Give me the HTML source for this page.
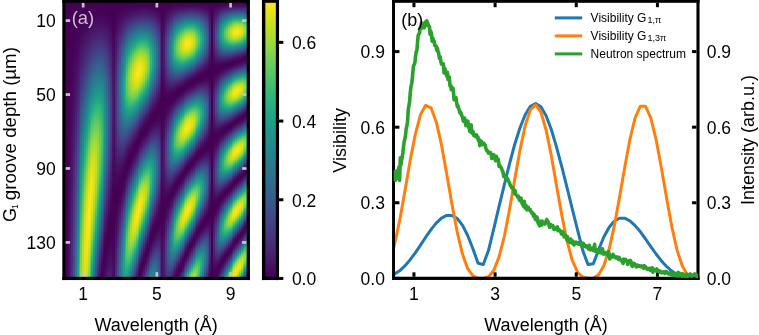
<!DOCTYPE html>
<html><head><meta charset="utf-8"><title>fig</title>
<style>
html,body{margin:0;padding:0;background:#fff}
body{width:759px;height:335px;position:relative;overflow:hidden;font-family:"Liberation Sans",sans-serif}
#hm i{position:absolute;top:1px;width:1px;height:278px;display:block}
#cbar{position:absolute;left:264.35px;top:1.20px;width:12.50px;height:277.25px;background:linear-gradient(#fde725,#efe51c,#dfe318,#cde11d,#bddf26,#addc30,#9bd93c,#8bd646,#7ad151,#6ccd5a,#5ec962,#50c46a,#44bf70,#38b977,#2fb47c,#28ae80,#22a884,#1fa287,#1e9c89,#1f968b,#21918c,#238a8d,#25848e,#277e8e,#2a788e,#2c728e,#2f6c8e,#31668e,#355f8d,#38598c,#3b528b,#3e4a89,#414487,#443b84,#463480,#472d7b,#482475,#481c6e,#471365,#460a5d,#440154)}
</style></head><body>
<div id="hm">
<i style="left:64px;background:linear-gradient(#440154,#440154,#440154,#440154,#440154,#440154,#440154,#440154,#440154,#440154,#440154,#440154,#440154,#440154,#440154,#440154,#440154,#440154,#440154,#440154,#440154,#440154,#440154,#440154,#440154,#440154,#440154,#440154,#440154,#440154,#440154,#440154,#440154,#440154,#440154,#440154,#440154,#440154,#440154,#440154,#440154,#440154,#440154,#440154,#440154,#440154,#440154,#440154,#440154,#440154,#440154,#440154,#440154,#440154,#440154,#440154,#440154,#440154,#440154,#440154,#440154,#440154,#440154,#440154,#440154,#440154,#440154,#440154,#440154,#440154,#440154,#440154,#440154,#440154,#440154,#440154,#440154,#440154,#440154,#440154,#440154,#440154,#440154,#440154,#440154,#440154,#440154,#440154,#440154,#440154,#440154,#440154,#440154,#440154,#440154,#440154,#440154,#440154,#440154,#440154,#440154,#440154,#440154,#440154,#440154,#440154,#440154,#440154,#440154,#440154,#440154,#440154,#440154,#440154,#440154,#440154,#440154,#440154,#440154,#440154)"></i>
<i style="left:65px;background:linear-gradient(#440154,#440154,#440154,#440154,#440154,#440154,#440154,#440154,#440154,#440154,#440154,#440154,#440154,#440154,#440154,#440154,#440154,#440154,#440154,#440154,#440154,#440154,#440154,#440154,#440154,#440154,#440154,#440154,#440154,#440154,#440154,#440154,#440154,#440154,#440154,#440154,#440154,#440154,#440154,#440154,#440154,#440154,#440154,#440154,#440154,#440154,#440154,#440154,#440154,#440154,#440154,#440154,#440154,#440154,#440154,#440154,#440154,#440154,#440154,#440154,#440154,#440154,#440154,#440154,#440154,#440154,#440154,#440154,#440154,#440154,#440154,#440154,#440154,#440154,#440154,#440154,#440154,#440154,#440154,#440154,#440154,#440154,#440154,#440154,#440154,#440154,#440154,#440154,#440154,#440154,#440154,#440154,#440154,#440154,#440154,#440154,#440154,#440154,#440154,#440154,#440154,#440154,#440154,#440154,#440154,#440154,#440154,#440154,#440154,#440154,#440154,#440154,#440154,#440154,#440154,#440154,#440154,#440154,#440154,#440154)"></i>
<i style="left:66px;background:linear-gradient(#440154,#440154,#440154,#440154,#440154,#440154,#440154,#440154,#440154,#440154,#440154,#440154,#440154,#440154,#440154,#440154,#440154,#440154,#440154,#440154,#440154,#440154,#440154,#440154,#440154,#440154,#440154,#440154,#440154,#440154,#440154,#440154,#440154,#440154,#440154,#440154,#440154,#440154,#440154,#440154,#440154,#440154,#440154,#440154,#440154,#440154,#440154,#440154,#440154,#440154,#440154,#440154,#440154,#440154,#440154,#440154,#440154,#440154,#440154,#440154,#440154,#440154,#440154,#440154,#440154,#440154,#440154,#440154,#440154,#440154,#440154,#440154,#440154,#440154,#440154,#440154,#440154,#440154,#440154,#440154,#440154,#440154,#440154,#440154,#440154,#440154,#440154,#440154,#440154,#440154,#440154,#440154,#440154,#440154,#440154,#440154,#440154,#440154,#440154,#440154,#440154,#440154,#440154,#440154,#440154,#440154,#440154,#440154,#440154,#440154,#440154,#440154,#440154,#440154,#440154,#440154,#440154,#440154,#440154,#440154)"></i>
<i style="left:67px;background:linear-gradient(#440154,#440154,#440154,#440154,#440154,#440154,#440154,#440154,#440154,#440154,#440154,#440154,#440154,#440154,#440154,#440154,#440154,#440154,#440154,#440154,#440154,#440154,#440154,#440154,#440154,#440154,#440154,#440154,#440154,#440154,#440154,#440154,#440154,#440154,#440154,#440154,#440154,#440154,#440154,#440154,#440154,#440154,#440154,#440154,#440154,#440154,#440154,#440154,#440154,#440154,#440256,#440256,#440256,#440256,#440256,#440256,#440256,#440256,#440256,#440256,#440256,#440256,#440256,#440256,#440256,#440256,#440256,#440256,#440256,#440256,#440256,#450457,#450457,#450457,#450457,#450457,#450457,#450457,#450457,#450457,#450457,#450457,#450457,#450457,#450457,#450457,#450457,#450559,#450559,#450559,#450559,#450559,#450559,#450559,#450559,#450559,#450559,#450559,#450559,#450559,#46075a,#46075a,#46075a,#46075a,#46075a,#46075a,#46075a,#46075a,#46075a,#46075a,#46075a,#46075a,#46075a,#46085c,#46085c,#46085c,#46085c,#46085c,#46085c,#46085c)"></i>
<i style="left:68px;background:linear-gradient(#440154,#440154,#440154,#440154,#440154,#440154,#440154,#440154,#440154,#440154,#440154,#440154,#440154,#440154,#440154,#440154,#440154,#440154,#440154,#440154,#440154,#440154,#440154,#440154,#440154,#440154,#440154,#440154,#440154,#440154,#440154,#440154,#440154,#440154,#440154,#440154,#440154,#440154,#440154,#440154,#440154,#440154,#440154,#440154,#440154,#440154,#440154,#440154,#440154,#440154,#440256,#440256,#440256,#440256,#440256,#440256,#440256,#440256,#440256,#440256,#440256,#440256,#440256,#440256,#440256,#440256,#440256,#440256,#440256,#440256,#440256,#450457,#450457,#450457,#450457,#450457,#450457,#450457,#450457,#450457,#450457,#450457,#450457,#450457,#450457,#450457,#450457,#450559,#450559,#450559,#450559,#450559,#450559,#450559,#450559,#450559,#450559,#450559,#450559,#450559,#46075a,#46075a,#46075a,#46075a,#46075a,#46075a,#46075a,#46075a,#46075a,#46075a,#46075a,#46075a,#46075a,#46085c,#46085c,#46085c,#46085c,#46085c,#46085c,#46085c)"></i>
<i style="left:69px;background:linear-gradient(#440154,#440154,#440154,#440154,#440154,#440154,#440154,#440154,#440154,#440154,#440154,#440154,#440154,#440154,#440154,#440154,#440154,#440154,#440154,#440154,#440154,#440154,#440154,#440154,#440154,#440154,#440154,#440154,#440256,#440256,#440256,#440256,#440256,#440256,#440256,#440256,#440256,#440256,#440256,#450457,#450457,#450457,#450457,#450457,#450457,#450457,#450457,#450457,#450559,#450559,#450559,#450559,#450559,#450559,#450559,#46075a,#46075a,#46075a,#46075a,#46075a,#46075a,#46075a,#46085c,#46085c,#46085c,#46085c,#46085c,#46085c,#460a5d,#460a5d,#460a5d,#460a5d,#460a5d,#460b5e,#460b5e,#460b5e,#460b5e,#460b5e,#470d60,#470d60,#470d60,#470d60,#470d60,#470e61,#470e61,#470e61,#470e61,#470e61,#471063,#471063,#471063,#471063,#471164,#471164,#471164,#471164,#471365,#471365,#471365,#471365,#471365,#481467,#481467,#481467,#481467,#481668,#481668,#481668,#481769,#481769,#481769,#481769,#48186a,#48186a,#48186a,#48186a,#481a6c,#481a6c,#481a6c,#481b6d)"></i>
<i style="left:70px;background:linear-gradient(#440154,#440154,#440154,#440154,#440154,#440154,#440154,#440154,#440154,#440154,#440154,#440154,#440154,#440154,#440154,#440154,#440154,#440154,#440154,#440154,#440154,#440154,#440154,#440154,#440154,#440154,#440154,#440154,#440256,#440256,#440256,#440256,#440256,#440256,#440256,#440256,#440256,#440256,#440256,#450457,#450457,#450457,#450457,#450457,#450457,#450457,#450457,#450457,#450559,#450559,#450559,#450559,#450559,#450559,#450559,#46075a,#46075a,#46075a,#46075a,#46075a,#46075a,#46075a,#46085c,#46085c,#46085c,#46085c,#46085c,#46085c,#460a5d,#460a5d,#460a5d,#460a5d,#460a5d,#460b5e,#460b5e,#460b5e,#460b5e,#460b5e,#470d60,#470d60,#470d60,#470d60,#470d60,#470e61,#470e61,#470e61,#470e61,#470e61,#471063,#471063,#471063,#471063,#471164,#471164,#471164,#471164,#471365,#471365,#471365,#471365,#471365,#481467,#481467,#481467,#481467,#481668,#481668,#481668,#481769,#481769,#481769,#481769,#48186a,#48186a,#48186a,#48186a,#481a6c,#481a6c,#481a6c,#481b6d)"></i>
<i style="left:71px;background:linear-gradient(#440154,#440154,#440154,#440154,#440154,#440154,#440154,#440154,#440154,#440154,#440154,#440154,#440154,#440154,#440154,#440154,#440154,#440154,#440154,#440256,#440256,#440256,#440256,#440256,#440256,#440256,#450457,#450457,#450457,#450457,#450457,#450457,#450559,#450559,#450559,#450559,#46075a,#46075a,#46075a,#46075a,#46075a,#46085c,#46085c,#46085c,#46085c,#460a5d,#460a5d,#460a5d,#460b5e,#460b5e,#460b5e,#470d60,#470d60,#470d60,#470d60,#470e61,#470e61,#470e61,#471063,#471063,#471164,#471164,#471164,#471365,#471365,#471365,#481467,#481467,#481668,#481668,#481668,#481769,#481769,#48186a,#48186a,#48186a,#481a6c,#481a6c,#481b6d,#481b6d,#481c6e,#481c6e,#481d6f,#481d6f,#481f70,#481f70,#481f70,#482071,#482071,#482173,#482173,#482374,#482374,#482475,#482475,#482576,#482576,#482677,#482878,#482878,#482979,#482979,#472a7a,#472a7a,#472c7a,#472c7a,#472d7b,#472d7b,#472e7c,#472e7c,#472f7d,#46307e,#46307e,#46327e,#46327e,#46337f,#46337f,#463480,#453581,#453581)"></i>
<i style="left:72px;background:linear-gradient(#440154,#440154,#440154,#440154,#440154,#440154,#440154,#440154,#440154,#440154,#440154,#440154,#440154,#440154,#440154,#440154,#440154,#440154,#440154,#440256,#440256,#440256,#440256,#440256,#440256,#440256,#450457,#450457,#450457,#450457,#450457,#450457,#450559,#450559,#450559,#450559,#46075a,#46075a,#46075a,#46075a,#46075a,#46085c,#46085c,#46085c,#46085c,#460a5d,#460a5d,#460a5d,#460b5e,#460b5e,#460b5e,#470d60,#470d60,#470d60,#470d60,#470e61,#470e61,#470e61,#471063,#471063,#471164,#471164,#471164,#471365,#471365,#471365,#481467,#481467,#481668,#481668,#481668,#481769,#481769,#48186a,#48186a,#48186a,#481a6c,#481a6c,#481b6d,#481b6d,#481c6e,#481c6e,#481d6f,#481d6f,#481f70,#481f70,#481f70,#482071,#482071,#482173,#482173,#482374,#482374,#482475,#482475,#482576,#482576,#482677,#482878,#482878,#482979,#482979,#472a7a,#472a7a,#472c7a,#472c7a,#472d7b,#472d7b,#472e7c,#472e7c,#472f7d,#46307e,#46307e,#46327e,#46327e,#46337f,#46337f,#463480,#453581,#453581)"></i>
<i style="left:73px;background:linear-gradient(#440154,#440154,#440154,#440154,#440154,#440154,#440154,#440154,#440154,#440154,#440154,#440154,#440154,#440154,#440256,#440256,#440256,#440256,#440256,#450457,#450457,#450457,#450457,#450559,#450559,#450559,#450559,#46075a,#46075a,#46075a,#46085c,#46085c,#460a5d,#460a5d,#460a5d,#460b5e,#460b5e,#470d60,#470d60,#470d60,#470e61,#470e61,#471063,#471063,#471164,#471164,#471365,#471365,#481467,#481668,#481668,#481769,#481769,#48186a,#48186a,#481a6c,#481b6d,#481b6d,#481c6e,#481d6f,#481d6f,#481f70,#482071,#482071,#482173,#482374,#482374,#482475,#482576,#482576,#482677,#482878,#482979,#482979,#472a7a,#472c7a,#472d7b,#472e7c,#472e7c,#472f7d,#46307e,#46327e,#46337f,#46337f,#463480,#453581,#453781,#453882,#443983,#443983,#443a83,#443b84,#433d84,#433e85,#423f85,#424086,#424186,#424186,#414287,#414487,#404588,#404688,#3f4788,#3f4889,#3e4989,#3e4a89,#3e4c8a,#3d4d8a,#3d4d8a,#3d4e8a,#3c4f8a,#3c508b,#3b518b,#3b528b,#3a538b,#3a548c,#39558c,#39568c,#38588c,#38598c)"></i>
<i style="left:74px;background:linear-gradient(#440154,#440154,#440154,#440154,#440154,#440154,#440154,#440154,#440154,#440154,#440154,#440154,#440154,#440154,#440256,#440256,#440256,#440256,#440256,#450457,#450457,#450457,#450457,#450559,#450559,#450559,#450559,#46075a,#46075a,#46075a,#46085c,#46085c,#460a5d,#460a5d,#460a5d,#460b5e,#460b5e,#470d60,#470d60,#470d60,#470e61,#470e61,#471063,#471063,#471164,#471164,#471365,#471365,#481467,#481668,#481668,#481769,#481769,#48186a,#48186a,#481a6c,#481b6d,#481b6d,#481c6e,#481d6f,#481d6f,#481f70,#482071,#482071,#482173,#482374,#482374,#482475,#482576,#482576,#482677,#482878,#482979,#482979,#472a7a,#472c7a,#472d7b,#472e7c,#472e7c,#472f7d,#46307e,#46327e,#46337f,#46337f,#463480,#453581,#453781,#453882,#443983,#443983,#443a83,#443b84,#433d84,#433e85,#423f85,#424086,#424186,#424186,#414287,#414487,#404588,#404688,#3f4788,#3f4889,#3e4989,#3e4a89,#3e4c8a,#3d4d8a,#3d4d8a,#3d4e8a,#3c4f8a,#3c508b,#3b518b,#3b528b,#3a538b,#3a548c,#39558c,#39568c,#38588c,#38598c)"></i>
<i style="left:75px;background:linear-gradient(#440154,#440154,#440154,#440154,#440154,#440154,#440154,#440154,#440154,#440154,#440154,#440256,#440256,#440256,#440256,#450457,#450457,#450457,#450559,#450559,#450559,#46075a,#46075a,#46085c,#46085c,#460a5d,#460a5d,#460b5e,#460b5e,#470d60,#470d60,#470e61,#471063,#471063,#471164,#471365,#471365,#481467,#481668,#481668,#481769,#48186a,#481a6c,#481b6d,#481b6d,#481c6e,#481d6f,#481f70,#482071,#482173,#482374,#482475,#482576,#482576,#482677,#482878,#482979,#472a7a,#472c7a,#472e7c,#472f7d,#46307e,#46327e,#46337f,#463480,#453581,#453781,#453882,#443983,#443b84,#433d84,#433e85,#423f85,#424086,#424186,#414487,#404588,#404688,#3f4788,#3e4989,#3e4a89,#3e4c8a,#3d4d8a,#3c4f8a,#3c508b,#3b518b,#3b528b,#3a548c,#39558c,#39568c,#38598c,#375a8c,#375b8d,#365c8d,#355e8d,#355f8d,#34608d,#33628d,#33638d,#32648e,#31668e,#31678e,#31688e,#30698e,#2f6b8e,#2f6c8e,#2e6d8e,#2e6f8e,#2d708e,#2d718e,#2c728e,#2c738e,#2b748e,#2b758e,#2a778e,#2a788e,#29798e,#297b8e,#287c8e,#287d8e)"></i>
<i style="left:76px;background:linear-gradient(#440154,#440154,#440154,#440154,#440154,#440154,#440154,#440154,#440154,#440154,#440154,#440256,#440256,#440256,#440256,#450457,#450457,#450457,#450559,#450559,#450559,#46075a,#46075a,#46085c,#46085c,#460a5d,#460a5d,#460b5e,#460b5e,#470d60,#470d60,#470e61,#471063,#471063,#471164,#471365,#471365,#481467,#481668,#481668,#481769,#48186a,#481a6c,#481b6d,#481b6d,#481c6e,#481d6f,#481f70,#482071,#482173,#482374,#482475,#482576,#482576,#482677,#482878,#482979,#472a7a,#472c7a,#472e7c,#472f7d,#46307e,#46327e,#46337f,#463480,#453581,#453781,#453882,#443983,#443b84,#433d84,#433e85,#423f85,#424086,#424186,#414487,#404588,#404688,#3f4788,#3e4989,#3e4a89,#3e4c8a,#3d4d8a,#3c4f8a,#3c508b,#3b518b,#3b528b,#3a548c,#39558c,#39568c,#38598c,#375a8c,#375b8d,#365c8d,#355e8d,#355f8d,#34608d,#33628d,#33638d,#32648e,#31668e,#31678e,#31688e,#30698e,#2f6b8e,#2f6c8e,#2e6d8e,#2e6f8e,#2d708e,#2d718e,#2c728e,#2c738e,#2b748e,#2b758e,#2a778e,#2a788e,#29798e,#297b8e,#287c8e,#287d8e)"></i>
<i style="left:77px;background:linear-gradient(#440154,#440154,#440154,#440154,#440154,#440154,#440154,#440154,#440154,#440256,#440256,#440256,#450457,#450457,#450457,#450559,#450559,#46075a,#46075a,#46085c,#460a5d,#460a5d,#460b5e,#460b5e,#470d60,#470e61,#471063,#471063,#471164,#471365,#481467,#481668,#481769,#48186a,#481a6c,#481b6d,#481c6e,#481d6f,#481f70,#482071,#482173,#482374,#482576,#482677,#482878,#482979,#472c7a,#472d7b,#472e7c,#46307e,#46327e,#46337f,#453581,#453781,#443983,#443a83,#443b84,#433e85,#423f85,#424186,#414487,#404588,#3f4788,#3f4889,#3e4a89,#3e4c8a,#3d4e8a,#3c508b,#3b518b,#3a538b,#39558c,#39568c,#38598c,#375b8d,#365c8d,#355e8d,#34608d,#34618d,#33638d,#32658e,#31668e,#31688e,#306a8e,#2f6c8e,#2e6d8e,#2e6f8e,#2d718e,#2c728e,#2c738e,#2b758e,#2a778e,#2a788e,#297a8e,#287c8e,#277e8e,#277f8e,#26818e,#26828e,#25838e,#25858e,#24878e,#23888e,#238a8d,#228c8d,#228d8d,#218f8d,#21908d,#20928c,#20938c,#1f948c,#1f968b,#1f978b,#1f998a,#1f9a8a,#1e9c89,#1e9d89,#1f9f88,#1fa088,#1fa187,#1fa287)"></i>
<i style="left:78px;background:linear-gradient(#440154,#440154,#440154,#440154,#440154,#440154,#440154,#440154,#440154,#440256,#440256,#440256,#450457,#450457,#450457,#450559,#450559,#46075a,#46075a,#46085c,#460a5d,#460a5d,#460b5e,#460b5e,#470d60,#470e61,#471063,#471063,#471164,#471365,#481467,#481668,#481769,#48186a,#481a6c,#481b6d,#481c6e,#481d6f,#481f70,#482071,#482173,#482374,#482576,#482677,#482878,#482979,#472c7a,#472d7b,#472e7c,#46307e,#46327e,#46337f,#453581,#453781,#443983,#443a83,#443b84,#433e85,#423f85,#424186,#414487,#404588,#3f4788,#3f4889,#3e4a89,#3e4c8a,#3d4e8a,#3c508b,#3b518b,#3a538b,#39558c,#39568c,#38598c,#375b8d,#365c8d,#355e8d,#34608d,#34618d,#33638d,#32658e,#31668e,#31688e,#306a8e,#2f6c8e,#2e6d8e,#2e6f8e,#2d718e,#2c728e,#2c738e,#2b758e,#2a778e,#2a788e,#297a8e,#287c8e,#277e8e,#277f8e,#26818e,#26828e,#25838e,#25858e,#24878e,#23888e,#238a8d,#228c8d,#228d8d,#218f8d,#21908d,#20928c,#20938c,#1f948c,#1f968b,#1f978b,#1f998a,#1f9a8a,#1e9c89,#1e9d89,#1f9f88,#1fa088,#1fa187,#1fa287)"></i>
<i style="left:79px;background:linear-gradient(#440154,#440154,#440154,#440154,#440154,#440154,#440154,#440154,#440256,#440256,#450457,#450457,#450559,#450559,#46075a,#46075a,#46085c,#460a5d,#460a5d,#460b5e,#470d60,#470e61,#471063,#471164,#471365,#481467,#481668,#481769,#48186a,#481b6d,#481c6e,#481d6f,#481f70,#482173,#482374,#482576,#482677,#482979,#472a7a,#472d7b,#472e7c,#46307e,#46337f,#463480,#453781,#443983,#443a83,#433d84,#423f85,#424186,#414487,#404688,#3f4889,#3e4a89,#3d4d8a,#3d4e8a,#3c508b,#3b528b,#39558c,#38588c,#375a8c,#365c8d,#355e8d,#34608d,#33628d,#32648e,#31668e,#31688e,#2f6b8e,#2e6d8e,#2e6f8e,#2d718e,#2c728e,#2b748e,#2a778e,#29798e,#297b8e,#287d8e,#277f8e,#26818e,#25838e,#25858e,#24878e,#23898e,#228b8d,#228d8d,#218f8d,#21918c,#20938c,#1f958b,#1f978b,#1f998a,#1e9b8a,#1e9d89,#1f9f88,#1fa188,#1fa287,#20a486,#21a685,#22a884,#23a983,#25ab82,#26ad81,#28ae80,#2ab07f,#2db27d,#2eb37c,#31b57b,#34b679,#35b779,#38b977,#3bbb75,#3dbc74,#40bd72,#42be71,#46c06f,#48c16e,#4ac16d,#4ec36b,#50c46a)"></i>
<i style="left:80px;background:linear-gradient(#440154,#440154,#440154,#440154,#440154,#440154,#440154,#440256,#440256,#450457,#450457,#450559,#46075a,#46075a,#46085c,#460a5d,#460b5e,#470d60,#470e61,#471063,#471164,#471365,#481668,#481769,#48186a,#481b6d,#481c6e,#481f70,#482071,#482374,#482576,#482677,#482979,#472c7a,#472e7c,#46307e,#46337f,#453581,#453882,#443a83,#433d84,#423f85,#424186,#414487,#3f4788,#3e4989,#3e4c8a,#3c4f8a,#3b518b,#3a538b,#39568c,#38598c,#365c8d,#355e8d,#34618d,#33638d,#31668e,#31688e,#2f6b8e,#2e6e8e,#2d708e,#2c728e,#2b748e,#2a778e,#297a8e,#287c8e,#277f8e,#26828e,#25838e,#24868e,#23888e,#228b8d,#218e8d,#21908d,#20928c,#1f948c,#1f978b,#1f9a8a,#1e9c89,#1f9f88,#1fa188,#20a386,#21a585,#22a884,#24aa83,#25ac82,#28ae80,#2ab07f,#2db27d,#31b57b,#34b679,#37b878,#3aba76,#3fbc73,#42be71,#46c06f,#4ac16d,#4ec36b,#52c569,#56c667,#5ac864,#5cc863,#60ca60,#65cb5e,#69cd5b,#6ccd5a,#70cf57,#73d056,#77d153,#7ad151,#7fd34e,#81d34d,#84d44b,#86d549,#8bd646,#8ed645,#90d743,#93d741,#95d840,#98d83e)"></i>
<i style="left:81px;background:linear-gradient(#440154,#440154,#440154,#440154,#440154,#440154,#440154,#440256,#440256,#450457,#450457,#450559,#46075a,#46075a,#46085c,#460a5d,#460b5e,#470d60,#470e61,#471063,#471164,#471365,#481668,#481769,#48186a,#481b6d,#481c6e,#481f70,#482071,#482374,#482576,#482677,#482979,#472c7a,#472e7c,#46307e,#46337f,#453581,#453882,#443a83,#433d84,#423f85,#424186,#414487,#3f4788,#3e4989,#3e4c8a,#3c4f8a,#3b518b,#3a538b,#39568c,#38598c,#365c8d,#355e8d,#34618d,#33638d,#31668e,#31688e,#2f6b8e,#2e6e8e,#2d708e,#2c728e,#2b748e,#2a778e,#297a8e,#287c8e,#277f8e,#26828e,#25838e,#24868e,#23888e,#228b8d,#218e8d,#21908d,#20928c,#1f948c,#1f978b,#1f9a8a,#1e9c89,#1f9f88,#1fa188,#20a386,#21a585,#22a884,#24aa83,#25ac82,#28ae80,#2ab07f,#2db27d,#31b57b,#34b679,#37b878,#3aba76,#3fbc73,#42be71,#46c06f,#4ac16d,#4ec36b,#52c569,#56c667,#5ac864,#5cc863,#60ca60,#65cb5e,#69cd5b,#6ccd5a,#70cf57,#73d056,#77d153,#7ad151,#7fd34e,#81d34d,#84d44b,#86d549,#8bd646,#8ed645,#90d743,#93d741,#95d840,#98d83e)"></i>
<i style="left:82px;background:linear-gradient(#440154,#440154,#440154,#440154,#440154,#440154,#440256,#440256,#450457,#450457,#450559,#46075a,#46085c,#460a5d,#460b5e,#470d60,#470e61,#471063,#471365,#481467,#481769,#48186a,#481b6d,#481d6f,#481f70,#482173,#482475,#482677,#482979,#472c7a,#472e7c,#46327e,#463480,#453781,#443a83,#433d84,#423f85,#414287,#404688,#3f4889,#3e4c8a,#3c4f8a,#3b518b,#3a548c,#38588c,#375b8d,#355e8d,#34618d,#33638d,#31668e,#30698e,#2f6c8e,#2e6f8e,#2c718e,#2b758e,#2a788e,#297b8e,#277e8e,#26818e,#25838e,#24868e,#23898e,#228c8d,#218f8d,#20928c,#1f958b,#1f988b,#1e9b8a,#1f9e89,#1fa188,#20a386,#21a685,#23a983,#25ac82,#27ad81,#2ab07f,#2eb37c,#32b67a,#37b878,#3bbb75,#3fbc73,#44bf70,#4ac16d,#4ec36b,#54c568,#58c765,#5cc863,#63cb5f,#67cc5c,#6ccd5a,#73d056,#77d153,#7cd250,#81d34d,#86d549,#8bd646,#90d743,#93d741,#98d83e,#9dd93b,#a0da39,#a5db36,#a8db34,#addc30,#b0dd2f,#b2dd2d,#b5de2b,#b8de29,#bade28,#bddf26,#c0df25,#c2df23,#c2df23,#c5e021,#c5e021,#c8e020,#c8e020,#c8e020,#c8e020,#c8e020)"></i>
<i style="left:83px;background:linear-gradient(#440154,#440154,#440154,#440154,#440154,#440154,#440256,#440256,#450457,#450457,#450559,#46075a,#46085c,#460a5d,#460b5e,#470d60,#470e61,#471063,#471365,#481467,#481769,#48186a,#481b6d,#481d6f,#481f70,#482173,#482475,#482677,#482979,#472c7a,#472e7c,#46327e,#463480,#453781,#443a83,#433d84,#423f85,#414287,#404688,#3f4889,#3e4c8a,#3c4f8a,#3b518b,#3a548c,#38588c,#375b8d,#355e8d,#34618d,#33638d,#31668e,#30698e,#2f6c8e,#2e6f8e,#2c718e,#2b758e,#2a788e,#297b8e,#277e8e,#26818e,#25838e,#24868e,#23898e,#228c8d,#218f8d,#20928c,#1f958b,#1f988b,#1e9b8a,#1f9e89,#1fa188,#20a386,#21a685,#23a983,#25ac82,#27ad81,#2ab07f,#2eb37c,#32b67a,#37b878,#3bbb75,#3fbc73,#44bf70,#4ac16d,#4ec36b,#54c568,#58c765,#5cc863,#63cb5f,#67cc5c,#6ccd5a,#73d056,#77d153,#7cd250,#81d34d,#86d549,#8bd646,#90d743,#93d741,#98d83e,#9dd93b,#a0da39,#a5db36,#a8db34,#addc30,#b0dd2f,#b2dd2d,#b5de2b,#b8de29,#bade28,#bddf26,#c0df25,#c2df23,#c2df23,#c5e021,#c5e021,#c8e020,#c8e020,#c8e020,#c8e020,#c8e020)"></i>
<i style="left:84px;background:linear-gradient(#440154,#440154,#440154,#440154,#440154,#440256,#440256,#450457,#450457,#450559,#46075a,#46085c,#460a5d,#460b5e,#470e61,#471063,#471365,#481467,#481769,#481a6c,#481c6e,#481f70,#482173,#482475,#482677,#482979,#472d7b,#472f7d,#46337f,#453581,#443983,#433d84,#423f85,#414287,#404688,#3e4989,#3d4d8a,#3c508b,#3a538b,#39568c,#375b8d,#355e8d,#34618d,#32658e,#31688e,#2f6b8e,#2e6f8e,#2c718e,#2b758e,#2a788e,#287c8e,#277f8e,#26828e,#25858e,#23898e,#228c8d,#21908d,#20938c,#1f968b,#1f9a8a,#1e9d89,#1fa188,#20a386,#22a785,#24aa83,#26ad81,#2ab07f,#2eb37c,#32b67a,#38b977,#3dbc74,#42be71,#48c16e,#4ec36b,#54c568,#5ac864,#60ca60,#67cc5c,#6ece58,#75d054,#7ad151,#81d34d,#86d549,#8ed645,#93d741,#9bd93c,#a0da39,#a5db36,#aadc32,#b0dd2f,#b5de2b,#bade28,#bddf26,#c2df23,#c5e021,#cae11f,#cde11d,#d0e11c,#d2e21b,#d5e21a,#d8e219,#dae319,#dde318,#dfe318,#dfe318,#e2e418,#e2e418,#e2e418,#e2e418,#e2e418,#e2e418,#e2e418,#e2e418,#dfe318,#dfe318,#dde318,#dde318,#dae319,#d8e219,#d5e21a)"></i>
<i style="left:85px;background:linear-gradient(#440154,#440154,#440154,#440154,#440154,#440256,#440256,#450457,#450457,#450559,#46075a,#46085c,#460a5d,#460b5e,#470e61,#471063,#471365,#481467,#481769,#481a6c,#481c6e,#481f70,#482173,#482475,#482677,#482979,#472d7b,#472f7d,#46337f,#453581,#443983,#433d84,#423f85,#414287,#404688,#3e4989,#3d4d8a,#3c508b,#3a538b,#39568c,#375b8d,#355e8d,#34618d,#32658e,#31688e,#2f6b8e,#2e6f8e,#2c718e,#2b758e,#2a788e,#287c8e,#277f8e,#26828e,#25858e,#23898e,#228c8d,#21908d,#20938c,#1f968b,#1f9a8a,#1e9d89,#1fa188,#20a386,#22a785,#24aa83,#26ad81,#2ab07f,#2eb37c,#32b67a,#38b977,#3dbc74,#42be71,#48c16e,#4ec36b,#54c568,#5ac864,#60ca60,#67cc5c,#6ece58,#75d054,#7ad151,#81d34d,#86d549,#8ed645,#93d741,#9bd93c,#a0da39,#a5db36,#aadc32,#b0dd2f,#b5de2b,#bade28,#bddf26,#c2df23,#c5e021,#cae11f,#cde11d,#d0e11c,#d2e21b,#d5e21a,#d8e219,#dae319,#dde318,#dfe318,#dfe318,#e2e418,#e2e418,#e2e418,#e2e418,#e2e418,#e2e418,#e2e418,#e2e418,#dfe318,#dfe318,#dde318,#dde318,#dae319,#d8e219,#d5e21a)"></i>
<i style="left:86px;background:linear-gradient(#440154,#440154,#440154,#440154,#440154,#440256,#440256,#450457,#450559,#46075a,#46085c,#460a5d,#470d60,#470e61,#471164,#481467,#481668,#48186a,#481b6d,#481f70,#482173,#482475,#482878,#472a7a,#472e7c,#46327e,#463480,#453882,#443b84,#423f85,#414487,#3f4788,#3e4a89,#3d4e8a,#3b528b,#39558c,#375a8c,#355e8d,#34618d,#32658e,#30698e,#2e6d8e,#2d708e,#2c738e,#2a778e,#297b8e,#277f8e,#26828e,#24868e,#238a8d,#218e8d,#20928c,#1f958b,#1f998a,#1e9d89,#1fa188,#20a486,#22a785,#25ab82,#28ae80,#2db27d,#32b67a,#37b878,#3dbc74,#44bf70,#4ac16d,#52c569,#58c765,#60ca60,#67cc5c,#6ece58,#75d054,#7fd34e,#86d549,#8bd646,#93d741,#9bd93c,#a2da37,#a8db34,#b0dd2f,#b5de2b,#bade28,#c2df23,#c8e020,#cde11d,#d0e11c,#d5e21a,#dae319,#dde318,#e2e418,#e5e419,#e7e419,#eae51a,#ece51b,#efe51c,#efe51c,#f1e51d,#f1e51d,#f4e61e,#f4e61e,#f4e61e,#f4e61e,#f1e51d,#f1e51d,#f1e51d,#efe51c,#ece51b,#eae51a,#e7e419,#e5e419,#e2e418,#dfe318,#dae319,#d8e219,#d2e21b,#cde11d,#c8e020,#c2df23,#bddf26,#b8de29)"></i>
<i style="left:87px;background:linear-gradient(#440154,#440154,#440154,#440154,#440154,#440256,#440256,#450457,#450559,#46075a,#46085c,#460a5d,#470d60,#470e61,#471164,#481467,#481668,#48186a,#481b6d,#481f70,#482173,#482475,#482878,#472a7a,#472e7c,#46327e,#463480,#453882,#443b84,#423f85,#414487,#3f4788,#3e4a89,#3d4e8a,#3b528b,#39558c,#375a8c,#355e8d,#34618d,#32658e,#30698e,#2e6d8e,#2d708e,#2c738e,#2a778e,#297b8e,#277f8e,#26828e,#24868e,#238a8d,#218e8d,#20928c,#1f958b,#1f998a,#1e9d89,#1fa188,#20a486,#22a785,#25ab82,#28ae80,#2db27d,#32b67a,#37b878,#3dbc74,#44bf70,#4ac16d,#52c569,#58c765,#60ca60,#67cc5c,#6ece58,#75d054,#7fd34e,#86d549,#8bd646,#93d741,#9bd93c,#a2da37,#a8db34,#b0dd2f,#b5de2b,#bade28,#c2df23,#c8e020,#cde11d,#d0e11c,#d5e21a,#dae319,#dde318,#e2e418,#e5e419,#e7e419,#eae51a,#ece51b,#efe51c,#efe51c,#f1e51d,#f1e51d,#f4e61e,#f4e61e,#f4e61e,#f4e61e,#f1e51d,#f1e51d,#f1e51d,#efe51c,#ece51b,#eae51a,#e7e419,#e5e419,#e2e418,#dfe318,#dae319,#d8e219,#d2e21b,#cde11d,#c8e020,#c2df23,#bddf26,#b8de29)"></i>
<i style="left:88px;background:linear-gradient(#440154,#440154,#440154,#440154,#440154,#440256,#450457,#450559,#46075a,#46085c,#460a5d,#470d60,#470e61,#471164,#481467,#481769,#481a6c,#481c6e,#482071,#482374,#482677,#472a7a,#472e7c,#46327e,#453581,#443983,#433d84,#424186,#404588,#3e4989,#3d4d8a,#3b518b,#39558c,#375a8c,#355e8d,#33628d,#31668e,#306a8e,#2e6e8e,#2c718e,#2a768e,#297a8e,#277e8e,#26828e,#24868e,#238a8d,#218e8d,#20928c,#1f968b,#1e9b8a,#1f9f88,#1fa287,#21a685,#25ab82,#28ae80,#2db27d,#32b67a,#38b977,#3fbc73,#46c06f,#4ec36b,#56c667,#5ec962,#67cc5c,#6ece58,#77d153,#7fd34e,#89d548,#90d743,#98d83e,#a0da39,#a8db34,#b0dd2f,#b8de29,#bddf26,#c5e021,#cae11f,#d0e11c,#d5e21a,#dae319,#dfe318,#e5e419,#e7e419,#ece51b,#efe51c,#f1e51d,#f4e61e,#f6e620,#f6e620,#f8e621,#f8e621,#fbe723,#fbe723,#fbe723,#f8e621,#f8e621,#f6e620,#f6e620,#f4e61e,#f1e51d,#efe51c,#ece51b,#e7e419,#e5e419,#dfe318,#dae319,#d5e21a,#d0e11c,#cae11f,#c5e021,#bddf26,#b8de29,#b0dd2f,#a8db34,#a0da39,#98d83e,#90d743,#89d548,#7fd34e,#77d153)"></i>
<i style="left:89px;background:linear-gradient(#440154,#440154,#440154,#440154,#440154,#440256,#450457,#450559,#46075a,#46085c,#460a5d,#470d60,#470e61,#471164,#481467,#481769,#481a6c,#481c6e,#482071,#482374,#482677,#472a7a,#472e7c,#46327e,#453581,#443983,#433d84,#424186,#404588,#3e4989,#3d4d8a,#3b518b,#39558c,#375a8c,#355e8d,#33628d,#31668e,#306a8e,#2e6e8e,#2c718e,#2a768e,#297a8e,#277e8e,#26828e,#24868e,#238a8d,#218e8d,#20928c,#1f968b,#1e9b8a,#1f9f88,#1fa287,#21a685,#25ab82,#28ae80,#2db27d,#32b67a,#38b977,#3fbc73,#46c06f,#4ec36b,#56c667,#5ec962,#67cc5c,#6ece58,#77d153,#7fd34e,#89d548,#90d743,#98d83e,#a0da39,#a8db34,#b0dd2f,#b8de29,#bddf26,#c5e021,#cae11f,#d0e11c,#d5e21a,#dae319,#dfe318,#e5e419,#e7e419,#ece51b,#efe51c,#f1e51d,#f4e61e,#f6e620,#f6e620,#f8e621,#f8e621,#fbe723,#fbe723,#fbe723,#f8e621,#f8e621,#f6e620,#f6e620,#f4e61e,#f1e51d,#efe51c,#ece51b,#e7e419,#e5e419,#dfe318,#dae319,#d5e21a,#d0e11c,#cae11f,#c5e021,#bddf26,#b8de29,#b0dd2f,#a8db34,#a0da39,#98d83e,#90d743,#89d548,#7fd34e,#77d153)"></i>
<i style="left:90px;background:linear-gradient(#440154,#440154,#440154,#440154,#440256,#440256,#450457,#450559,#46075a,#460a5d,#460b5e,#470e61,#471164,#481467,#481769,#481a6c,#481d6f,#482071,#482475,#482878,#472c7a,#472f7d,#463480,#453882,#443b84,#424086,#404588,#3e4989,#3d4e8a,#3b528b,#39568c,#375b8d,#355f8d,#32648e,#31688e,#2f6c8e,#2d718e,#2b748e,#29798e,#277e8e,#26828e,#24868e,#228b8d,#218f8d,#20938c,#1f988b,#1e9c89,#1fa188,#21a585,#23a983,#27ad81,#2cb17e,#32b67a,#38b977,#3fbc73,#48c16e,#50c46a,#58c765,#60ca60,#69cd5b,#73d056,#7cd250,#84d44b,#8ed645,#95d840,#9dd93b,#a8db34,#b0dd2f,#b5de2b,#bddf26,#c5e021,#cae11f,#d2e21b,#d8e219,#dde318,#e2e418,#e5e419,#eae51a,#ece51b,#efe51c,#f1e51d,#f4e61e,#f6e620,#f8e621,#f8e621,#f8e621,#f8e621,#f8e621,#f6e620,#f6e620,#f4e61e,#f1e51d,#efe51c,#ece51b,#eae51a,#e5e419,#e2e418,#dde318,#d8e219,#d2e21b,#cae11f,#c5e021,#bddf26,#b5de2b,#addc30,#a5db36,#9dd93b,#95d840,#8ed645,#84d44b,#7ad151,#73d056,#69cd5b,#60ca60,#58c765,#50c46a,#48c16e,#3fbc73,#38b977,#32b67a)"></i>
<i style="left:91px;background:linear-gradient(#440154,#440154,#440154,#440154,#440256,#440256,#450457,#46075a,#46085c,#460b5e,#470d60,#471063,#471365,#481769,#481a6c,#481d6f,#482071,#482475,#482878,#472d7b,#46307e,#463480,#443983,#433e85,#414287,#3f4788,#3e4c8a,#3c508b,#39558c,#375a8c,#355e8d,#33638d,#31688e,#2f6c8e,#2d718e,#2b758e,#297a8e,#277f8e,#25838e,#23888e,#228c8d,#21918c,#1f958b,#1f9a8a,#1f9f88,#20a386,#22a884,#26ad81,#2ab07f,#31b57b,#38b977,#3fbc73,#48c16e,#50c46a,#58c765,#60ca60,#69cd5b,#73d056,#7cd250,#86d549,#8ed645,#98d83e,#a0da39,#a8db34,#b0dd2f,#b8de29,#c0df25,#c5e021,#cde11d,#d2e21b,#d8e219,#dae319,#dfe318,#e2e418,#e7e419,#eae51a,#ece51b,#ece51b,#efe51c,#efe51c,#efe51c,#efe51c,#ece51b,#ece51b,#eae51a,#e7e419,#e5e419,#e2e418,#dde318,#dae319,#d5e21a,#d0e11c,#cae11f,#c2df23,#bddf26,#b5de2b,#addc30,#a5db36,#9dd93b,#95d840,#8bd646,#84d44b,#7ad151,#70cf57,#67cc5c,#5ec962,#56c667,#4cc26c,#44bf70,#3bbb75,#35b779,#2eb37c,#29af7f,#25ab82,#21a685,#1fa187,#1e9d89,#1f988b,#1f948c,#21908d)"></i>
<i style="left:92px;background:linear-gradient(#440154,#440154,#440154,#440154,#440256,#440256,#450457,#46075a,#46085c,#460b5e,#470d60,#471063,#471365,#481769,#481a6c,#481d6f,#482071,#482475,#482878,#472d7b,#46307e,#463480,#443983,#433e85,#414287,#3f4788,#3e4c8a,#3c508b,#39558c,#375a8c,#355e8d,#33638d,#31688e,#2f6c8e,#2d718e,#2b758e,#297a8e,#277f8e,#25838e,#23888e,#228c8d,#21918c,#1f958b,#1f9a8a,#1f9f88,#20a386,#22a884,#26ad81,#2ab07f,#31b57b,#38b977,#3fbc73,#48c16e,#50c46a,#58c765,#60ca60,#69cd5b,#73d056,#7cd250,#86d549,#8ed645,#98d83e,#a0da39,#a8db34,#b0dd2f,#b8de29,#c0df25,#c5e021,#cde11d,#d2e21b,#d8e219,#dae319,#dfe318,#e2e418,#e7e419,#eae51a,#ece51b,#ece51b,#efe51c,#efe51c,#efe51c,#efe51c,#ece51b,#ece51b,#eae51a,#e7e419,#e5e419,#e2e418,#dde318,#dae319,#d5e21a,#d0e11c,#cae11f,#c2df23,#bddf26,#b5de2b,#addc30,#a5db36,#9dd93b,#95d840,#8bd646,#84d44b,#7ad151,#70cf57,#67cc5c,#5ec962,#56c667,#4cc26c,#44bf70,#3bbb75,#35b779,#2eb37c,#29af7f,#25ab82,#21a685,#1fa187,#1e9d89,#1f988b,#1f948c,#21908d)"></i>
<i style="left:93px;background:linear-gradient(#440154,#440154,#440154,#440154,#440256,#450457,#450559,#46075a,#460a5d,#460b5e,#470e61,#471164,#481668,#48186a,#481c6e,#482071,#482475,#482878,#472c7a,#46307e,#463480,#443983,#433e85,#414287,#3f4788,#3d4d8a,#3b518b,#39568c,#375b8d,#34608d,#32658e,#306a8e,#2e6f8e,#2c738e,#2a788e,#287d8e,#26828e,#24868e,#228b8d,#21908d,#1f948c,#1f998a,#1f9e89,#1fa287,#22a785,#25ac82,#2ab07f,#31b57b,#38b977,#3fbc73,#48c16e,#50c46a,#58c765,#60ca60,#69cd5b,#73d056,#7cd250,#86d549,#8ed645,#95d840,#9dd93b,#a5db36,#addc30,#b5de2b,#bade28,#c0df25,#c5e021,#cae11f,#cde11d,#d2e21b,#d5e21a,#d8e219,#dae319,#dae319,#dae319,#dae319,#dae319,#dae319,#d8e219,#d8e219,#d5e21a,#d0e11c,#cde11d,#c8e020,#c2df23,#bddf26,#b8de29,#b2dd2d,#aadc32,#a2da37,#9bd93c,#93d741,#8bd646,#84d44b,#7ad151,#70cf57,#67cc5c,#5ec962,#56c667,#4ec36b,#44bf70,#3dbc74,#35b779,#2fb47c,#29af7f,#25ab82,#21a685,#1fa187,#1e9d89,#1f988b,#20938c,#218f8d,#238a8d,#25858e,#27808e,#297b8e,#2a768e,#2c718e,#2e6d8e,#31688e)"></i>
<i style="left:94px;background:linear-gradient(#440154,#440154,#440154,#440154,#440256,#450457,#450559,#46075a,#460a5d,#460b5e,#470e61,#471164,#481668,#48186a,#481c6e,#482071,#482475,#482878,#472c7a,#46307e,#463480,#443983,#433e85,#414287,#3f4788,#3d4d8a,#3b518b,#39568c,#375b8d,#34608d,#32658e,#306a8e,#2e6f8e,#2c738e,#2a788e,#287d8e,#26828e,#24868e,#228b8d,#21908d,#1f948c,#1f998a,#1f9e89,#1fa287,#22a785,#25ac82,#2ab07f,#31b57b,#38b977,#3fbc73,#48c16e,#50c46a,#58c765,#60ca60,#69cd5b,#73d056,#7cd250,#86d549,#8ed645,#95d840,#9dd93b,#a5db36,#addc30,#b5de2b,#bade28,#c0df25,#c5e021,#cae11f,#cde11d,#d2e21b,#d5e21a,#d8e219,#dae319,#dae319,#dae319,#dae319,#dae319,#dae319,#d8e219,#d8e219,#d5e21a,#d0e11c,#cde11d,#c8e020,#c2df23,#bddf26,#b8de29,#b2dd2d,#aadc32,#a2da37,#9bd93c,#93d741,#8bd646,#84d44b,#7ad151,#70cf57,#67cc5c,#5ec962,#56c667,#4ec36b,#44bf70,#3dbc74,#35b779,#2fb47c,#29af7f,#25ab82,#21a685,#1fa187,#1e9d89,#1f988b,#20938c,#218f8d,#238a8d,#25858e,#27808e,#297b8e,#2a768e,#2c718e,#2e6d8e,#31688e)"></i>
<i style="left:95px;background:linear-gradient(#440154,#440154,#440154,#440154,#440256,#450457,#450559,#46075a,#460a5d,#470d60,#471063,#471365,#481769,#481a6c,#481d6f,#482173,#482576,#472a7a,#472e7c,#46337f,#453882,#433d84,#424186,#3f4788,#3e4c8a,#3b518b,#39558c,#375b8d,#34608d,#32658e,#306a8e,#2e6f8e,#2c738e,#2a788e,#287d8e,#26828e,#24878e,#228c8d,#21918c,#1f958b,#1f9a8a,#1f9f88,#20a386,#22a884,#26ad81,#2cb17e,#32b67a,#38b977,#40bd72,#48c16e,#50c46a,#58c765,#60ca60,#69cd5b,#70cf57,#7ad151,#81d34d,#89d548,#90d743,#95d840,#9dd93b,#a2da37,#a8db34,#addc30,#b2dd2d,#b5de2b,#b8de29,#bade28,#bddf26,#bddf26,#bddf26,#bddf26,#bddf26,#bddf26,#bade28,#b8de29,#b5de2b,#b2dd2d,#addc30,#a8db34,#a2da37,#9dd93b,#95d840,#90d743,#89d548,#81d34d,#7ad151,#70cf57,#69cd5b,#60ca60,#58c765,#50c46a,#48c16e,#3fbc73,#38b977,#31b57b,#2cb17e,#26ad81,#22a884,#20a386,#1f9f88,#1f9a8a,#1f958b,#21918c,#228c8d,#24868e,#26828e,#287d8e,#2a788e,#2c738e,#2e6f8e,#306a8e,#32658e,#34608d,#375b8d,#39558c,#3c508b,#3e4c8a,#404688,#424186)"></i>
<i style="left:96px;background:linear-gradient(#440154,#440154,#440154,#440154,#440256,#450457,#450559,#46075a,#460a5d,#470d60,#471063,#471365,#481769,#481a6c,#481d6f,#482173,#482576,#472a7a,#472e7c,#46337f,#453882,#433d84,#424186,#3f4788,#3e4c8a,#3b518b,#39558c,#375b8d,#34608d,#32658e,#306a8e,#2e6f8e,#2c738e,#2a788e,#287d8e,#26828e,#24878e,#228c8d,#21918c,#1f958b,#1f9a8a,#1f9f88,#20a386,#22a884,#26ad81,#2cb17e,#32b67a,#38b977,#40bd72,#48c16e,#50c46a,#58c765,#60ca60,#69cd5b,#70cf57,#7ad151,#81d34d,#89d548,#90d743,#95d840,#9dd93b,#a2da37,#a8db34,#addc30,#b2dd2d,#b5de2b,#b8de29,#bade28,#bddf26,#bddf26,#bddf26,#bddf26,#bddf26,#bddf26,#bade28,#b8de29,#b5de2b,#b2dd2d,#addc30,#a8db34,#a2da37,#9dd93b,#95d840,#90d743,#89d548,#81d34d,#7ad151,#70cf57,#69cd5b,#60ca60,#58c765,#50c46a,#48c16e,#3fbc73,#38b977,#31b57b,#2cb17e,#26ad81,#22a884,#20a386,#1f9f88,#1f9a8a,#1f958b,#21918c,#228c8d,#24868e,#26828e,#287d8e,#2a788e,#2c738e,#2e6f8e,#306a8e,#32658e,#34608d,#375b8d,#39558c,#3c508b,#3e4c8a,#404688,#424186)"></i>
<i style="left:97px;background:linear-gradient(#440154,#440154,#440154,#440154,#440256,#450457,#450559,#46085c,#460a5d,#470d60,#471063,#481467,#481769,#481b6d,#481f70,#482374,#482878,#472c7a,#46307e,#453581,#443a83,#423f85,#414487,#3e4989,#3d4e8a,#3a538b,#38598c,#355e8d,#33638d,#31688e,#2e6d8e,#2c718e,#2a768e,#297b8e,#27808e,#25848e,#238a8d,#218f8d,#20938c,#1f988b,#1e9d89,#1fa187,#21a585,#24aa83,#28ae80,#2db27d,#32b67a,#3aba76,#40bd72,#48c16e,#4ec36b,#56c667,#5cc863,#65cb5e,#6ccd5a,#70cf57,#77d153,#7cd250,#81d34d,#86d549,#8bd646,#90d743,#93d741,#95d840,#98d83e,#98d83e,#98d83e,#98d83e,#98d83e,#98d83e,#95d840,#93d741,#90d743,#8bd646,#89d548,#84d44b,#7fd34e,#77d153,#73d056,#6ccd5a,#65cb5e,#5ec962,#58c765,#50c46a,#48c16e,#40bd72,#3aba76,#34b679,#2eb37c,#28ae80,#25ab82,#21a685,#1fa187,#1f9e89,#1f998a,#1f948c,#21908d,#228b8d,#25858e,#26818e,#287c8e,#2a778e,#2c728e,#2e6e8e,#30698e,#32648e,#355f8d,#375a8c,#3a548c,#3c4f8a,#3e4a89,#404588,#424086,#443b84,#453781,#46327e,#472d7b,#482878,#482475,#482071)"></i>
<i style="left:98px;background:linear-gradient(#440154,#440154,#440154,#440154,#440256,#450457,#450559,#46085c,#460a5d,#470d60,#471063,#481467,#481769,#481b6d,#481f70,#482374,#482878,#472c7a,#46307e,#453581,#443a83,#423f85,#414487,#3e4989,#3d4e8a,#3a538b,#38598c,#355e8d,#33638d,#31688e,#2e6d8e,#2c718e,#2a768e,#297b8e,#27808e,#25848e,#238a8d,#218f8d,#20938c,#1f988b,#1e9d89,#1fa187,#21a585,#24aa83,#28ae80,#2db27d,#32b67a,#3aba76,#40bd72,#48c16e,#4ec36b,#56c667,#5cc863,#65cb5e,#6ccd5a,#70cf57,#77d153,#7cd250,#81d34d,#86d549,#8bd646,#90d743,#93d741,#95d840,#98d83e,#98d83e,#98d83e,#98d83e,#98d83e,#98d83e,#95d840,#93d741,#90d743,#8bd646,#89d548,#84d44b,#7fd34e,#77d153,#73d056,#6ccd5a,#65cb5e,#5ec962,#58c765,#50c46a,#48c16e,#40bd72,#3aba76,#34b679,#2eb37c,#28ae80,#25ab82,#21a685,#1fa187,#1f9e89,#1f998a,#1f948c,#21908d,#228b8d,#25858e,#26818e,#287c8e,#2a778e,#2c728e,#2e6e8e,#30698e,#32648e,#355f8d,#375a8c,#3a548c,#3c4f8a,#3e4a89,#404588,#424086,#443b84,#453781,#46327e,#472d7b,#482878,#482475,#482071)"></i>
<i style="left:99px;background:linear-gradient(#440154,#440154,#440154,#440154,#440256,#450457,#450559,#46085c,#460b5e,#470d60,#471164,#481467,#48186a,#481c6e,#482071,#482475,#482878,#472d7b,#46327e,#453781,#443b84,#424086,#404588,#3e4a89,#3c4f8a,#3a548c,#375a8c,#355f8d,#33638d,#31688e,#2e6d8e,#2c718e,#2a768e,#297b8e,#27808e,#25848e,#23898e,#218e8d,#20928c,#1f978b,#1e9b8a,#1fa088,#20a386,#22a884,#25ac82,#29af7f,#2eb37c,#32b67a,#38b977,#3dbc74,#42be71,#48c16e,#4ec36b,#54c568,#58c765,#5cc863,#60ca60,#65cb5e,#67cc5c,#69cd5b,#6ccd5a,#6ece58,#6ece58,#6ece58,#6ece58,#6ece58,#6ccd5a,#69cd5b,#67cc5c,#65cb5e,#60ca60,#5ec962,#58c765,#54c568,#50c46a,#4ac16d,#44bf70,#3fbc73,#3aba76,#34b679,#2eb37c,#2ab07f,#26ad81,#23a983,#20a486,#1fa188,#1e9c89,#1f988b,#20938c,#218f8d,#238a8d,#25858e,#26818e,#287c8e,#2a778e,#2c728e,#2e6e8e,#306a8e,#32658e,#34608d,#375b8d,#39558c,#3c508b,#3e4c8a,#404688,#424186,#433d84,#453781,#46327e,#472e7c,#482979,#482576,#482071,#481c6e,#48186a,#481668,#471164,#470e61,#460b5e,#46085c)"></i>
<i style="left:100px;background:linear-gradient(#440154,#440154,#440154,#440154,#440256,#450457,#450559,#46085c,#460b5e,#470d60,#471164,#481467,#48186a,#481c6e,#482071,#482475,#482878,#472d7b,#46327e,#453781,#443b84,#424086,#404588,#3e4a89,#3c4f8a,#3a548c,#375a8c,#355f8d,#33638d,#31688e,#2e6d8e,#2c718e,#2a768e,#297b8e,#27808e,#25848e,#23898e,#218e8d,#20928c,#1f978b,#1e9b8a,#1fa088,#20a386,#22a884,#25ac82,#29af7f,#2eb37c,#32b67a,#38b977,#3dbc74,#42be71,#48c16e,#4ec36b,#54c568,#58c765,#5cc863,#60ca60,#65cb5e,#67cc5c,#69cd5b,#6ccd5a,#6ece58,#6ece58,#6ece58,#6ece58,#6ece58,#6ccd5a,#69cd5b,#67cc5c,#65cb5e,#60ca60,#5ec962,#58c765,#54c568,#50c46a,#4ac16d,#44bf70,#3fbc73,#3aba76,#34b679,#2eb37c,#2ab07f,#26ad81,#23a983,#20a486,#1fa188,#1e9c89,#1f988b,#20938c,#218f8d,#238a8d,#25858e,#26818e,#287c8e,#2a778e,#2c728e,#2e6e8e,#306a8e,#32658e,#34608d,#375b8d,#39558c,#3c508b,#3e4c8a,#404688,#424186,#433d84,#453781,#46327e,#472e7c,#482979,#482576,#482071,#481c6e,#48186a,#481668,#471164,#470e61,#460b5e,#46085c)"></i>
<i style="left:101px;background:linear-gradient(#440154,#440154,#440154,#440154,#440256,#450457,#450559,#46085c,#460a5d,#470d60,#471164,#481467,#48186a,#481b6d,#481f70,#482475,#482878,#472d7b,#46307e,#453581,#443a83,#423f85,#404588,#3e4989,#3d4e8a,#3a538b,#38598c,#365d8d,#33628d,#31678e,#2f6b8e,#2d708e,#2b748e,#29798e,#287d8e,#26828e,#25858e,#238a8d,#218e8d,#20928c,#1f968b,#1f9a8a,#1f9e89,#1fa187,#20a486,#22a884,#25ab82,#27ad81,#2ab07f,#2eb37c,#31b57b,#34b679,#37b878,#3aba76,#3dbc74,#3fbc73,#40bd72,#42be71,#44bf70,#44bf70,#44bf70,#44bf70,#44bf70,#42be71,#40bd72,#3fbc73,#3dbc74,#3aba76,#37b878,#34b679,#31b57b,#2eb37c,#2ab07f,#27ad81,#25ab82,#22a884,#20a486,#1fa188,#1f9e89,#1f9a8a,#1f968b,#20928c,#218e8d,#238a8d,#25858e,#26828e,#287d8e,#2a788e,#2b748e,#2d708e,#2f6b8e,#31668e,#33628d,#365d8d,#38588c,#3a538b,#3d4e8a,#3e4989,#414487,#423f85,#443a83,#453581,#46307e,#472c7a,#482878,#482475,#481f70,#481b6d,#48186a,#481467,#471164,#470d60,#460a5d,#46085c,#450559,#450457,#440256,#440154,#440154,#440154)"></i>
<i style="left:102px;background:linear-gradient(#440154,#440154,#440154,#440154,#440256,#450457,#450559,#46085c,#460a5d,#470d60,#471164,#481467,#48186a,#481b6d,#481f70,#482475,#482878,#472d7b,#46307e,#453581,#443a83,#423f85,#404588,#3e4989,#3d4e8a,#3a538b,#38598c,#365d8d,#33628d,#31678e,#2f6b8e,#2d708e,#2b748e,#29798e,#287d8e,#26828e,#25858e,#238a8d,#218e8d,#20928c,#1f968b,#1f9a8a,#1f9e89,#1fa187,#20a486,#22a884,#25ab82,#27ad81,#2ab07f,#2eb37c,#31b57b,#34b679,#37b878,#3aba76,#3dbc74,#3fbc73,#40bd72,#42be71,#44bf70,#44bf70,#44bf70,#44bf70,#44bf70,#42be71,#40bd72,#3fbc73,#3dbc74,#3aba76,#37b878,#34b679,#31b57b,#2eb37c,#2ab07f,#27ad81,#25ab82,#22a884,#20a486,#1fa188,#1f9e89,#1f9a8a,#1f968b,#20928c,#218e8d,#238a8d,#25858e,#26828e,#287d8e,#2a788e,#2b748e,#2d708e,#2f6b8e,#31668e,#33628d,#365d8d,#38588c,#3a538b,#3d4e8a,#3e4989,#414487,#423f85,#443a83,#453581,#46307e,#472c7a,#482878,#482475,#481f70,#481b6d,#48186a,#481467,#471164,#470d60,#460a5d,#46085c,#450559,#450457,#440256,#440154,#440154,#440154)"></i>
<i style="left:103px;background:linear-gradient(#440154,#440154,#440154,#440154,#440256,#450457,#450559,#46085c,#460a5d,#470d60,#471063,#481467,#481769,#481b6d,#481f70,#482374,#482677,#472a7a,#472f7d,#46337f,#453882,#433d84,#424186,#404688,#3e4a89,#3c508b,#3a548c,#38598c,#355e8d,#33628d,#31668e,#2f6b8e,#2e6f8e,#2c728e,#2a778e,#297b8e,#277f8e,#26828e,#24868e,#23898e,#228d8d,#21908d,#20938c,#1f968b,#1f998a,#1e9c89,#1f9e89,#1fa188,#1fa287,#20a486,#21a685,#22a785,#23a983,#24aa83,#25ab82,#25ab82,#25ac82,#25ac82,#25ac82,#25ac82,#25ab82,#24aa83,#23a983,#22a884,#21a685,#21a585,#20a386,#1fa188,#1f9f88,#1e9d89,#1f9a8a,#1f978b,#1f948c,#21918c,#218e8d,#238a8d,#24878e,#25838e,#27808e,#287c8e,#2a788e,#2b748e,#2d708e,#2f6c8e,#31688e,#33638d,#355f8d,#375b8d,#39558c,#3b518b,#3d4d8a,#3f4788,#414287,#433e85,#443983,#453581,#46307e,#472c7a,#482878,#482475,#481f70,#481c6e,#48186a,#481467,#471164,#470e61,#460b5e,#46085c,#46075a,#450457,#440256,#440154,#440154,#440154,#440154,#440154,#440154,#440256,#450457,#450559)"></i>
<i style="left:104px;background:linear-gradient(#440154,#440154,#440154,#440154,#440256,#450457,#450559,#46075a,#460a5d,#460b5e,#470e61,#471365,#481668,#48186a,#481c6e,#482071,#482475,#482878,#472c7a,#472f7d,#463480,#453882,#433d84,#424186,#404588,#3e4989,#3d4e8a,#3b528b,#39568c,#375b8d,#355e8d,#33628d,#31668e,#306a8e,#2e6d8e,#2d718e,#2c738e,#2a778e,#297a8e,#287d8e,#27808e,#26828e,#25848e,#24878e,#23898e,#228b8d,#228d8d,#218f8d,#21918c,#20928c,#20928c,#20938c,#1f948c,#1f948c,#1f948c,#1f948c,#1f948c,#1f948c,#20938c,#20928c,#20928c,#21918c,#218f8d,#218e8d,#228c8d,#238a8d,#24878e,#25858e,#26828e,#27808e,#287d8e,#297a8e,#2a778e,#2b748e,#2d718e,#2e6e8e,#306a8e,#31678e,#33638d,#355f8d,#375b8d,#39568c,#3b528b,#3c4f8a,#3e4a89,#404688,#424186,#433d84,#443983,#463480,#46307e,#472c7a,#482878,#482475,#482071,#481c6e,#481a6c,#481668,#471365,#471063,#470d60,#460a5d,#46075a,#450559,#450457,#440256,#440154,#440154,#440154,#440154,#440154,#440154,#440256,#450457,#450559,#46075a,#46085c,#460b5e,#470e61,#471164)"></i>
<i style="left:105px;background:linear-gradient(#440154,#440154,#440154,#440154,#440256,#450457,#450559,#46075a,#460a5d,#460b5e,#470e61,#471365,#481668,#48186a,#481c6e,#482071,#482475,#482878,#472c7a,#472f7d,#463480,#453882,#433d84,#424186,#404588,#3e4989,#3d4e8a,#3b528b,#39568c,#375b8d,#355e8d,#33628d,#31668e,#306a8e,#2e6d8e,#2d718e,#2c738e,#2a778e,#297a8e,#287d8e,#27808e,#26828e,#25848e,#24878e,#23898e,#228b8d,#228d8d,#218f8d,#21918c,#20928c,#20928c,#20938c,#1f948c,#1f948c,#1f948c,#1f948c,#1f948c,#1f948c,#20938c,#20928c,#20928c,#21918c,#218f8d,#218e8d,#228c8d,#238a8d,#24878e,#25858e,#26828e,#27808e,#287d8e,#297a8e,#2a778e,#2b748e,#2d718e,#2e6e8e,#306a8e,#31678e,#33638d,#355f8d,#375b8d,#39568c,#3b528b,#3c4f8a,#3e4a89,#404688,#424186,#433d84,#443983,#463480,#46307e,#472c7a,#482878,#482475,#482071,#481c6e,#481a6c,#481668,#471365,#471063,#470d60,#460a5d,#46075a,#450559,#450457,#440256,#440154,#440154,#440154,#440154,#440154,#440154,#440256,#450457,#450559,#46075a,#46085c,#460b5e,#470e61,#471164)"></i>
<i style="left:106px;background:linear-gradient(#440154,#440154,#440154,#440154,#440256,#440256,#450457,#46075a,#46085c,#460a5d,#470d60,#471063,#471365,#481668,#48186a,#481c6e,#481f70,#482374,#482677,#472a7a,#472e7c,#46327e,#453581,#443983,#433d84,#424086,#404588,#3f4889,#3e4c8a,#3c4f8a,#3b528b,#39568c,#375a8c,#365d8d,#34608d,#33628d,#32658e,#31688e,#306a8e,#2e6d8e,#2e6f8e,#2d718e,#2c728e,#2b748e,#2b758e,#2a778e,#2a788e,#29798e,#297a8e,#297b8e,#297b8e,#287c8e,#287c8e,#287c8e,#287c8e,#297b8e,#297b8e,#297a8e,#29798e,#2a788e,#2a768e,#2b758e,#2c738e,#2c718e,#2d708e,#2e6e8e,#2f6b8e,#30698e,#31668e,#32648e,#34618d,#355e8d,#375b8d,#38588c,#3a548c,#3b518b,#3d4d8a,#3e4989,#404688,#414287,#423f85,#443a83,#453781,#46337f,#472f7d,#472c7a,#482878,#482475,#482173,#481d6f,#481a6c,#481769,#481467,#471164,#470e61,#460b5e,#460a5d,#46075a,#450559,#450457,#440256,#440154,#440154,#440154,#440154,#440154,#440154,#440154,#440256,#450457,#450559,#46075a,#460a5d,#460b5e,#470e61,#471164,#481467,#481769,#481b6d,#481d6f)"></i>
<i style="left:107px;background:linear-gradient(#440154,#440154,#440154,#440154,#440256,#440256,#450457,#46075a,#46085c,#460a5d,#470d60,#471063,#471365,#481668,#48186a,#481c6e,#481f70,#482374,#482677,#472a7a,#472e7c,#46327e,#453581,#443983,#433d84,#424086,#404588,#3f4889,#3e4c8a,#3c4f8a,#3b528b,#39568c,#375a8c,#365d8d,#34608d,#33628d,#32658e,#31688e,#306a8e,#2e6d8e,#2e6f8e,#2d718e,#2c728e,#2b748e,#2b758e,#2a778e,#2a788e,#29798e,#297a8e,#297b8e,#297b8e,#287c8e,#287c8e,#287c8e,#287c8e,#297b8e,#297b8e,#297a8e,#29798e,#2a788e,#2a768e,#2b758e,#2c738e,#2c718e,#2d708e,#2e6e8e,#2f6b8e,#30698e,#31668e,#32648e,#34618d,#355e8d,#375b8d,#38588c,#3a548c,#3b518b,#3d4d8a,#3e4989,#404688,#414287,#423f85,#443a83,#453781,#46337f,#472f7d,#472c7a,#482878,#482475,#482173,#481d6f,#481a6c,#481769,#481467,#471164,#470e61,#460b5e,#460a5d,#46075a,#450559,#450457,#440256,#440154,#440154,#440154,#440154,#440154,#440154,#440154,#440256,#450457,#450559,#46075a,#460a5d,#460b5e,#470e61,#471164,#481467,#481769,#481b6d,#481d6f)"></i>
<i style="left:108px;background:linear-gradient(#440154,#440154,#440154,#440154,#440154,#440256,#450457,#450559,#46075a,#46085c,#460a5d,#470d60,#471063,#471164,#481467,#481769,#481a6c,#481c6e,#481f70,#482374,#482576,#482878,#472c7a,#472e7c,#46327e,#463480,#453882,#443a83,#433e85,#424086,#414287,#404688,#3f4889,#3e4a89,#3d4d8a,#3c508b,#3b518b,#3a538b,#39558c,#38588c,#38598c,#375b8d,#365c8d,#365d8d,#355e8d,#355f8d,#34608d,#34608d,#34618d,#34618d,#34618d,#34618d,#34618d,#34608d,#34608d,#355f8d,#355e8d,#365d8d,#365c8d,#375b8d,#375a8c,#38588c,#39558c,#3a548c,#3b528b,#3c508b,#3d4e8a,#3e4c8a,#3f4889,#404688,#414487,#424086,#433e85,#443a83,#453882,#463480,#46327e,#472e7c,#472c7a,#482979,#482576,#482374,#482071,#481c6e,#481a6c,#481769,#481467,#471164,#471063,#470d60,#460b5e,#46085c,#46075a,#450559,#450457,#440256,#440256,#440154,#440154,#440154,#440154,#440154,#440154,#440154,#440256,#450457,#450559,#46075a,#46085c,#460a5d,#470d60,#470e61,#471164,#481467,#481769,#481a6c,#481c6e,#481f70,#482173,#482576)"></i>
<i style="left:109px;background:linear-gradient(#440154,#440154,#440154,#440154,#440154,#440256,#450457,#450559,#46075a,#46085c,#460a5d,#470d60,#471063,#471164,#481467,#481769,#481a6c,#481c6e,#481f70,#482374,#482576,#482878,#472c7a,#472e7c,#46327e,#463480,#453882,#443a83,#433e85,#424086,#414287,#404688,#3f4889,#3e4a89,#3d4d8a,#3c508b,#3b518b,#3a538b,#39558c,#38588c,#38598c,#375b8d,#365c8d,#365d8d,#355e8d,#355f8d,#34608d,#34608d,#34618d,#34618d,#34618d,#34618d,#34618d,#34608d,#34608d,#355f8d,#355e8d,#365d8d,#365c8d,#375b8d,#375a8c,#38588c,#39558c,#3a548c,#3b528b,#3c508b,#3d4e8a,#3e4c8a,#3f4889,#404688,#414487,#424086,#433e85,#443a83,#453882,#463480,#46327e,#472e7c,#472c7a,#482979,#482576,#482374,#482071,#481c6e,#481a6c,#481769,#481467,#471164,#471063,#470d60,#460b5e,#46085c,#46075a,#450559,#450457,#440256,#440256,#440154,#440154,#440154,#440154,#440154,#440154,#440154,#440256,#450457,#450559,#46075a,#46085c,#460a5d,#470d60,#470e61,#471164,#481467,#481769,#481a6c,#481c6e,#481f70,#482173,#482576)"></i>
<i style="left:110px;background:linear-gradient(#440154,#440154,#440154,#440154,#440154,#440256,#440256,#450457,#450457,#450559,#46075a,#46085c,#460a5d,#460b5e,#470e61,#471063,#471164,#481467,#481668,#48186a,#481a6c,#481c6e,#481f70,#482071,#482374,#482475,#482677,#482979,#472a7a,#472d7b,#472e7c,#46307e,#46327e,#463480,#453581,#453781,#443983,#443a83,#443b84,#433d84,#433e85,#433e85,#423f85,#424086,#424086,#424186,#424186,#424186,#424186,#424186,#424186,#424186,#424086,#424086,#423f85,#423f85,#433e85,#433d84,#443b84,#443a83,#443983,#453882,#453581,#463480,#46337f,#46307e,#472f7d,#472d7b,#472c7a,#482979,#482677,#482576,#482374,#482071,#481f70,#481c6e,#481b6d,#48186a,#481769,#481467,#471365,#471063,#470e61,#470d60,#460b5e,#46085c,#46075a,#450559,#450559,#450457,#440256,#440256,#440154,#440154,#440154,#440154,#440154,#440154,#440154,#440154,#440256,#440256,#450457,#450457,#450559,#46075a,#46085c,#460a5d,#460b5e,#470d60,#471063,#471164,#481467,#481668,#48186a,#481a6c,#481c6e,#481d6f,#482071,#482374)"></i>
<i style="left:111px;background:linear-gradient(#440154,#440154,#440154,#440154,#440154,#440256,#440256,#450457,#450457,#450559,#46075a,#46085c,#460a5d,#460b5e,#470e61,#471063,#471164,#481467,#481668,#48186a,#481a6c,#481c6e,#481f70,#482071,#482374,#482475,#482677,#482979,#472a7a,#472d7b,#472e7c,#46307e,#46327e,#463480,#453581,#453781,#443983,#443a83,#443b84,#433d84,#433e85,#433e85,#423f85,#424086,#424086,#424186,#424186,#424186,#424186,#424186,#424186,#424186,#424086,#424086,#423f85,#423f85,#433e85,#433d84,#443b84,#443a83,#443983,#453882,#453581,#463480,#46337f,#46307e,#472f7d,#472d7b,#472c7a,#482979,#482677,#482576,#482374,#482071,#481f70,#481c6e,#481b6d,#48186a,#481769,#481467,#471365,#471063,#470e61,#470d60,#460b5e,#46085c,#46075a,#450559,#450559,#450457,#440256,#440256,#440154,#440154,#440154,#440154,#440154,#440154,#440154,#440154,#440256,#440256,#450457,#450457,#450559,#46075a,#46085c,#460a5d,#460b5e,#470d60,#471063,#471164,#481467,#481668,#48186a,#481a6c,#481c6e,#481d6f,#482071,#482374)"></i>
<i style="left:112px;background:linear-gradient(#440154,#440154,#440154,#440154,#440154,#440154,#440154,#440154,#440256,#440256,#450457,#450457,#450457,#450559,#450559,#46075a,#46085c,#46085c,#460a5d,#460b5e,#460b5e,#470d60,#470e61,#470e61,#471063,#471164,#471164,#471365,#481467,#481467,#481668,#481668,#481769,#48186a,#48186a,#481a6c,#481a6c,#481b6d,#481b6d,#481b6d,#481c6e,#481c6e,#481c6e,#481c6e,#481c6e,#481c6e,#481c6e,#481c6e,#481c6e,#481c6e,#481c6e,#481c6e,#481c6e,#481b6d,#481b6d,#481b6d,#481a6c,#481a6c,#48186a,#48186a,#481769,#481769,#481668,#481668,#481467,#471365,#471365,#471164,#471063,#471063,#470e61,#470d60,#470d60,#460b5e,#460a5d,#460a5d,#46085c,#46075a,#46075a,#450559,#450559,#450457,#450457,#440256,#440256,#440256,#440154,#440154,#440154,#440154,#440154,#440154,#440154,#440154,#440154,#440154,#440154,#440154,#440154,#440256,#440256,#440256,#450457,#450457,#450559,#450559,#46075a,#46075a,#46085c,#460a5d,#460a5d,#460b5e,#470d60,#470d60,#470e61,#471063,#471063,#471164,#471365,#471365)"></i>
<i style="left:113px;background:linear-gradient(#440154,#440154,#440154,#440154,#440154,#440154,#440154,#440154,#440256,#440256,#450457,#450457,#450457,#450559,#450559,#46075a,#46085c,#46085c,#460a5d,#460b5e,#460b5e,#470d60,#470e61,#470e61,#471063,#471164,#471164,#471365,#481467,#481467,#481668,#481668,#481769,#48186a,#48186a,#481a6c,#481a6c,#481b6d,#481b6d,#481b6d,#481c6e,#481c6e,#481c6e,#481c6e,#481c6e,#481c6e,#481c6e,#481c6e,#481c6e,#481c6e,#481c6e,#481c6e,#481c6e,#481b6d,#481b6d,#481b6d,#481a6c,#481a6c,#48186a,#48186a,#481769,#481769,#481668,#481668,#481467,#471365,#471365,#471164,#471063,#471063,#470e61,#470d60,#470d60,#460b5e,#460a5d,#460a5d,#46085c,#46075a,#46075a,#450559,#450559,#450457,#450457,#440256,#440256,#440256,#440154,#440154,#440154,#440154,#440154,#440154,#440154,#440154,#440154,#440154,#440154,#440154,#440154,#440256,#440256,#440256,#450457,#450457,#450559,#450559,#46075a,#46075a,#46085c,#460a5d,#460a5d,#460b5e,#470d60,#470d60,#470e61,#471063,#471063,#471164,#471365,#471365)"></i>
<i style="left:114px;background:linear-gradient(#440154,#440154,#440154,#440154,#440154,#440154,#440154,#440154,#440154,#440154,#440256,#440256,#440256,#440256,#450457,#450457,#450457,#450559,#450559,#450559,#46075a,#46075a,#46075a,#46085c,#46085c,#46085c,#460a5d,#460a5d,#460a5d,#460b5e,#460b5e,#460b5e,#470d60,#470d60,#470d60,#470d60,#470e61,#470e61,#470e61,#470e61,#470e61,#470e61,#470e61,#470e61,#470e61,#470e61,#470e61,#470e61,#470e61,#470e61,#470e61,#470e61,#470e61,#470e61,#470d60,#470d60,#470d60,#470d60,#460b5e,#460b5e,#460b5e,#460a5d,#460a5d,#460a5d,#46085c,#46085c,#46085c,#46075a,#46075a,#46075a,#450559,#450559,#450559,#450457,#450457,#450457,#440256,#440256,#440256,#440256,#440154,#440154,#440154,#440154,#440154,#440154,#440154,#440154,#440154,#440154,#440154,#440154,#440154,#440154,#440154,#440154,#440154,#440154,#440256,#440256,#440256,#440256,#450457,#450457,#450457,#450559,#450559,#450559,#46075a,#46075a,#46075a,#46085c,#46085c,#46085c,#460a5d,#460a5d,#460a5d,#460b5e,#460b5e,#460b5e)"></i>
<i style="left:115px;background:linear-gradient(#440154,#440154,#440154,#440154,#440154,#440256,#440256,#450457,#450457,#450559,#46075a,#46085c,#460a5d,#460b5e,#470e61,#471063,#471164,#481467,#481668,#481769,#481a6c,#481b6d,#481d6f,#481f70,#482173,#482374,#482576,#482677,#482878,#472a7a,#472c7a,#472d7b,#472e7c,#472f7d,#46307e,#46327e,#46337f,#46337f,#463480,#463480,#453581,#453581,#453581,#453581,#453581,#453581,#453581,#463480,#463480,#46337f,#46337f,#46327e,#46307e,#472f7d,#472e7c,#472d7b,#472c7a,#472a7a,#482878,#482677,#482576,#482374,#482173,#481f70,#481d6f,#481b6d,#481a6c,#481769,#481668,#481467,#471164,#471063,#470e61,#460b5e,#460a5d,#46085c,#46075a,#450559,#450457,#450457,#440256,#440256,#440154,#440154,#440154,#440154,#440154,#440154,#440154,#440154,#440256,#440256,#450457,#450457,#450559,#46075a,#46085c,#460a5d,#460b5e,#470e61,#471063,#471164,#481467,#481668,#481769,#481a6c,#481b6d,#481d6f,#481f70,#482173,#482374,#482576,#482677,#482878,#472a7a,#472c7a,#472d7b,#472e7c,#472f7d,#46307e)"></i>
<i style="left:116px;background:linear-gradient(#440154,#440154,#440154,#440154,#440154,#440256,#440256,#450457,#450457,#450559,#46075a,#46085c,#460a5d,#460b5e,#470e61,#471063,#471164,#481467,#481668,#481769,#481a6c,#481b6d,#481d6f,#481f70,#482173,#482374,#482576,#482677,#482878,#472a7a,#472c7a,#472d7b,#472e7c,#472f7d,#46307e,#46327e,#46337f,#46337f,#463480,#463480,#453581,#453581,#453581,#453581,#453581,#453581,#453581,#463480,#463480,#46337f,#46337f,#46327e,#46307e,#472f7d,#472e7c,#472d7b,#472c7a,#472a7a,#482878,#482677,#482576,#482374,#482173,#481f70,#481d6f,#481b6d,#481a6c,#481769,#481668,#481467,#471164,#471063,#470e61,#460b5e,#460a5d,#46085c,#46075a,#450559,#450457,#450457,#440256,#440256,#440154,#440154,#440154,#440154,#440154,#440154,#440154,#440154,#440256,#440256,#450457,#450457,#450559,#46075a,#46085c,#460a5d,#460b5e,#470e61,#471063,#471164,#481467,#481668,#481769,#481a6c,#481b6d,#481d6f,#481f70,#482173,#482374,#482576,#482677,#482878,#472a7a,#472c7a,#472d7b,#472e7c,#472f7d,#46307e)"></i>
<i style="left:117px;background:linear-gradient(#440154,#440154,#440154,#440154,#440256,#450457,#450559,#46075a,#46085c,#460b5e,#470d60,#471063,#471365,#481668,#48186a,#481c6e,#481f70,#482374,#482576,#482979,#472c7a,#472f7d,#46337f,#453581,#443983,#443b84,#423f85,#424186,#404588,#3f4788,#3e4989,#3e4c8a,#3d4e8a,#3c4f8a,#3b518b,#3b528b,#3a548c,#3a548c,#39558c,#39568c,#39568c,#38588c,#38588c,#39568c,#39568c,#39558c,#39558c,#3a548c,#3b528b,#3b518b,#3c508b,#3d4e8a,#3e4c8a,#3e4989,#3f4788,#404588,#424186,#423f85,#433d84,#443983,#453581,#46337f,#472f7d,#472c7a,#482979,#482576,#482374,#481f70,#481c6e,#48186a,#481668,#471365,#471063,#470d60,#460b5e,#46085c,#46075a,#450559,#450457,#440256,#440154,#440154,#440154,#440154,#440154,#440154,#440256,#440256,#450457,#46075a,#46085c,#460a5d,#470d60,#471063,#471365,#481668,#48186a,#481c6e,#481f70,#482173,#482576,#482979,#472c7a,#472f7d,#46327e,#453581,#443983,#443b84,#423f85,#424186,#414487,#3f4788,#3e4989,#3e4c8a,#3d4e8a,#3c4f8a,#3b518b,#3b528b,#3a538b,#3a548c)"></i>
<i style="left:118px;background:linear-gradient(#440154,#440154,#440154,#440154,#440256,#450457,#450559,#46075a,#46085c,#460b5e,#470d60,#471063,#471365,#481668,#48186a,#481c6e,#481f70,#482374,#482576,#482979,#472c7a,#472f7d,#46337f,#453581,#443983,#443b84,#423f85,#424186,#404588,#3f4788,#3e4989,#3e4c8a,#3d4e8a,#3c4f8a,#3b518b,#3b528b,#3a548c,#3a548c,#39558c,#39568c,#39568c,#38588c,#38588c,#39568c,#39568c,#39558c,#39558c,#3a548c,#3b528b,#3b518b,#3c508b,#3d4e8a,#3e4c8a,#3e4989,#3f4788,#404588,#424186,#423f85,#433d84,#443983,#453581,#46337f,#472f7d,#472c7a,#482979,#482576,#482374,#481f70,#481c6e,#48186a,#481668,#471365,#471063,#470d60,#460b5e,#46085c,#46075a,#450559,#450457,#440256,#440154,#440154,#440154,#440154,#440154,#440154,#440256,#440256,#450457,#46075a,#46085c,#460a5d,#470d60,#471063,#471365,#481668,#48186a,#481c6e,#481f70,#482173,#482576,#482979,#472c7a,#472f7d,#46327e,#453581,#443983,#443b84,#423f85,#424186,#414487,#3f4788,#3e4989,#3e4c8a,#3d4e8a,#3c4f8a,#3b518b,#3b528b,#3a538b,#3a548c)"></i>
<i style="left:119px;background:linear-gradient(#440154,#440154,#440154,#440154,#440256,#450559,#46075a,#460a5d,#470d60,#471063,#481467,#481769,#481b6d,#482071,#482475,#482878,#472d7b,#46327e,#453581,#443a83,#423f85,#414487,#3f4889,#3e4c8a,#3c508b,#3a548c,#38588c,#365c8d,#355f8d,#33628d,#32658e,#31688e,#306a8e,#2f6c8e,#2e6e8e,#2d708e,#2d718e,#2c718e,#2c728e,#2c738e,#2c738e,#2c738e,#2c728e,#2c728e,#2c718e,#2d708e,#2e6f8e,#2e6d8e,#2f6b8e,#31688e,#31668e,#33638d,#34608d,#365d8d,#38598c,#39558c,#3b518b,#3d4e8a,#3e4989,#404588,#424086,#443b84,#453781,#46337f,#472e7c,#482979,#482576,#482071,#481c6e,#48186a,#481467,#471164,#470e61,#460a5d,#46085c,#450559,#450457,#440256,#440154,#440154,#440154,#440154,#440154,#440256,#450457,#46075a,#46085c,#460b5e,#470e61,#471365,#481769,#481a6c,#481d6f,#482374,#482677,#472c7a,#472f7d,#463480,#443983,#433e85,#414287,#404688,#3e4a89,#3c4f8a,#3a538b,#39568c,#375b8d,#355e8d,#34618d,#32648e,#31678e,#30698e,#2f6c8e,#2e6e8e,#2e6f8e,#2d718e,#2c718e,#2c728e,#2c728e,#2c738e)"></i>
<i style="left:120px;background:linear-gradient(#440154,#440154,#440154,#440154,#440256,#450559,#46075a,#460a5d,#470d60,#471063,#481467,#481769,#481b6d,#482071,#482475,#482878,#472d7b,#46327e,#453581,#443a83,#423f85,#414487,#3f4889,#3e4c8a,#3c508b,#3a548c,#38588c,#365c8d,#355f8d,#33628d,#32658e,#31688e,#306a8e,#2f6c8e,#2e6e8e,#2d708e,#2d718e,#2c718e,#2c728e,#2c738e,#2c738e,#2c738e,#2c728e,#2c728e,#2c718e,#2d708e,#2e6f8e,#2e6d8e,#2f6b8e,#31688e,#31668e,#33638d,#34608d,#365d8d,#38598c,#39558c,#3b518b,#3d4e8a,#3e4989,#404588,#424086,#443b84,#453781,#46337f,#472e7c,#482979,#482576,#482071,#481c6e,#48186a,#481467,#471164,#470e61,#460a5d,#46085c,#450559,#450457,#440256,#440154,#440154,#440154,#440154,#440154,#440256,#450457,#46075a,#46085c,#460b5e,#470e61,#471365,#481769,#481a6c,#481d6f,#482374,#482677,#472c7a,#472f7d,#463480,#443983,#433e85,#414287,#404688,#3e4a89,#3c4f8a,#3a538b,#39568c,#375b8d,#355e8d,#34618d,#32648e,#31678e,#30698e,#2f6c8e,#2e6e8e,#2e6f8e,#2d718e,#2c718e,#2c728e,#2c728e,#2c738e)"></i>
<i style="left:121px;background:linear-gradient(#440154,#440154,#440154,#440256,#450457,#46075a,#460a5d,#470d60,#471164,#481668,#481a6c,#481f70,#482475,#482979,#472f7d,#463480,#443a83,#424086,#404688,#3e4c8a,#3b518b,#39568c,#365c8d,#34618d,#31668e,#2f6b8e,#2e6f8e,#2c738e,#2a778e,#297b8e,#277e8e,#26818e,#25838e,#24868e,#23888e,#238a8d,#228b8d,#228c8d,#228d8d,#228d8d,#228d8d,#228c8d,#228b8d,#23898e,#24878e,#25858e,#26828e,#26818e,#287d8e,#297a8e,#2a768e,#2c728e,#2e6e8e,#306a8e,#32658e,#34608d,#375b8d,#39558c,#3c508b,#3e4a89,#404588,#423f85,#443983,#46337f,#472e7c,#482878,#482374,#481d6f,#48186a,#481467,#471063,#460b5e,#46085c,#450559,#450457,#440256,#440154,#440154,#440154,#440154,#440256,#450457,#46075a,#460a5d,#470e61,#471365,#481769,#481b6d,#482071,#482576,#472a7a,#46307e,#453781,#443b84,#424186,#3f4788,#3d4d8a,#3b528b,#38598c,#355e8d,#33628d,#31678e,#2f6c8e,#2d708e,#2b748e,#2a788e,#297b8e,#277f8e,#26828e,#25848e,#24868e,#23888e,#238a8d,#228b8d,#228c8d,#228d8d,#228d8d,#228c8d,#228c8d,#238a8d)"></i>
<i style="left:122px;background:linear-gradient(#440154,#440154,#440154,#440256,#450457,#46075a,#460a5d,#470d60,#471164,#481668,#481a6c,#481f70,#482475,#482979,#472f7d,#463480,#443a83,#424086,#404688,#3e4c8a,#3b518b,#39568c,#365c8d,#34618d,#31668e,#2f6b8e,#2e6f8e,#2c738e,#2a778e,#297b8e,#277e8e,#26818e,#25838e,#24868e,#23888e,#238a8d,#228b8d,#228c8d,#228d8d,#228d8d,#228d8d,#228c8d,#228b8d,#23898e,#24878e,#25858e,#26828e,#26818e,#287d8e,#297a8e,#2a768e,#2c728e,#2e6e8e,#306a8e,#32658e,#34608d,#375b8d,#39558c,#3c508b,#3e4a89,#404588,#423f85,#443983,#46337f,#472e7c,#482878,#482374,#481d6f,#48186a,#481467,#471063,#460b5e,#46085c,#450559,#450457,#440256,#440154,#440154,#440154,#440154,#440256,#450457,#46075a,#460a5d,#470e61,#471365,#481769,#481b6d,#482071,#482576,#472a7a,#46307e,#453781,#443b84,#424186,#3f4788,#3d4d8a,#3b528b,#38598c,#355e8d,#33628d,#31678e,#2f6c8e,#2d708e,#2b748e,#2a788e,#297b8e,#277f8e,#26828e,#25848e,#24868e,#23888e,#238a8d,#228b8d,#228c8d,#228d8d,#228d8d,#228c8d,#228c8d,#238a8d)"></i>
<i style="left:123px;background:linear-gradient(#440154,#440154,#440154,#440256,#450559,#46085c,#460b5e,#471164,#481668,#481b6d,#482071,#482677,#472d7b,#463480,#443a83,#424186,#3f4889,#3c4f8a,#39558c,#365d8d,#33638d,#30698e,#2d708e,#2b758e,#297a8e,#27808e,#25858e,#238a8d,#218e8d,#20928c,#1f968b,#1f998a,#1e9d89,#1f9f88,#1fa188,#1fa287,#20a386,#20a486,#20a486,#20a486,#20a386,#1fa187,#1fa088,#1f9e89,#1e9b8a,#1f978b,#20938c,#21908d,#228b8d,#24868e,#26828e,#287c8e,#2a778e,#2c718e,#2f6b8e,#32658e,#355f8d,#38598c,#3b518b,#3e4a89,#414487,#433d84,#453581,#472f7d,#482979,#482374,#481c6e,#481769,#471365,#470d60,#460a5d,#450559,#450457,#440154,#440154,#440154,#440154,#440256,#450457,#46075a,#460a5d,#470e61,#481467,#481a6c,#481f70,#482475,#472a7a,#46327e,#453882,#423f85,#404688,#3d4d8a,#3a538b,#375a8c,#34618d,#31678e,#2e6d8e,#2c728e,#2a788e,#277e8e,#25838e,#23888e,#228d8d,#21918c,#1f948c,#1f988b,#1e9b8a,#1f9e89,#1fa188,#1fa287,#20a386,#20a486,#20a486,#20a486,#20a386,#1fa287,#1fa188,#1f9f88,#1e9c89,#1f988b)"></i>
<i style="left:124px;background:linear-gradient(#440154,#440154,#440154,#440256,#450559,#46085c,#460b5e,#471164,#481668,#481b6d,#482071,#482677,#472d7b,#463480,#443a83,#424186,#3f4889,#3c4f8a,#39558c,#365d8d,#33638d,#30698e,#2d708e,#2b758e,#297a8e,#27808e,#25858e,#238a8d,#218e8d,#20928c,#1f968b,#1f998a,#1e9d89,#1f9f88,#1fa188,#1fa287,#20a386,#20a486,#20a486,#20a486,#20a386,#1fa187,#1fa088,#1f9e89,#1e9b8a,#1f978b,#20938c,#21908d,#228b8d,#24868e,#26828e,#287c8e,#2a778e,#2c718e,#2f6b8e,#32658e,#355f8d,#38598c,#3b518b,#3e4a89,#414487,#433d84,#453581,#472f7d,#482979,#482374,#481c6e,#481769,#471365,#470d60,#460a5d,#450559,#450457,#440154,#440154,#440154,#440154,#440256,#450457,#46075a,#460a5d,#470e61,#481467,#481a6c,#481f70,#482475,#472a7a,#46327e,#453882,#423f85,#404688,#3d4d8a,#3a538b,#375a8c,#34618d,#31678e,#2e6d8e,#2c728e,#2a788e,#277e8e,#25838e,#23888e,#228d8d,#21918c,#1f948c,#1f988b,#1e9b8a,#1f9e89,#1fa188,#1fa287,#20a386,#20a486,#20a486,#20a486,#20a386,#1fa287,#1fa188,#1f9f88,#1e9c89,#1f988b)"></i>
<i style="left:125px;background:linear-gradient(#440154,#440154,#440154,#450457,#46075a,#460a5d,#470e61,#481467,#481a6c,#482071,#482878,#472e7c,#453581,#433e85,#404688,#3d4e8a,#39558c,#365d8d,#32658e,#2f6c8e,#2c738e,#297a8e,#26828e,#23888e,#218f8d,#1f948c,#1f9a8a,#1fa088,#20a486,#23a983,#26ad81,#2ab07f,#2eb37c,#32b67a,#35b779,#37b878,#38b977,#38b977,#37b878,#35b779,#32b67a,#2fb47c,#2cb17e,#27ad81,#24aa83,#21a585,#1fa088,#1e9b8a,#1f958b,#218f8d,#23888e,#26828e,#297b8e,#2b748e,#2e6d8e,#31668e,#355e8d,#39568c,#3d4e8a,#404688,#433e85,#453781,#472f7d,#482878,#482173,#481b6d,#481467,#471063,#460a5d,#46075a,#450457,#440154,#440154,#440154,#440154,#440256,#450559,#460a5d,#470e61,#481467,#481a6c,#482071,#482677,#472e7c,#453581,#433d84,#404588,#3d4d8a,#3a548c,#365d8d,#32648e,#2f6c8e,#2c728e,#297a8e,#26818e,#24878e,#218e8d,#20938c,#1f9a8a,#1f9f88,#20a486,#23a983,#26ad81,#2ab07f,#2eb37c,#32b67a,#35b779,#37b878,#38b977,#38b977,#38b977,#35b779,#34b679,#2fb47c,#2cb17e,#27ad81,#24aa83,#21a585,#1fa188,#1e9b8a)"></i>
<i style="left:126px;background:linear-gradient(#440154,#440154,#440154,#450457,#46075a,#460b5e,#471164,#48186a,#481f70,#482576,#472e7c,#453581,#423f85,#3f4788,#3c508b,#375a8c,#33628d,#2f6b8e,#2c728e,#297b8e,#25838e,#228b8d,#20928c,#1f9a8a,#1fa187,#22a884,#28ae80,#2fb47c,#38b977,#40bd72,#48c16e,#50c46a,#56c667,#5cc863,#5ec962,#60ca60,#60ca60,#5ec962,#5ac864,#56c667,#50c46a,#48c16e,#40bd72,#38b977,#2fb47c,#28ae80,#22a884,#1fa187,#1f9a8a,#20928c,#228b8d,#26828e,#297b8e,#2c728e,#306a8e,#33628d,#38598c,#3c508b,#3f4788,#433e85,#453581,#472d7b,#482576,#481d6f,#481769,#471164,#460b5e,#46075a,#450457,#440154,#440154,#440154,#440154,#450457,#46075a,#460b5e,#471164,#48186a,#481f70,#482576,#472e7c,#453781,#423f85,#3f4788,#3c508b,#375a8c,#33628d,#2f6b8e,#2c728e,#297b8e,#25838e,#228b8d,#20928c,#1f9a8a,#1fa187,#22a884,#28ae80,#2fb47c,#38b977,#40bd72,#48c16e,#50c46a,#56c667,#5cc863,#5ec962,#60ca60,#60ca60,#5ec962,#5ac864,#56c667,#50c46a,#48c16e,#40bd72,#38b977,#2fb47c,#28ae80,#22a884,#1fa187,#1f9a8a,#20928c)"></i>
<i style="left:127px;background:linear-gradient(#440154,#440154,#440154,#450457,#46075a,#460b5e,#471164,#48186a,#481f70,#482576,#472e7c,#453581,#423f85,#3f4788,#3c508b,#375a8c,#33628d,#2f6b8e,#2c728e,#297b8e,#25838e,#228b8d,#20928c,#1f9a8a,#1fa187,#22a884,#28ae80,#2fb47c,#38b977,#40bd72,#48c16e,#50c46a,#56c667,#5cc863,#5ec962,#60ca60,#60ca60,#5ec962,#5ac864,#56c667,#50c46a,#48c16e,#40bd72,#38b977,#2fb47c,#28ae80,#22a884,#1fa187,#1f9a8a,#20928c,#228b8d,#26828e,#297b8e,#2c728e,#306a8e,#33628d,#38598c,#3c508b,#3f4788,#433e85,#453581,#472d7b,#482576,#481d6f,#481769,#471164,#460b5e,#46075a,#450457,#440154,#440154,#440154,#440154,#450457,#46075a,#460b5e,#471164,#48186a,#481f70,#482576,#472e7c,#453781,#423f85,#3f4788,#3c508b,#375a8c,#33628d,#2f6b8e,#2c728e,#297b8e,#25838e,#228b8d,#20928c,#1f9a8a,#1fa187,#22a884,#28ae80,#2fb47c,#38b977,#40bd72,#48c16e,#50c46a,#56c667,#5cc863,#5ec962,#60ca60,#60ca60,#5ec962,#5ac864,#56c667,#50c46a,#48c16e,#40bd72,#38b977,#2fb47c,#28ae80,#22a884,#1fa187,#1f9a8a,#20928c)"></i>
<i style="left:128px;background:linear-gradient(#440154,#440154,#440256,#450457,#46085c,#470e61,#481467,#481b6d,#482374,#472c7a,#463480,#433e85,#3f4788,#3b518b,#375b8d,#32648e,#2e6e8e,#2a778e,#27808e,#23898e,#20928c,#1e9b8a,#20a386,#25ac82,#2eb37c,#3aba76,#46c06f,#54c568,#60ca60,#6ccd5a,#75d054,#7fd34e,#84d44b,#89d548,#8bd646,#8bd646,#89d548,#84d44b,#7cd250,#75d054,#6ccd5a,#5ec962,#52c569,#46c06f,#3aba76,#2eb37c,#25ac82,#20a386,#1e9b8a,#20928c,#23898e,#27808e,#2a768e,#2e6d8e,#32648e,#375a8c,#3c508b,#3f4788,#433d84,#463480,#472a7a,#482374,#481b6d,#481467,#470d60,#46085c,#450457,#440154,#440154,#440154,#440256,#450457,#46085c,#470e61,#481467,#481b6d,#482374,#472c7a,#463480,#433e85,#3f4788,#3b518b,#375b8d,#32648e,#2e6e8e,#2a778e,#27808e,#23898e,#20928c,#1e9b8a,#20a386,#25ac82,#2eb37c,#3aba76,#46c06f,#54c568,#60ca60,#6ccd5a,#75d054,#7fd34e,#84d44b,#89d548,#8bd646,#8bd646,#89d548,#84d44b,#7cd250,#75d054,#69cd5b,#5ec962,#52c569,#46c06f,#3aba76,#2eb37c,#25ab82,#20a386,#1e9b8a,#20928c,#23898e,#27808e)"></i>
<i style="left:129px;background:linear-gradient(#440154,#440154,#440256,#450457,#46085c,#470e61,#481467,#481b6d,#482374,#472c7a,#463480,#433e85,#3f4788,#3b518b,#375b8d,#32648e,#2e6e8e,#2a778e,#27808e,#23898e,#20928c,#1e9b8a,#20a386,#25ac82,#2eb37c,#3aba76,#46c06f,#54c568,#60ca60,#6ccd5a,#75d054,#7fd34e,#84d44b,#89d548,#8bd646,#8bd646,#89d548,#84d44b,#7cd250,#75d054,#6ccd5a,#5ec962,#52c569,#46c06f,#3aba76,#2eb37c,#25ac82,#20a386,#1e9b8a,#20928c,#23898e,#27808e,#2a768e,#2e6d8e,#32648e,#375a8c,#3c508b,#3f4788,#433d84,#463480,#472a7a,#482374,#481b6d,#481467,#470d60,#46085c,#450457,#440154,#440154,#440154,#440256,#450457,#46085c,#470e61,#481467,#481b6d,#482374,#472c7a,#463480,#433e85,#3f4788,#3b518b,#375b8d,#32648e,#2e6e8e,#2a778e,#27808e,#23898e,#20928c,#1e9b8a,#20a386,#25ac82,#2eb37c,#3aba76,#46c06f,#54c568,#60ca60,#6ccd5a,#75d054,#7fd34e,#84d44b,#89d548,#8bd646,#8bd646,#89d548,#84d44b,#7cd250,#75d054,#69cd5b,#5ec962,#52c569,#46c06f,#3aba76,#2eb37c,#25ab82,#20a386,#1e9b8a,#20928c,#23898e,#27808e)"></i>
<i style="left:130px;background:linear-gradient(#440154,#440154,#440256,#450559,#460a5d,#471063,#481769,#481f70,#482677,#46307e,#443a83,#404588,#3c4f8a,#375a8c,#32648e,#2e6e8e,#2a788e,#26828e,#228c8d,#1f968b,#1fa188,#24aa83,#2eb37c,#3bbb75,#4cc26c,#5cc863,#6ccd5a,#7cd250,#8bd646,#98d83e,#a2da37,#aadc32,#b0dd2f,#b2dd2d,#b2dd2d,#b0dd2f,#aadc32,#a2da37,#98d83e,#8bd646,#7cd250,#6ece58,#5cc863,#4cc26c,#3dbc74,#2eb37c,#24aa83,#1fa188,#1f978b,#228d8d,#26828e,#29798e,#2e6f8e,#32658e,#375a8c,#3c508b,#404588,#443a83,#46307e,#482878,#481f70,#481769,#471063,#460a5d,#450559,#440256,#440154,#440154,#440256,#450457,#46085c,#470e61,#481668,#481d6f,#482576,#472f7d,#443983,#414487,#3d4e8a,#38598c,#33638d,#2e6d8e,#2a778e,#26828e,#228b8d,#1f958b,#1f9f88,#23a983,#2db27d,#3aba76,#4ac16d,#5ac864,#69cd5b,#7ad151,#89d548,#95d840,#a0da39,#aadc32,#b0dd2f,#b2dd2d,#b2dd2d,#b0dd2f,#aadc32,#a2da37,#9bd93c,#8ed645,#7fd34e,#70cf57,#5ec962,#4ec36b,#3fbc73,#2fb47c,#25ac82,#1fa187,#1f988b,#218e8d,#25848e,#297a8e,#2d708e,#31668e)"></i>
<i style="left:131px;background:linear-gradient(#440154,#440154,#440256,#450559,#460a5d,#471063,#481769,#481f70,#482677,#46307e,#443a83,#404588,#3c4f8a,#375a8c,#32648e,#2e6e8e,#2a788e,#26828e,#228c8d,#1f968b,#1fa188,#24aa83,#2eb37c,#3bbb75,#4cc26c,#5cc863,#6ccd5a,#7cd250,#8bd646,#98d83e,#a2da37,#aadc32,#b0dd2f,#b2dd2d,#b2dd2d,#b0dd2f,#aadc32,#a2da37,#98d83e,#8bd646,#7cd250,#6ece58,#5cc863,#4cc26c,#3dbc74,#2eb37c,#24aa83,#1fa188,#1f978b,#228d8d,#26828e,#29798e,#2e6f8e,#32658e,#375a8c,#3c508b,#404588,#443a83,#46307e,#482878,#481f70,#481769,#471063,#460a5d,#450559,#440256,#440154,#440154,#440256,#450457,#46085c,#470e61,#481668,#481d6f,#482576,#472f7d,#443983,#414487,#3d4e8a,#38598c,#33638d,#2e6d8e,#2a778e,#26828e,#228b8d,#1f958b,#1f9f88,#23a983,#2db27d,#3aba76,#4ac16d,#5ac864,#69cd5b,#7ad151,#89d548,#95d840,#a0da39,#aadc32,#b0dd2f,#b2dd2d,#b2dd2d,#b0dd2f,#aadc32,#a2da37,#9bd93c,#8ed645,#7fd34e,#70cf57,#5ec962,#4ec36b,#3fbc73,#2fb47c,#25ac82,#1fa187,#1f988b,#218e8d,#25848e,#297a8e,#2d708e,#31668e)"></i>
<i style="left:132px;background:linear-gradient(#440154,#440154,#440256,#450559,#460a5d,#471164,#48186a,#482173,#472a7a,#463480,#423f85,#3e4a89,#39558c,#34618d,#2f6c8e,#2a778e,#26828e,#228d8d,#1f988b,#1fa287,#26ad81,#34b679,#44bf70,#58c765,#6ccd5a,#7fd34e,#93d741,#a2da37,#b2dd2d,#c0df25,#c8e020,#d0e11c,#d2e21b,#d2e21b,#d0e11c,#cae11f,#c2df23,#b5de2b,#a8db34,#98d83e,#86d549,#73d056,#5ec962,#4ac16d,#38b977,#29af7f,#21a585,#1e9b8a,#21908d,#25858e,#297a8e,#2e6f8e,#32648e,#38598c,#3d4e8a,#414287,#453882,#472e7c,#482475,#481b6d,#471365,#470d60,#46075a,#440256,#440154,#440154,#440154,#450457,#46085c,#470e61,#481769,#481f70,#482878,#46327e,#443b84,#3f4788,#3b528b,#355e8d,#30698e,#2c738e,#277f8e,#23898e,#1f948c,#1f9f88,#24aa83,#2eb37c,#3fbc73,#52c569,#65cb5e,#7ad151,#8ed645,#9dd93b,#addc30,#bade28,#c5e021,#cde11d,#d2e21b,#d2e21b,#d0e11c,#cde11d,#c5e021,#bade28,#addc30,#9dd93b,#8bd646,#77d153,#65cb5e,#50c46a,#3dbc74,#2eb37c,#23a983,#1f9e89,#20938c,#23888e,#277e8e,#2c728e,#31688e,#365d8d,#3b518b,#404688)"></i>
<i style="left:133px;background:linear-gradient(#440154,#440154,#440256,#450559,#460a5d,#471164,#48186a,#482173,#472a7a,#463480,#423f85,#3e4a89,#39558c,#34618d,#2f6c8e,#2a778e,#26828e,#228d8d,#1f988b,#1fa287,#26ad81,#34b679,#44bf70,#58c765,#6ccd5a,#7fd34e,#93d741,#a2da37,#b2dd2d,#c0df25,#c8e020,#d0e11c,#d2e21b,#d2e21b,#d0e11c,#cae11f,#c2df23,#b5de2b,#a8db34,#98d83e,#86d549,#73d056,#5ec962,#4ac16d,#38b977,#29af7f,#21a585,#1e9b8a,#21908d,#25858e,#297a8e,#2e6f8e,#32648e,#38598c,#3d4e8a,#414287,#453882,#472e7c,#482475,#481b6d,#471365,#470d60,#46075a,#440256,#440154,#440154,#440154,#450457,#46085c,#470e61,#481769,#481f70,#482878,#46327e,#443b84,#3f4788,#3b528b,#355e8d,#30698e,#2c738e,#277f8e,#23898e,#1f948c,#1f9f88,#24aa83,#2eb37c,#3fbc73,#52c569,#65cb5e,#7ad151,#8ed645,#9dd93b,#addc30,#bade28,#c5e021,#cde11d,#d2e21b,#d2e21b,#d0e11c,#cde11d,#c5e021,#bade28,#addc30,#9dd93b,#8bd646,#77d153,#65cb5e,#50c46a,#3dbc74,#2eb37c,#23a983,#1f9e89,#20938c,#23888e,#277e8e,#2c728e,#31688e,#365d8d,#3b518b,#404688)"></i>
<i style="left:134px;background:linear-gradient(#440154,#440154,#440256,#450559,#460b5e,#471365,#481b6d,#482475,#472e7c,#443983,#404588,#3c508b,#365c8d,#31688e,#2c738e,#277f8e,#238a8d,#1f968b,#1fa187,#26ad81,#35b779,#48c16e,#5ec962,#75d054,#8bd646,#a0da39,#b2dd2d,#c5e021,#d2e21b,#dde318,#e5e419,#e7e419,#eae51a,#e7e419,#e2e418,#d8e219,#cde11d,#bddf26,#addc30,#98d83e,#81d34d,#6ccd5a,#54c568,#40bd72,#2eb37c,#22a884,#1e9d89,#20928c,#25858e,#297a8e,#2e6f8e,#33638d,#38588c,#3e4c8a,#424086,#463480,#472a7a,#482071,#481769,#471063,#46085c,#450457,#440154,#440154,#440154,#450457,#46085c,#470e61,#481668,#481d6f,#482878,#46327e,#433e85,#3e4989,#3a548c,#34618d,#2f6c8e,#2a778e,#25838e,#218f8d,#1f9a8a,#21a685,#2cb17e,#3bbb75,#50c46a,#67cc5c,#7cd250,#93d741,#a8db34,#bade28,#cae11f,#d8e219,#dfe318,#e7e419,#eae51a,#eae51a,#e5e419,#dfe318,#d5e21a,#c8e020,#b8de29,#a5db36,#90d743,#7ad151,#63cb5f,#4ec36b,#38b977,#29af7f,#20a486,#1f998a,#228d8d,#26828e,#2a768e,#306a8e,#355f8d,#3a538b,#3f4788,#443b84,#46307e,#482677)"></i>
<i style="left:135px;background:linear-gradient(#440154,#440154,#440256,#450559,#460b5e,#471365,#481b6d,#482475,#472e7c,#443983,#404588,#3c508b,#365c8d,#31688e,#2c738e,#277f8e,#238a8d,#1f968b,#1fa187,#26ad81,#35b779,#48c16e,#5ec962,#75d054,#8bd646,#a0da39,#b2dd2d,#c5e021,#d2e21b,#dde318,#e5e419,#e7e419,#eae51a,#e7e419,#e2e418,#d8e219,#cde11d,#bddf26,#addc30,#98d83e,#81d34d,#6ccd5a,#54c568,#40bd72,#2eb37c,#22a884,#1e9d89,#20928c,#25858e,#297a8e,#2e6f8e,#33638d,#38588c,#3e4c8a,#424086,#463480,#472a7a,#482071,#481769,#471063,#46085c,#450457,#440154,#440154,#440154,#450457,#46085c,#470e61,#481668,#481d6f,#482878,#46327e,#433e85,#3e4989,#3a548c,#34618d,#2f6c8e,#2a778e,#25838e,#218f8d,#1f9a8a,#21a685,#2cb17e,#3bbb75,#50c46a,#67cc5c,#7cd250,#93d741,#a8db34,#bade28,#cae11f,#d8e219,#dfe318,#e7e419,#eae51a,#eae51a,#e5e419,#dfe318,#d5e21a,#c8e020,#b8de29,#a5db36,#90d743,#7ad151,#63cb5f,#4ec36b,#38b977,#29af7f,#20a486,#1f998a,#228d8d,#26828e,#2a768e,#306a8e,#355f8d,#3a538b,#3f4788,#443b84,#46307e,#482677)"></i>
<i style="left:136px;background:linear-gradient(#440154,#440154,#440256,#46075a,#470d60,#481467,#481c6e,#482677,#46307e,#433d84,#3f4889,#39558c,#34618d,#2e6e8e,#29798e,#25858e,#20928c,#1f9e89,#24aa83,#31b57b,#44bf70,#5cc863,#75d054,#8ed645,#a5db36,#bade28,#cde11d,#dde318,#e7e419,#efe51c,#f4e61e,#f6e620,#f4e61e,#efe51c,#e7e419,#dae319,#cde11d,#bade28,#a5db36,#8ed645,#75d054,#5cc863,#44bf70,#31b57b,#24aa83,#1f9e89,#20928c,#25858e,#29798e,#2e6d8e,#34618d,#3a548c,#3f4889,#433d84,#46307e,#482677,#481c6e,#481467,#470d60,#46075a,#440256,#440154,#440154,#440256,#46075a,#470d60,#481467,#481c6e,#482677,#46307e,#433d84,#3f4889,#3a548c,#34618d,#2e6d8e,#29798e,#25858e,#20928c,#1f9e89,#24aa83,#31b57b,#44bf70,#5cc863,#73d056,#8bd646,#a5db36,#bade28,#cde11d,#dae319,#e7e419,#efe51c,#f4e61e,#f6e620,#f4e61e,#efe51c,#e7e419,#dde318,#cde11d,#bade28,#a5db36,#8ed645,#75d054,#5cc863,#46c06f,#32b67a,#24aa83,#1f9e89,#20928c,#25858e,#29798e,#2e6e8e,#34618d,#39558c,#3e4989,#433d84,#46327e,#482677,#481c6e,#481467,#470d60)"></i>
<i style="left:137px;background:linear-gradient(#440154,#440154,#440256,#46075a,#470d60,#481467,#481c6e,#482677,#46307e,#433d84,#3f4889,#39558c,#34618d,#2e6e8e,#29798e,#25858e,#20928c,#1f9e89,#24aa83,#31b57b,#44bf70,#5cc863,#75d054,#8ed645,#a5db36,#bade28,#cde11d,#dde318,#e7e419,#efe51c,#f4e61e,#f6e620,#f4e61e,#efe51c,#e7e419,#dae319,#cde11d,#bade28,#a5db36,#8ed645,#75d054,#5cc863,#44bf70,#31b57b,#24aa83,#1f9e89,#20928c,#25858e,#29798e,#2e6d8e,#34618d,#3a548c,#3f4889,#433d84,#46307e,#482677,#481c6e,#481467,#470d60,#46075a,#440256,#440154,#440154,#440256,#46075a,#470d60,#481467,#481c6e,#482677,#46307e,#433d84,#3f4889,#3a548c,#34618d,#2e6d8e,#29798e,#25858e,#20928c,#1f9e89,#24aa83,#31b57b,#44bf70,#5cc863,#73d056,#8bd646,#a5db36,#bade28,#cde11d,#dae319,#e7e419,#efe51c,#f4e61e,#f6e620,#f4e61e,#efe51c,#e7e419,#dde318,#cde11d,#bade28,#a5db36,#8ed645,#75d054,#5cc863,#46c06f,#32b67a,#24aa83,#1f9e89,#20928c,#25858e,#29798e,#2e6e8e,#34618d,#39558c,#3e4989,#433d84,#46327e,#482677,#481c6e,#481467,#470d60)"></i>
<i style="left:138px;background:linear-gradient(#440154,#440154,#440256,#46075a,#470d60,#481668,#481d6f,#482878,#463480,#424086,#3d4d8a,#38598c,#31668e,#2c718e,#277f8e,#228b8d,#1f978b,#20a486,#2ab07f,#3bbb75,#54c568,#6ccd5a,#86d549,#a0da39,#b5de2b,#cae11f,#dae319,#eae51a,#f1e51d,#f8e621,#fbe723,#f8e621,#f6e620,#ece51b,#e2e418,#d2e21b,#c0df25,#aadc32,#90d743,#77d153,#5ec962,#46c06f,#32b67a,#24aa83,#1e9d89,#21918c,#25848e,#2a778e,#2f6b8e,#355f8d,#3b528b,#404688,#443983,#472e7c,#482374,#481a6c,#471164,#460a5d,#450457,#440154,#440154,#440154,#450457,#460a5d,#471164,#481a6c,#482374,#472e7c,#443983,#404688,#3b528b,#355f8d,#2f6c8e,#2a788e,#25848e,#20928c,#1f9e89,#24aa83,#32b67a,#48c16e,#5ec962,#7ad151,#93d741,#aadc32,#c0df25,#d2e21b,#e2e418,#efe51c,#f6e620,#f8e621,#fbe723,#f8e621,#f1e51d,#e7e419,#dae319,#cae11f,#b5de2b,#9dd93b,#84d44b,#6ccd5a,#52c569,#3bbb75,#29af7f,#20a386,#1f978b,#238a8d,#277e8e,#2c718e,#32658e,#38598c,#3e4c8a,#423f85,#46337f,#482878,#481d6f,#481467,#470d60,#46075a,#440256,#440154)"></i>
<i style="left:139px;background:linear-gradient(#440154,#440154,#440256,#46075a,#470e61,#481668,#481f70,#472a7a,#453581,#424186,#3c4f8a,#365c8d,#30698e,#2b758e,#26828e,#218f8d,#1e9c89,#22a884,#2fb47c,#44bf70,#5cc863,#75d054,#90d743,#a8db34,#bddf26,#d0e11c,#dfe318,#eae51a,#f1e51d,#f6e620,#f6e620,#f1e51d,#eae51a,#dfe318,#d0e11c,#bddf26,#a8db34,#90d743,#75d054,#5cc863,#44bf70,#2fb47c,#22a884,#1e9c89,#218f8d,#26828e,#2b758e,#30698e,#365c8d,#3c4f8a,#414287,#453581,#472a7a,#481f70,#481668,#470e61,#46075a,#440256,#440154,#440154,#440256,#46075a,#470d60,#481668,#481f70,#482979,#453581,#424186,#3d4e8a,#375b8d,#31688e,#2b748e,#26828e,#218e8d,#1e9b8a,#22a785,#2fb47c,#42be71,#5ac864,#75d054,#8ed645,#a8db34,#bddf26,#d0e11c,#dfe318,#eae51a,#f1e51d,#f6e620,#f6e620,#f4e61e,#ece51b,#dfe318,#d2e21b,#c0df25,#aadc32,#90d743,#77d153,#5ec962,#46c06f,#31b57b,#23a983,#1e9c89,#21908d,#26828e,#2b758e,#30698e,#365d8d,#3c4f8a,#414287,#453781,#472a7a,#482071,#481769,#470e61,#46075a,#440256,#440154,#440154,#440256,#46075a)"></i>
<i style="left:140px;background:linear-gradient(#440154,#440154,#440256,#46075a,#470e61,#481668,#481f70,#472a7a,#453581,#424186,#3c4f8a,#365c8d,#30698e,#2b758e,#26828e,#218f8d,#1e9c89,#22a884,#2fb47c,#44bf70,#5cc863,#75d054,#90d743,#a8db34,#bddf26,#d0e11c,#dfe318,#eae51a,#f1e51d,#f6e620,#f6e620,#f1e51d,#eae51a,#dfe318,#d0e11c,#bddf26,#a8db34,#90d743,#75d054,#5cc863,#44bf70,#2fb47c,#22a884,#1e9c89,#218f8d,#26828e,#2b758e,#30698e,#365c8d,#3c4f8a,#414287,#453581,#472a7a,#481f70,#481668,#470e61,#46075a,#440256,#440154,#440154,#440256,#46075a,#470d60,#481668,#481f70,#482979,#453581,#424186,#3d4e8a,#375b8d,#31688e,#2b748e,#26828e,#218e8d,#1e9b8a,#22a785,#2fb47c,#42be71,#5ac864,#75d054,#8ed645,#a8db34,#bddf26,#d0e11c,#dfe318,#eae51a,#f1e51d,#f6e620,#f6e620,#f4e61e,#ece51b,#dfe318,#d2e21b,#c0df25,#aadc32,#90d743,#77d153,#5ec962,#46c06f,#31b57b,#23a983,#1e9c89,#21908d,#26828e,#2b758e,#30698e,#365d8d,#3c4f8a,#414287,#453781,#472a7a,#482071,#481769,#470e61,#46075a,#440256,#440154,#440154,#440256,#46075a)"></i>
<i style="left:141px;background:linear-gradient(#440154,#440154,#440256,#46075a,#470e61,#481769,#482071,#472a7a,#453781,#414487,#3c508b,#365d8d,#306a8e,#2a778e,#25838e,#21918c,#1f9e89,#24aa83,#32b67a,#48c16e,#5ec962,#77d153,#90d743,#a8db34,#bddf26,#cde11d,#dae319,#e2e418,#e7e419,#eae51a,#e7e419,#dfe318,#d5e21a,#c8e020,#b5de2b,#a0da39,#89d548,#6ece58,#56c667,#3fbc73,#2cb17e,#21a585,#1f998a,#228c8d,#277f8e,#2c728e,#31668e,#38598c,#3e4c8a,#423f85,#46327e,#482677,#481c6e,#471365,#460b5e,#450559,#440154,#440154,#440154,#450457,#460a5d,#471164,#481a6c,#482475,#472f7d,#443b84,#3f4788,#3a548c,#33628d,#2e6f8e,#297b8e,#23888e,#1f958b,#1fa187,#27ad81,#38b977,#50c46a,#67cc5c,#81d34d,#98d83e,#b0dd2f,#c2df23,#d2e21b,#dde318,#e5e419,#eae51a,#eae51a,#e5e419,#dde318,#d0e11c,#c2df23,#addc30,#98d83e,#7fd34e,#67cc5c,#4ec36b,#38b977,#27ad81,#1fa187,#1f948c,#24878e,#297b8e,#2e6e8e,#34618d,#3a548c,#3f4788,#443a83,#472e7c,#482374,#481a6c,#471063,#46085c,#450457,#440154,#440154,#440256,#450559,#460b5e,#481467,#481c6e)"></i>
<i style="left:142px;background:linear-gradient(#440154,#440154,#440256,#46075a,#470e61,#481769,#482071,#472a7a,#453781,#414487,#3c508b,#365d8d,#306a8e,#2a778e,#25838e,#21918c,#1f9e89,#24aa83,#32b67a,#48c16e,#5ec962,#77d153,#90d743,#a8db34,#bddf26,#cde11d,#dae319,#e2e418,#e7e419,#eae51a,#e7e419,#dfe318,#d5e21a,#c8e020,#b5de2b,#a0da39,#89d548,#6ece58,#56c667,#3fbc73,#2cb17e,#21a585,#1f998a,#228c8d,#277f8e,#2c728e,#31668e,#38598c,#3e4c8a,#423f85,#46327e,#482677,#481c6e,#471365,#460b5e,#450559,#440154,#440154,#440154,#450457,#460a5d,#471164,#481a6c,#482475,#472f7d,#443b84,#3f4788,#3a548c,#33628d,#2e6f8e,#297b8e,#23888e,#1f958b,#1fa187,#27ad81,#38b977,#50c46a,#67cc5c,#81d34d,#98d83e,#b0dd2f,#c2df23,#d2e21b,#dde318,#e5e419,#eae51a,#eae51a,#e5e419,#dde318,#d0e11c,#c2df23,#addc30,#98d83e,#7fd34e,#67cc5c,#4ec36b,#38b977,#27ad81,#1fa187,#1f948c,#24878e,#297b8e,#2e6e8e,#34618d,#3a548c,#3f4788,#443a83,#472e7c,#482374,#481a6c,#471063,#46085c,#450457,#440154,#440154,#440256,#450559,#460b5e,#481467,#481c6e)"></i>
<i style="left:143px;background:linear-gradient(#440154,#440154,#440256,#46075a,#470e61,#481769,#482071,#472c7a,#453781,#414487,#3b518b,#355e8d,#2f6b8e,#2a778e,#25838e,#21918c,#1e9d89,#24aa83,#31b57b,#44bf70,#5cc863,#73d056,#89d548,#9dd93b,#b0dd2f,#c0df25,#cae11f,#d0e11c,#d2e21b,#d2e21b,#cde11d,#c2df23,#b5de2b,#a5db36,#90d743,#7ad151,#63cb5f,#4cc26c,#37b878,#27ad81,#1fa187,#1f948c,#23888e,#297b8e,#2e6f8e,#33628d,#3a548c,#3f4889,#443b84,#472f7d,#482475,#481a6c,#471164,#460a5d,#450457,#440154,#440154,#440256,#450559,#460b5e,#481467,#481c6e,#482878,#46337f,#423f85,#3d4d8a,#375a8c,#31668e,#2c728e,#27808e,#228c8d,#1f998a,#21a585,#2cb17e,#3dbc74,#54c568,#69cd5b,#81d34d,#98d83e,#aadc32,#bade28,#c5e021,#cde11d,#d2e21b,#d2e21b,#cde11d,#c5e021,#bade28,#aadc32,#98d83e,#81d34d,#69cd5b,#54c568,#3dbc74,#2cb17e,#21a585,#1f998a,#228c8d,#27808e,#2c728e,#31668e,#375a8c,#3d4d8a,#423f85,#46337f,#482878,#481d6f,#481467,#460b5e,#450559,#440256,#440154,#440154,#450457,#460a5d,#471164,#481a6c,#482475,#472f7d,#443b84)"></i>
<i style="left:144px;background:linear-gradient(#440154,#440154,#440256,#46075a,#470e61,#481769,#482071,#472c7a,#453781,#414487,#3b518b,#355e8d,#2f6b8e,#2a778e,#25838e,#21918c,#1e9d89,#24aa83,#31b57b,#44bf70,#5cc863,#73d056,#89d548,#9dd93b,#b0dd2f,#c0df25,#cae11f,#d0e11c,#d2e21b,#d2e21b,#cde11d,#c2df23,#b5de2b,#a5db36,#90d743,#7ad151,#63cb5f,#4cc26c,#37b878,#27ad81,#1fa187,#1f948c,#23888e,#297b8e,#2e6f8e,#33628d,#3a548c,#3f4889,#443b84,#472f7d,#482475,#481a6c,#471164,#460a5d,#450457,#440154,#440154,#440256,#450559,#460b5e,#481467,#481c6e,#482878,#46337f,#423f85,#3d4d8a,#375a8c,#31668e,#2c728e,#27808e,#228c8d,#1f998a,#21a585,#2cb17e,#3dbc74,#54c568,#69cd5b,#81d34d,#98d83e,#aadc32,#bade28,#c5e021,#cde11d,#d2e21b,#d2e21b,#cde11d,#c5e021,#bade28,#aadc32,#98d83e,#81d34d,#69cd5b,#54c568,#3dbc74,#2cb17e,#21a585,#1f998a,#228c8d,#27808e,#2c728e,#31668e,#375a8c,#3d4d8a,#423f85,#46337f,#482878,#481d6f,#481467,#460b5e,#450559,#440256,#440154,#440154,#450457,#460a5d,#471164,#481a6c,#482475,#472f7d,#443b84)"></i>
<i style="left:145px;background:linear-gradient(#440154,#440154,#440256,#46075a,#470e61,#481769,#482071,#472a7a,#453781,#414487,#3c508b,#365d8d,#306a8e,#2a768e,#26828e,#218f8d,#1e9b8a,#21a685,#2db27d,#3dbc74,#52c569,#65cb5e,#7ad151,#8bd646,#9bd93c,#a5db36,#addc30,#b2dd2d,#b2dd2d,#addc30,#a5db36,#9bd93c,#8bd646,#7ad151,#67cc5c,#52c569,#3fbc73,#2db27d,#22a785,#1e9c89,#21908d,#26828e,#2a768e,#306a8e,#355e8d,#3b518b,#414487,#453882,#472c7a,#482071,#481769,#470e61,#46085c,#440256,#440154,#440154,#440256,#46075a,#470d60,#481668,#481f70,#472a7a,#453581,#414287,#3c4f8a,#365c8d,#30698e,#2b748e,#26828e,#218e8d,#1f9a8a,#21a585,#2ab07f,#3bbb75,#50c46a,#63cb5f,#77d153,#89d548,#98d83e,#a5db36,#addc30,#b2dd2d,#b2dd2d,#b0dd2f,#a8db34,#9bd93c,#8ed645,#7cd250,#67cc5c,#54c568,#3fbc73,#2eb37c,#22a884,#1e9d89,#21918c,#25848e,#2a778e,#2f6b8e,#355f8d,#3b528b,#404588,#453882,#472d7b,#482173,#48186a,#471063,#46085c,#450457,#440154,#440154,#440256,#46075a,#470d60,#481668,#481f70,#482979,#463480,#424186,#3d4e8a,#375b8d)"></i>
<i style="left:146px;background:linear-gradient(#440154,#440154,#440256,#46075a,#470e61,#481769,#482071,#472a7a,#453781,#414487,#3c508b,#365d8d,#306a8e,#2a768e,#26828e,#218f8d,#1e9b8a,#21a685,#2db27d,#3dbc74,#52c569,#65cb5e,#7ad151,#8bd646,#9bd93c,#a5db36,#addc30,#b2dd2d,#b2dd2d,#addc30,#a5db36,#9bd93c,#8bd646,#7ad151,#67cc5c,#52c569,#3fbc73,#2db27d,#22a785,#1e9c89,#21908d,#26828e,#2a768e,#306a8e,#355e8d,#3b518b,#414487,#453882,#472c7a,#482071,#481769,#470e61,#46085c,#440256,#440154,#440154,#440256,#46075a,#470d60,#481668,#481f70,#472a7a,#453581,#414287,#3c4f8a,#365c8d,#30698e,#2b748e,#26828e,#218e8d,#1f9a8a,#21a585,#2ab07f,#3bbb75,#50c46a,#63cb5f,#77d153,#89d548,#98d83e,#a5db36,#addc30,#b2dd2d,#b2dd2d,#b0dd2f,#a8db34,#9bd93c,#8ed645,#7cd250,#67cc5c,#54c568,#3fbc73,#2eb37c,#22a884,#1e9d89,#21918c,#25848e,#2a778e,#2f6b8e,#355f8d,#3b528b,#404588,#453882,#472d7b,#482173,#48186a,#471063,#46085c,#450457,#440154,#440154,#440256,#46075a,#470d60,#481668,#481f70,#482979,#463480,#424186,#3d4e8a,#375b8d)"></i>
<i style="left:147px;background:linear-gradient(#440154,#440154,#440256,#46075a,#470e61,#481668,#481f70,#472a7a,#453581,#424186,#3d4e8a,#375b8d,#31678e,#2c728e,#277f8e,#238a8d,#1f968b,#1fa187,#25ac82,#31b57b,#40bd72,#52c569,#60ca60,#70cf57,#7cd250,#84d44b,#89d548,#8bd646,#89d548,#84d44b,#7ad151,#6ece58,#5ec962,#50c46a,#3fbc73,#2fb47c,#24aa83,#1fa088,#1f948c,#23898e,#287d8e,#2c718e,#32658e,#38598c,#3e4c8a,#424086,#46337f,#482878,#481d6f,#481467,#470d60,#46075a,#440256,#440154,#440154,#440256,#46085c,#470e61,#481769,#482071,#472c7a,#453781,#414287,#3c4f8a,#365c8d,#31688e,#2b748e,#27808e,#228c8d,#1f978b,#1fa287,#26ad81,#34b679,#42be71,#54c568,#63cb5f,#70cf57,#7cd250,#86d549,#89d548,#8bd646,#89d548,#81d34d,#77d153,#6ccd5a,#5ec962,#4ec36b,#3dbc74,#2eb37c,#23a983,#1f9f88,#20938c,#24878e,#287c8e,#2d708e,#32648e,#38588c,#3e4a89,#433e85,#46327e,#482677,#481c6e,#481467,#460b5e,#450559,#440256,#440154,#440154,#450457,#46085c,#471063,#48186a,#482173,#472d7b,#453882,#404588,#3b518b,#355e8d,#306a8e,#2b758e)"></i>
<i style="left:148px;background:linear-gradient(#440154,#440154,#440256,#46075a,#470e61,#481668,#481f70,#472a7a,#453581,#424186,#3d4e8a,#375b8d,#31678e,#2c728e,#277f8e,#238a8d,#1f968b,#1fa187,#25ac82,#31b57b,#40bd72,#52c569,#60ca60,#70cf57,#7cd250,#84d44b,#89d548,#8bd646,#89d548,#84d44b,#7ad151,#6ece58,#5ec962,#50c46a,#3fbc73,#2fb47c,#24aa83,#1fa088,#1f948c,#23898e,#287d8e,#2c718e,#32658e,#38598c,#3e4c8a,#424086,#46337f,#482878,#481d6f,#481467,#470d60,#46075a,#440256,#440154,#440154,#440256,#46085c,#470e61,#481769,#482071,#472c7a,#453781,#414287,#3c4f8a,#365c8d,#31688e,#2b748e,#27808e,#228c8d,#1f978b,#1fa287,#26ad81,#34b679,#42be71,#54c568,#63cb5f,#70cf57,#7cd250,#86d549,#89d548,#8bd646,#89d548,#81d34d,#77d153,#6ccd5a,#5ec962,#4ec36b,#3dbc74,#2eb37c,#23a983,#1f9f88,#20938c,#24878e,#287c8e,#2d708e,#32648e,#38588c,#3e4a89,#433e85,#46327e,#482677,#481c6e,#481467,#460b5e,#450559,#440256,#440154,#440154,#450457,#46085c,#471063,#48186a,#482173,#472d7b,#453882,#404588,#3b518b,#355e8d,#306a8e,#2b758e)"></i>
<i style="left:149px;background:linear-gradient(#440154,#440154,#440256,#46075a,#470d60,#481668,#481d6f,#482878,#46337f,#423f85,#3e4a89,#39568c,#33638d,#2e6e8e,#29798e,#25848e,#218f8d,#1f998a,#1fa287,#25ac82,#2fb47c,#3aba76,#46c06f,#50c46a,#58c765,#5ec962,#60ca60,#60ca60,#5cc863,#56c667,#4ec36b,#42be71,#37b878,#2cb17e,#23a983,#1fa088,#1f968b,#228c8d,#26818e,#2a768e,#2f6b8e,#355f8d,#3a538b,#3f4788,#443b84,#472f7d,#482576,#481b6d,#471365,#460b5e,#450559,#440256,#440154,#440154,#450457,#46085c,#471063,#481769,#482071,#472a7a,#453781,#424186,#3d4e8a,#375a8c,#31668e,#2d718e,#287c8e,#24878e,#20928c,#1e9c89,#21a585,#27ad81,#32b67a,#3dbc74,#48c16e,#52c569,#5ac864,#5ec962,#60ca60,#5ec962,#5ac864,#54c568,#4ac16d,#3fbc73,#34b679,#29af7f,#22a785,#1f9e89,#20938c,#23898e,#277e8e,#2c728e,#31688e,#365c8d,#3c508b,#414487,#453882,#472d7b,#482374,#48186a,#471063,#460a5d,#450457,#440154,#440154,#440154,#450457,#460a5d,#471164,#481a6c,#482374,#472e7c,#443983,#404588,#3b518b,#365d8d,#30698e,#2c738e,#277f8e,#238a8d)"></i>
<i style="left:150px;background:linear-gradient(#440154,#440154,#440256,#46075a,#470d60,#481467,#481c6e,#482576,#472f7d,#443a83,#404688,#3b518b,#365d8d,#31678e,#2c718e,#287c8e,#25858e,#218f8d,#1f978b,#1f9f88,#21a685,#25ac82,#2cb17e,#31b57b,#35b779,#38b977,#38b977,#37b878,#34b679,#2eb37c,#29af7f,#24aa83,#20a386,#1e9c89,#20938c,#228b8d,#26828e,#2a778e,#2e6e8e,#33638d,#38588c,#3d4d8a,#424186,#453781,#472c7a,#482173,#48186a,#471164,#460a5d,#450457,#440154,#440154,#440154,#450457,#46085c,#470e61,#481769,#481f70,#482979,#463480,#423f85,#3e4a89,#39558c,#34618d,#2f6b8e,#2b758e,#277f8e,#23888e,#20928c,#1f9a8a,#1fa187,#22a884,#27ad81,#2db27d,#32b67a,#37b878,#38b977,#38b977,#37b878,#32b67a,#2db27d,#27ad81,#22a785,#1fa188,#1f998a,#21918c,#24878e,#277e8e,#2b748e,#306a8e,#355f8d,#3a548c,#3f4889,#433e85,#46327e,#482878,#481f70,#481668,#470e61,#46075a,#450457,#440154,#440154,#440256,#450559,#460a5d,#471164,#481a6c,#482374,#472d7b,#453882,#414287,#3d4e8a,#375a8c,#32648e,#2e6f8e,#29798e,#26828e,#228c8d,#1f948c)"></i>
<i style="left:151px;background:linear-gradient(#440154,#440154,#440256,#46075a,#470d60,#481467,#481c6e,#482576,#472f7d,#443a83,#404688,#3b518b,#365d8d,#31678e,#2c718e,#287c8e,#25858e,#218f8d,#1f978b,#1f9f88,#21a685,#25ac82,#2cb17e,#31b57b,#35b779,#38b977,#38b977,#37b878,#34b679,#2eb37c,#29af7f,#24aa83,#20a386,#1e9c89,#20938c,#228b8d,#26828e,#2a778e,#2e6e8e,#33638d,#38588c,#3d4d8a,#424186,#453781,#472c7a,#482173,#48186a,#471164,#460a5d,#450457,#440154,#440154,#440154,#450457,#46085c,#470e61,#481769,#481f70,#482979,#463480,#423f85,#3e4a89,#39558c,#34618d,#2f6b8e,#2b758e,#277f8e,#23888e,#20928c,#1f9a8a,#1fa187,#22a884,#27ad81,#2db27d,#32b67a,#37b878,#38b977,#38b977,#37b878,#32b67a,#2db27d,#27ad81,#22a785,#1fa188,#1f998a,#21918c,#24878e,#277e8e,#2b748e,#306a8e,#355f8d,#3a548c,#3f4889,#433e85,#46327e,#482878,#481f70,#481668,#470e61,#46075a,#450457,#440154,#440154,#440256,#450559,#460a5d,#471164,#481a6c,#482374,#472d7b,#453882,#414287,#3d4e8a,#375a8c,#32648e,#2e6f8e,#29798e,#26828e,#228c8d,#1f948c)"></i>
<i style="left:152px;background:linear-gradient(#440154,#440154,#440256,#450559,#460b5e,#471164,#481a6c,#482374,#472c7a,#453581,#424086,#3e4a89,#3a548c,#355e8d,#31688e,#2d718e,#29798e,#26828e,#23888e,#21908d,#1f958b,#1f9a8a,#1f9f88,#1fa187,#20a386,#20a486,#20a486,#1fa287,#1fa188,#1e9d89,#1f988b,#20928c,#228c8d,#25858e,#277e8e,#2b758e,#2e6d8e,#32648e,#375a8c,#3c508b,#404588,#443b84,#46307e,#482677,#481d6f,#481668,#470e61,#46085c,#450457,#440154,#440154,#440154,#450457,#46085c,#470e61,#481668,#481d6f,#482677,#472f7d,#443a83,#414487,#3c4f8a,#38598c,#33628d,#2f6c8e,#2b748e,#287d8e,#25848e,#228c8d,#20928c,#1f978b,#1e9c89,#1fa088,#1fa287,#20a486,#20a486,#20a386,#1fa187,#1f9f88,#1e9b8a,#1f968b,#21908d,#23898e,#26828e,#297a8e,#2c718e,#30698e,#34608d,#39558c,#3e4c8a,#424186,#453781,#472d7b,#482374,#481b6d,#471365,#460b5e,#46075a,#440256,#440154,#440154,#440256,#450559,#460a5d,#471164,#48186a,#482071,#472a7a,#463480,#433e85,#3f4889,#3b528b,#365d8d,#31668e,#2d708e,#2a788e,#27808e,#24878e,#218e8d,#1f948c)"></i>
<i style="left:153px;background:linear-gradient(#440154,#440154,#440256,#450559,#460b5e,#471164,#481a6c,#482374,#472c7a,#453581,#424086,#3e4a89,#3a548c,#355e8d,#31688e,#2d718e,#29798e,#26828e,#23888e,#21908d,#1f958b,#1f9a8a,#1f9f88,#1fa187,#20a386,#20a486,#20a486,#1fa287,#1fa188,#1e9d89,#1f988b,#20928c,#228c8d,#25858e,#277e8e,#2b758e,#2e6d8e,#32648e,#375a8c,#3c508b,#404588,#443b84,#46307e,#482677,#481d6f,#481668,#470e61,#46085c,#450457,#440154,#440154,#440154,#450457,#46085c,#470e61,#481668,#481d6f,#482677,#472f7d,#443a83,#414487,#3c4f8a,#38598c,#33628d,#2f6c8e,#2b748e,#287d8e,#25848e,#228c8d,#20928c,#1f978b,#1e9c89,#1fa088,#1fa287,#20a486,#20a486,#20a386,#1fa187,#1f9f88,#1e9b8a,#1f968b,#21908d,#23898e,#26828e,#297a8e,#2c718e,#30698e,#34608d,#39558c,#3e4c8a,#424186,#453781,#472d7b,#482374,#481b6d,#471365,#460b5e,#46075a,#440256,#440154,#440154,#440256,#450559,#460a5d,#471164,#48186a,#482071,#472a7a,#463480,#433e85,#3f4889,#3b528b,#365d8d,#31668e,#2d708e,#2a788e,#27808e,#24878e,#218e8d,#1f948c)"></i>
<i style="left:154px;background:linear-gradient(#440154,#440154,#440256,#450559,#460a5d,#471063,#481769,#481d6f,#482677,#472f7d,#453882,#424186,#3e4a89,#3a538b,#365c8d,#33638d,#2f6b8e,#2c718e,#2a778e,#287d8e,#26828e,#24868e,#23898e,#228b8d,#228c8d,#228d8d,#228c8d,#238a8d,#24878e,#25848e,#27808e,#297b8e,#2b748e,#2e6f8e,#31678e,#34608d,#38588c,#3c4f8a,#404688,#433d84,#46337f,#472a7a,#482374,#481b6d,#471365,#470d60,#46075a,#450457,#440154,#440154,#440154,#440256,#46075a,#460b5e,#471365,#481a6c,#482173,#472a7a,#46337f,#443b84,#404588,#3d4e8a,#39568c,#355f8d,#31678e,#2e6e8e,#2b748e,#297a8e,#27808e,#25838e,#24878e,#238a8d,#228c8d,#228d8d,#228d8d,#228b8d,#23898e,#24868e,#26828e,#277e8e,#2a788e,#2c728e,#2f6c8e,#32648e,#365c8d,#3a538b,#3e4a89,#424186,#443983,#472f7d,#482677,#481f70,#481769,#471063,#460a5d,#450559,#440256,#440154,#440154,#440154,#450457,#46085c,#470e61,#481668,#481c6e,#482576,#472e7c,#453781,#424086,#3e4989,#3b528b,#375b8d,#33628d,#306a8e,#2d718e,#2a778e,#287d8e,#26828e,#25858e,#23888e)"></i>
<i style="left:155px;background:linear-gradient(#440154,#440154,#440256,#450559,#460a5d,#471063,#481769,#481d6f,#482677,#472f7d,#453882,#424186,#3e4a89,#3a538b,#365c8d,#33638d,#2f6b8e,#2c718e,#2a778e,#287d8e,#26828e,#24868e,#23898e,#228b8d,#228c8d,#228d8d,#228c8d,#238a8d,#24878e,#25848e,#27808e,#297b8e,#2b748e,#2e6f8e,#31678e,#34608d,#38588c,#3c4f8a,#404688,#433d84,#46337f,#472a7a,#482374,#481b6d,#471365,#470d60,#46075a,#450457,#440154,#440154,#440154,#440256,#46075a,#460b5e,#471365,#481a6c,#482173,#472a7a,#46337f,#443b84,#404588,#3d4e8a,#39568c,#355f8d,#31678e,#2e6e8e,#2b748e,#297a8e,#27808e,#25838e,#24878e,#238a8d,#228c8d,#228d8d,#228d8d,#228b8d,#23898e,#24868e,#26828e,#277e8e,#2a788e,#2c728e,#2f6c8e,#32648e,#365c8d,#3a538b,#3e4a89,#424186,#443983,#472f7d,#482677,#481f70,#481769,#471063,#460a5d,#450559,#440256,#440154,#440154,#440154,#450457,#46085c,#470e61,#481668,#481c6e,#482576,#472e7c,#453781,#424086,#3e4989,#3b528b,#375b8d,#33628d,#306a8e,#2d718e,#2a778e,#287d8e,#26828e,#25858e,#23888e)"></i>
<i style="left:156px;background:linear-gradient(#440154,#440154,#440154,#450457,#46085c,#470d60,#471365,#48186a,#482071,#482677,#472e7c,#453581,#433e85,#404588,#3e4c8a,#3a538b,#375a8c,#355f8d,#32648e,#31688e,#2f6c8e,#2e6f8e,#2c718e,#2c728e,#2c738e,#2c738e,#2c728e,#2d718e,#2e6e8e,#2f6b8e,#31678e,#33628d,#365d8d,#39568c,#3c508b,#3e4989,#424186,#443a83,#46337f,#472a7a,#482475,#481c6e,#481668,#471063,#460a5d,#450559,#440256,#440154,#440154,#440154,#440256,#450559,#460a5d,#470e61,#481668,#481b6d,#482374,#472a7a,#46327e,#443983,#424086,#3f4889,#3c4f8a,#39558c,#365c8d,#34618d,#31668e,#306a8e,#2e6e8e,#2d708e,#2c718e,#2c738e,#2c738e,#2c728e,#2c718e,#2d708e,#2e6d8e,#30698e,#32658e,#34608d,#375a8c,#3a548c,#3d4d8a,#404688,#423f85,#453781,#472f7d,#482878,#482071,#481a6c,#481467,#470d60,#46085c,#450559,#440256,#440154,#440154,#440154,#450457,#46075a,#460b5e,#471164,#481769,#481f70,#482576,#472d7b,#463480,#443b84,#414487,#3e4a89,#3b518b,#38588c,#355e8d,#33638d,#31688e,#2f6c8e,#2e6f8e,#2d718e,#2c728e,#2c738e)"></i>
<i style="left:157px;background:linear-gradient(#440154,#440154,#440154,#450457,#46085c,#470d60,#471365,#48186a,#482071,#482677,#472e7c,#453581,#433e85,#404588,#3e4c8a,#3a538b,#375a8c,#355f8d,#32648e,#31688e,#2f6c8e,#2e6f8e,#2c718e,#2c728e,#2c738e,#2c738e,#2c728e,#2d718e,#2e6e8e,#2f6b8e,#31678e,#33628d,#365d8d,#39568c,#3c508b,#3e4989,#424186,#443a83,#46337f,#472a7a,#482475,#481c6e,#481668,#471063,#460a5d,#450559,#440256,#440154,#440154,#440154,#440256,#450559,#460a5d,#470e61,#481668,#481b6d,#482374,#472a7a,#46327e,#443983,#424086,#3f4889,#3c4f8a,#39558c,#365c8d,#34618d,#31668e,#306a8e,#2e6e8e,#2d708e,#2c718e,#2c738e,#2c738e,#2c728e,#2c718e,#2d708e,#2e6d8e,#30698e,#32658e,#34608d,#375a8c,#3a548c,#3d4d8a,#404688,#423f85,#453781,#472f7d,#482878,#482071,#481a6c,#481467,#470d60,#46085c,#450559,#440256,#440154,#440154,#440154,#450457,#46075a,#460b5e,#471164,#481769,#481f70,#482576,#472d7b,#463480,#443b84,#414487,#3e4a89,#3b518b,#38588c,#355e8d,#33638d,#31688e,#2f6c8e,#2e6f8e,#2d718e,#2c728e,#2c738e)"></i>
<i style="left:158px;background:linear-gradient(#440154,#440154,#440154,#440256,#450559,#460a5d,#470e61,#471365,#48186a,#481d6f,#482374,#482979,#472e7c,#463480,#443a83,#423f85,#414487,#3f4889,#3e4c8a,#3c508b,#3b528b,#3a548c,#39568c,#39568c,#38588c,#39568c,#39558c,#3a538b,#3b518b,#3d4e8a,#3e4a89,#3f4788,#414287,#433d84,#453882,#46327e,#472d7b,#482677,#482173,#481b6d,#481668,#471164,#460b5e,#46085c,#450559,#440256,#440154,#440154,#440154,#440256,#450457,#46075a,#460b5e,#471063,#481467,#481a6c,#481f70,#482576,#472a7a,#46307e,#453781,#443b84,#424086,#404588,#3e4989,#3d4e8a,#3c508b,#3a538b,#39558c,#39568c,#39568c,#39568c,#39568c,#39558c,#3a538b,#3c508b,#3d4d8a,#3e4989,#404588,#424086,#443b84,#453581,#46307e,#472a7a,#482475,#481f70,#481a6c,#481467,#471063,#460a5d,#46075a,#450457,#440256,#440154,#440154,#440154,#440256,#450559,#46085c,#470d60,#471164,#481668,#481b6d,#482173,#482677,#472d7b,#46327e,#453882,#433e85,#414287,#3f4788,#3e4a89,#3c4f8a,#3b518b,#3a538b,#39558c,#39568c,#38588c,#39568c,#39558c)"></i>
<i style="left:159px;background:linear-gradient(#440154,#440154,#440154,#440256,#450559,#460a5d,#470e61,#471365,#48186a,#481d6f,#482374,#482979,#472e7c,#463480,#443a83,#423f85,#414487,#3f4889,#3e4c8a,#3c508b,#3b528b,#3a548c,#39568c,#39568c,#38588c,#39568c,#39558c,#3a538b,#3b518b,#3d4e8a,#3e4a89,#3f4788,#414287,#433d84,#453882,#46327e,#472d7b,#482677,#482173,#481b6d,#481668,#471164,#460b5e,#46085c,#450559,#440256,#440154,#440154,#440154,#440256,#450457,#46075a,#460b5e,#471063,#481467,#481a6c,#481f70,#482576,#472a7a,#46307e,#453781,#443b84,#424086,#404588,#3e4989,#3d4e8a,#3c508b,#3a538b,#39558c,#39568c,#39568c,#39568c,#39568c,#39558c,#3a538b,#3c508b,#3d4d8a,#3e4989,#404588,#424086,#443b84,#453581,#46307e,#472a7a,#482475,#481f70,#481a6c,#481467,#471063,#460a5d,#46075a,#450457,#440256,#440154,#440154,#440154,#440256,#450559,#46085c,#470d60,#471164,#481668,#481b6d,#482173,#482677,#472d7b,#46327e,#453882,#433e85,#414287,#3f4788,#3e4a89,#3c4f8a,#3b518b,#3a538b,#39558c,#39568c,#38588c,#39568c,#39558c)"></i>
<i style="left:160px;background:linear-gradient(#440154,#440154,#440154,#440256,#450457,#450559,#46085c,#460b5e,#470e61,#471365,#481668,#481a6c,#481d6f,#482071,#482475,#482878,#472a7a,#472d7b,#472f7d,#46327e,#46337f,#463480,#453581,#453581,#453581,#453581,#463480,#46337f,#46307e,#472f7d,#472d7b,#482979,#482677,#482374,#482071,#481c6e,#48186a,#481467,#471164,#470e61,#460a5d,#46075a,#450559,#440256,#440154,#440154,#440154,#440154,#440154,#440256,#450457,#46075a,#46085c,#460b5e,#471063,#471365,#481769,#481b6d,#481d6f,#482173,#482576,#482878,#472a7a,#472e7c,#46307e,#46327e,#46337f,#463480,#453581,#453581,#453581,#453581,#463480,#46337f,#46307e,#472e7c,#472c7a,#482979,#482576,#482374,#481f70,#481b6d,#48186a,#481467,#471063,#470d60,#460a5d,#46075a,#450457,#440256,#440154,#440154,#440154,#440154,#440154,#440256,#450457,#46075a,#460a5d,#470d60,#471063,#481467,#481769,#481b6d,#481f70,#482374,#482576,#482979,#472c7a,#472e7c,#46307e,#46337f,#463480,#453581,#453581,#453581,#453581,#463480,#463480,#46327e)"></i>
<i style="left:161px;background:linear-gradient(#440154,#440154,#440154,#440154,#440154,#440154,#440256,#440256,#450457,#450559,#450559,#46075a,#46085c,#46085c,#460a5d,#460b5e,#460b5e,#470d60,#470d60,#470e61,#470e61,#470e61,#470e61,#470e61,#470e61,#470e61,#470e61,#470e61,#470d60,#470d60,#460b5e,#460b5e,#460a5d,#46085c,#46085c,#46075a,#450559,#450559,#450457,#440256,#440256,#440154,#440154,#440154,#440154,#440154,#440154,#440154,#440154,#440154,#440256,#440256,#440256,#450457,#450559,#450559,#46075a,#46085c,#46085c,#460a5d,#460b5e,#460b5e,#470d60,#470d60,#470e61,#470e61,#470e61,#470e61,#470e61,#470e61,#470e61,#470e61,#470e61,#470d60,#470d60,#460b5e,#460b5e,#460a5d,#46085c,#46085c,#46075a,#450559,#450457,#450457,#440256,#440256,#440154,#440154,#440154,#440154,#440154,#440154,#440154,#440154,#440154,#440256,#440256,#450457,#450457,#450559,#450559,#46075a,#46085c,#460a5d,#460a5d,#460b5e,#460b5e,#470d60,#470d60,#470e61,#470e61,#470e61,#470e61,#470e61,#470e61,#470e61,#470e61,#470e61,#470d60,#470d60)"></i>
<i style="left:162px;background:linear-gradient(#440154,#440154,#440154,#440154,#440154,#440154,#440256,#440256,#450457,#450559,#450559,#46075a,#46085c,#46085c,#460a5d,#460b5e,#460b5e,#470d60,#470d60,#470e61,#470e61,#470e61,#470e61,#470e61,#470e61,#470e61,#470e61,#470e61,#470d60,#470d60,#460b5e,#460b5e,#460a5d,#46085c,#46085c,#46075a,#450559,#450559,#450457,#440256,#440256,#440154,#440154,#440154,#440154,#440154,#440154,#440154,#440154,#440154,#440256,#440256,#440256,#450457,#450559,#450559,#46075a,#46085c,#46085c,#460a5d,#460b5e,#460b5e,#470d60,#470d60,#470e61,#470e61,#470e61,#470e61,#470e61,#470e61,#470e61,#470e61,#470e61,#470d60,#470d60,#460b5e,#460b5e,#460a5d,#46085c,#46085c,#46075a,#450559,#450457,#450457,#440256,#440256,#440154,#440154,#440154,#440154,#440154,#440154,#440154,#440154,#440154,#440256,#440256,#450457,#450457,#450559,#450559,#46075a,#46085c,#460a5d,#460a5d,#460b5e,#460b5e,#470d60,#470d60,#470e61,#470e61,#470e61,#470e61,#470e61,#470e61,#470e61,#470e61,#470e61,#470d60,#470d60)"></i>
<i style="left:163px;background:linear-gradient(#440154,#440154,#440154,#440154,#440256,#440256,#450457,#46075a,#46085c,#460a5d,#460b5e,#470e61,#471063,#471365,#481467,#481668,#481769,#481a6c,#481a6c,#481b6d,#481c6e,#481c6e,#481c6e,#481c6e,#481c6e,#481c6e,#481b6d,#481a6c,#481a6c,#481769,#481668,#481467,#471365,#471063,#470e61,#460b5e,#460a5d,#46085c,#46075a,#450457,#450457,#440256,#440154,#440154,#440154,#440154,#440154,#440154,#440256,#440256,#450457,#450559,#46085c,#460a5d,#460b5e,#470e61,#471063,#471164,#481467,#481668,#481769,#48186a,#481a6c,#481b6d,#481c6e,#481c6e,#481c6e,#481c6e,#481c6e,#481c6e,#481b6d,#481b6d,#481a6c,#48186a,#481668,#481467,#471365,#471063,#470e61,#470d60,#460a5d,#46085c,#46075a,#450559,#450457,#440256,#440154,#440154,#440154,#440154,#440154,#440154,#440256,#440256,#450457,#450559,#46085c,#460a5d,#460b5e,#470e61,#471063,#471164,#481467,#481668,#481769,#48186a,#481a6c,#481b6d,#481c6e,#481c6e,#481c6e,#481c6e,#481c6e,#481c6e,#481b6d,#481b6d,#481a6c,#48186a,#481668,#481467)"></i>
<i style="left:164px;background:linear-gradient(#440154,#440154,#440154,#440154,#440256,#440256,#450457,#46075a,#46085c,#460a5d,#460b5e,#470e61,#471063,#471365,#481467,#481668,#481769,#481a6c,#481a6c,#481b6d,#481c6e,#481c6e,#481c6e,#481c6e,#481c6e,#481c6e,#481b6d,#481a6c,#481a6c,#481769,#481668,#481467,#471365,#471063,#470e61,#460b5e,#460a5d,#46085c,#46075a,#450457,#450457,#440256,#440154,#440154,#440154,#440154,#440154,#440154,#440256,#440256,#450457,#450559,#46085c,#460a5d,#460b5e,#470e61,#471063,#471164,#481467,#481668,#481769,#48186a,#481a6c,#481b6d,#481c6e,#481c6e,#481c6e,#481c6e,#481c6e,#481c6e,#481b6d,#481b6d,#481a6c,#48186a,#481668,#481467,#471365,#471063,#470e61,#470d60,#460a5d,#46085c,#46075a,#450559,#450457,#440256,#440154,#440154,#440154,#440154,#440154,#440154,#440256,#440256,#450457,#450559,#46085c,#460a5d,#460b5e,#470e61,#471063,#471164,#481467,#481668,#481769,#48186a,#481a6c,#481b6d,#481c6e,#481c6e,#481c6e,#481c6e,#481c6e,#481c6e,#481b6d,#481b6d,#481a6c,#48186a,#481668,#481467)"></i>
<i style="left:165px;background:linear-gradient(#440154,#440154,#440154,#440256,#450559,#46085c,#460b5e,#471063,#481467,#48186a,#481d6f,#482173,#482677,#472a7a,#472f7d,#46337f,#453781,#443a83,#433d84,#423f85,#424086,#424186,#424186,#424186,#424086,#423f85,#433d84,#443a83,#453882,#463480,#46307e,#472c7a,#482878,#482374,#481d6f,#481a6c,#481668,#471063,#470d60,#46085c,#450559,#440256,#440154,#440154,#440154,#440154,#440256,#450457,#46075a,#460a5d,#470e61,#471365,#481769,#481c6e,#482071,#482576,#482979,#472e7c,#46327e,#453581,#443983,#443b84,#433e85,#424086,#424186,#424186,#424186,#424086,#423f85,#433e85,#443b84,#453882,#453581,#46307e,#472d7b,#482979,#482475,#481f70,#481b6d,#481769,#471164,#470d60,#460a5d,#46075a,#450457,#440256,#440154,#440154,#440154,#440256,#450457,#46075a,#460a5d,#470d60,#471164,#481668,#481b6d,#481f70,#482475,#482878,#472d7b,#46307e,#463480,#453882,#443b84,#433e85,#423f85,#424086,#424186,#424186,#424186,#424086,#433e85,#443b84,#443983,#453581,#46327e,#472e7c,#472a7a,#482576)"></i>
<i style="left:166px;background:linear-gradient(#440154,#440154,#440154,#440256,#450559,#46085c,#460b5e,#471063,#481467,#48186a,#481d6f,#482173,#482677,#472a7a,#472f7d,#46337f,#453781,#443a83,#433d84,#423f85,#424086,#424186,#424186,#424186,#424086,#423f85,#433d84,#443a83,#453882,#463480,#46307e,#472c7a,#482878,#482374,#481d6f,#481a6c,#481668,#471063,#470d60,#46085c,#450559,#440256,#440154,#440154,#440154,#440154,#440256,#450457,#46075a,#460a5d,#470e61,#471365,#481769,#481c6e,#482071,#482576,#482979,#472e7c,#46327e,#453581,#443983,#443b84,#433e85,#424086,#424186,#424186,#424186,#424086,#423f85,#433e85,#443b84,#453882,#453581,#46307e,#472d7b,#482979,#482475,#481f70,#481b6d,#481769,#471164,#470d60,#460a5d,#46075a,#450457,#440256,#440154,#440154,#440154,#440256,#450457,#46075a,#460a5d,#470d60,#471164,#481668,#481b6d,#481f70,#482475,#482878,#472d7b,#46307e,#463480,#453882,#443b84,#433e85,#423f85,#424086,#424186,#424186,#424186,#424086,#433e85,#443b84,#443983,#453581,#46327e,#472e7c,#472a7a,#482576)"></i>
<i style="left:167px;background:linear-gradient(#440154,#440154,#440154,#450457,#46085c,#470d60,#471365,#48186a,#481f70,#482677,#472d7b,#463480,#443b84,#414287,#3f4889,#3d4e8a,#3a538b,#38588c,#375b8d,#355e8d,#34608d,#34618d,#34618d,#34608d,#355f8d,#365d8d,#375a8c,#39558c,#3c508b,#3e4a89,#404588,#423f85,#453882,#46307e,#482979,#482374,#481c6e,#481668,#471063,#460a5d,#450559,#440256,#440154,#440154,#440154,#440256,#450559,#460a5d,#471063,#481668,#481c6e,#482374,#472a7a,#46307e,#453882,#423f85,#404588,#3e4c8a,#3b518b,#39558c,#375a8c,#365d8d,#355f8d,#34608d,#34618d,#34618d,#34608d,#355e8d,#375b8d,#38588c,#3a538b,#3d4e8a,#3f4889,#424186,#443b84,#463480,#472d7b,#482677,#481f70,#48186a,#471365,#470d60,#46085c,#450457,#440154,#440154,#440154,#440154,#450457,#46085c,#470d60,#471365,#48186a,#481f70,#482677,#472d7b,#463480,#443b84,#414287,#3f4889,#3d4e8a,#3a538b,#38588c,#375b8d,#355e8d,#34608d,#34618d,#34618d,#34608d,#355f8d,#365d8d,#375a8c,#39558c,#3c508b,#3e4a89,#404588,#423f85,#453882,#46307e,#482979)"></i>
<i style="left:168px;background:linear-gradient(#440154,#440154,#440154,#450457,#46085c,#470d60,#471365,#48186a,#481f70,#482677,#472d7b,#463480,#443b84,#414287,#3f4889,#3d4e8a,#3a538b,#38588c,#375b8d,#355e8d,#34608d,#34618d,#34618d,#34608d,#355f8d,#365d8d,#375a8c,#39558c,#3c508b,#3e4a89,#404588,#423f85,#453882,#46307e,#482979,#482374,#481c6e,#481668,#471063,#460a5d,#450559,#440256,#440154,#440154,#440154,#440256,#450559,#460a5d,#471063,#481668,#481c6e,#482374,#472a7a,#46307e,#453882,#423f85,#404588,#3e4c8a,#3b518b,#39558c,#375a8c,#365d8d,#355f8d,#34608d,#34618d,#34618d,#34608d,#355e8d,#375b8d,#38588c,#3a538b,#3d4e8a,#3f4889,#424186,#443b84,#463480,#472d7b,#482677,#481f70,#48186a,#471365,#470d60,#46085c,#450457,#440154,#440154,#440154,#440154,#450457,#46085c,#470d60,#471365,#48186a,#481f70,#482677,#472d7b,#463480,#443b84,#414287,#3f4889,#3d4e8a,#3a538b,#38588c,#375b8d,#355e8d,#34608d,#34618d,#34618d,#34608d,#355f8d,#365d8d,#375a8c,#39558c,#3c508b,#3e4a89,#404588,#423f85,#453882,#46307e,#482979)"></i>
<i style="left:169px;background:linear-gradient(#440154,#440154,#440256,#450559,#460b5e,#471164,#481a6c,#482173,#472a7a,#463480,#433d84,#404688,#3c4f8a,#38588c,#34608d,#31668e,#2e6d8e,#2c718e,#2b758e,#29798e,#297b8e,#287c8e,#287c8e,#297a8e,#2a788e,#2b748e,#2d718e,#2f6b8e,#32658e,#365d8d,#39558c,#3d4d8a,#414487,#443a83,#46307e,#482878,#481f70,#481769,#471063,#460a5d,#450457,#440154,#440154,#440154,#440256,#46075a,#470d60,#481467,#481b6d,#482475,#472d7b,#453581,#423f85,#3f4889,#3b518b,#375a8c,#34618d,#31688e,#2e6e8e,#2c728e,#2a768e,#29798e,#297b8e,#287c8e,#287c8e,#297a8e,#2a778e,#2c738e,#2e6f8e,#30698e,#33638d,#365c8d,#3a538b,#3e4a89,#424186,#453882,#472f7d,#482576,#481d6f,#481668,#470e61,#46085c,#450457,#440154,#440154,#440154,#450457,#46085c,#470e61,#481668,#481d6f,#482576,#472f7d,#453882,#424186,#3e4a89,#3a538b,#365c8d,#33638d,#306a8e,#2e6f8e,#2c738e,#2a778e,#297a8e,#287c8e,#287c8e,#297b8e,#29798e,#2a768e,#2c728e,#2e6e8e,#31688e,#34618d,#375a8c,#3b518b,#3f4889,#423f85,#453581,#472d7b,#482475)"></i>
<i style="left:170px;background:linear-gradient(#440154,#440154,#440256,#450559,#460b5e,#471164,#481a6c,#482173,#472a7a,#463480,#433d84,#404688,#3c4f8a,#38588c,#34608d,#31668e,#2e6d8e,#2c718e,#2b758e,#29798e,#297b8e,#287c8e,#287c8e,#297a8e,#2a788e,#2b748e,#2d718e,#2f6b8e,#32658e,#365d8d,#39558c,#3d4d8a,#414487,#443a83,#46307e,#482878,#481f70,#481769,#471063,#460a5d,#450457,#440154,#440154,#440154,#440256,#46075a,#470d60,#481467,#481b6d,#482475,#472d7b,#453581,#423f85,#3f4889,#3b518b,#375a8c,#34618d,#31688e,#2e6e8e,#2c728e,#2a768e,#29798e,#297b8e,#287c8e,#287c8e,#297a8e,#2a778e,#2c738e,#2e6f8e,#30698e,#33638d,#365c8d,#3a538b,#3e4a89,#424186,#453882,#472f7d,#482576,#481d6f,#481668,#470e61,#46085c,#450457,#440154,#440154,#440154,#450457,#46085c,#470e61,#481668,#481d6f,#482576,#472f7d,#453882,#424186,#3e4a89,#3a538b,#365c8d,#33638d,#306a8e,#2e6f8e,#2c738e,#2a778e,#297a8e,#287c8e,#287c8e,#297b8e,#29798e,#2a768e,#2c728e,#2e6e8e,#31688e,#34618d,#375a8c,#3b518b,#3f4889,#423f85,#453581,#472d7b,#482475)"></i>
<i style="left:171px;background:linear-gradient(#440154,#440154,#440256,#46075a,#470e61,#481769,#482071,#472a7a,#453581,#424086,#3e4c8a,#38588c,#33628d,#2f6b8e,#2b748e,#287c8e,#25838e,#23898e,#218f8d,#20928c,#1f948c,#1f948c,#1f948c,#20928c,#218e8d,#23898e,#25838e,#287c8e,#2b748e,#2f6b8e,#33628d,#38588c,#3e4c8a,#424086,#453581,#472a7a,#482071,#481769,#470e61,#46075a,#440256,#440154,#440154,#440256,#46075a,#470e61,#481769,#482071,#472a7a,#453581,#424086,#3e4c8a,#39568c,#34618d,#2f6b8e,#2c738e,#287c8e,#25838e,#23898e,#218e8d,#20928c,#1f948c,#1f948c,#1f948c,#20928c,#218f8d,#23898e,#25838e,#287d8e,#2b748e,#2f6c8e,#33628d,#38588c,#3d4d8a,#424186,#453581,#472a7a,#482071,#481769,#470e61,#46075a,#440256,#440154,#440154,#440256,#46075a,#470e61,#481668,#481f70,#482979,#463480,#424086,#3e4c8a,#39568c,#34618d,#2f6b8e,#2c738e,#287c8e,#26828e,#23898e,#218e8d,#20928c,#1f948c,#1f948c,#1f948c,#20928c,#218f8d,#238a8d,#25838e,#287d8e,#2b748e,#2f6c8e,#33628d,#38588c,#3d4d8a,#424186,#453581,#472a7a,#482071,#481769)"></i>
<i style="left:172px;background:linear-gradient(#440154,#440154,#440256,#46075a,#470e61,#481769,#482071,#472a7a,#453581,#424086,#3e4c8a,#38588c,#33628d,#2f6b8e,#2b748e,#287c8e,#25838e,#23898e,#218f8d,#20928c,#1f948c,#1f948c,#1f948c,#20928c,#218e8d,#23898e,#25838e,#287c8e,#2b748e,#2f6b8e,#33628d,#38588c,#3e4c8a,#424086,#453581,#472a7a,#482071,#481769,#470e61,#46075a,#440256,#440154,#440154,#440256,#46075a,#470e61,#481769,#482071,#472a7a,#453581,#424086,#3e4c8a,#39568c,#34618d,#2f6b8e,#2c738e,#287c8e,#25838e,#23898e,#218e8d,#20928c,#1f948c,#1f948c,#1f948c,#20928c,#218f8d,#23898e,#25838e,#287d8e,#2b748e,#2f6c8e,#33628d,#38588c,#3d4d8a,#424186,#453581,#472a7a,#482071,#481769,#470e61,#46075a,#440256,#440154,#440154,#440256,#46075a,#470e61,#481668,#481f70,#482979,#463480,#424086,#3e4c8a,#39568c,#34618d,#2f6b8e,#2c738e,#287c8e,#26828e,#23898e,#218e8d,#20928c,#1f948c,#1f948c,#1f948c,#20928c,#218f8d,#238a8d,#25838e,#287d8e,#2b748e,#2f6c8e,#33628d,#38588c,#3d4d8a,#424186,#453581,#472a7a,#482071,#481769)"></i>
<i style="left:173px;background:linear-gradient(#440154,#440154,#450457,#46085c,#471164,#481b6d,#482677,#46337f,#424086,#3d4d8a,#375a8c,#31678e,#2c728e,#287d8e,#24878e,#21918c,#1f998a,#1fa188,#21a585,#23a983,#25ac82,#25ac82,#24aa83,#22a785,#1fa187,#1e9c89,#20938c,#238a8d,#26818e,#2b758e,#306a8e,#355e8d,#3b518b,#414487,#453781,#472a7a,#481f70,#481467,#460b5e,#450559,#440154,#440154,#440256,#46075a,#470e61,#48186a,#482374,#472e7c,#443b84,#3f4889,#39558c,#33628d,#2e6f8e,#29798e,#25848e,#218e8d,#1f968b,#1f9e89,#20a486,#22a884,#25ab82,#25ac82,#25ab82,#22a884,#20a386,#1f9e89,#1f968b,#218e8d,#25838e,#29798e,#2e6e8e,#33628d,#39558c,#3f4889,#443b84,#472e7c,#482374,#481769,#470e61,#46075a,#440256,#440154,#440154,#450559,#460b5e,#481467,#481f70,#472a7a,#453781,#414487,#3b518b,#355e8d,#2f6b8e,#2a768e,#26818e,#228b8d,#20938c,#1e9c89,#1fa287,#22a785,#24aa83,#25ac82,#25ac82,#23a983,#21a585,#1fa088,#1f998a,#21918c,#24878e,#287d8e,#2c718e,#31668e,#375a8c,#3d4d8a,#423f85,#46327e,#482677,#481b6d,#471164,#46085c)"></i>
<i style="left:174px;background:linear-gradient(#440154,#440154,#450457,#460b5e,#481467,#482071,#472d7b,#443a83,#3e4989,#38598c,#31678e,#2b748e,#26828e,#218e8d,#1f9a8a,#20a486,#27ad81,#31b57b,#3aba76,#40bd72,#44bf70,#44bf70,#3fbc73,#37b878,#2db27d,#25ab82,#1fa188,#1f958b,#238a8d,#287d8e,#2d708e,#34618d,#3a538b,#414487,#453581,#482878,#481b6d,#471063,#46085c,#440256,#440154,#440154,#450559,#470e61,#48186a,#482475,#46307e,#423f85,#3c4f8a,#365d8d,#2f6c8e,#29798e,#24868e,#20928c,#1f9e89,#22a884,#2ab07f,#35b779,#3dbc74,#42be71,#44bf70,#42be71,#3dbc74,#34b679,#2ab07f,#22a785,#1e9d89,#20928c,#25858e,#2a788e,#2f6b8e,#365d8d,#3d4e8a,#423f85,#46307e,#482374,#481769,#470d60,#450559,#440154,#440154,#440256,#46085c,#471164,#481c6e,#482878,#453581,#404588,#3a538b,#33628d,#2d708e,#287d8e,#238a8d,#1f968b,#1fa187,#25ab82,#2eb37c,#38b977,#3fbc73,#44bf70,#44bf70,#40bd72,#3aba76,#31b57b,#27ad81,#20a486,#1f998a,#218e8d,#26818e,#2c738e,#31668e,#38588c,#3e4989,#443a83,#472c7a,#481f70,#481467,#460a5d,#450457,#440154)"></i>
<i style="left:175px;background:linear-gradient(#440154,#440154,#450457,#460b5e,#481467,#482071,#472d7b,#443a83,#3e4989,#38598c,#31678e,#2b748e,#26828e,#218e8d,#1f9a8a,#20a486,#27ad81,#31b57b,#3aba76,#40bd72,#44bf70,#44bf70,#3fbc73,#37b878,#2db27d,#25ab82,#1fa188,#1f958b,#238a8d,#287d8e,#2d708e,#34618d,#3a538b,#414487,#453581,#482878,#481b6d,#471063,#46085c,#440256,#440154,#440154,#450559,#470e61,#48186a,#482475,#46307e,#423f85,#3c4f8a,#365d8d,#2f6c8e,#29798e,#24868e,#20928c,#1f9e89,#22a884,#2ab07f,#35b779,#3dbc74,#42be71,#44bf70,#42be71,#3dbc74,#34b679,#2ab07f,#22a785,#1e9d89,#20928c,#25858e,#2a788e,#2f6b8e,#365d8d,#3d4e8a,#423f85,#46307e,#482374,#481769,#470d60,#450559,#440154,#440154,#440256,#46085c,#471164,#481c6e,#482878,#453581,#404588,#3a538b,#33628d,#2d708e,#287d8e,#238a8d,#1f968b,#1fa187,#25ab82,#2eb37c,#38b977,#3fbc73,#44bf70,#44bf70,#40bd72,#3aba76,#31b57b,#27ad81,#20a486,#1f998a,#218e8d,#26818e,#2c738e,#31668e,#38588c,#3e4989,#443a83,#472c7a,#481f70,#481467,#460a5d,#450457,#440154)"></i>
<i style="left:176px;background:linear-gradient(#440154,#440154,#450457,#470d60,#481769,#482475,#46327e,#414287,#3b528b,#33638d,#2c728e,#26828e,#21908d,#1f9e89,#25ab82,#34b679,#44bf70,#56c667,#63cb5f,#6ccd5a,#6ece58,#6ccd5a,#63cb5f,#56c667,#44bf70,#32b67a,#25ab82,#1f9e89,#21908d,#26818e,#2c718e,#33628d,#3b528b,#424186,#46327e,#482475,#481769,#460b5e,#450457,#440154,#440154,#450457,#470d60,#481769,#482475,#46327e,#424186,#3b528b,#33628d,#2c718e,#26818e,#21908d,#1f9e89,#25ab82,#34b679,#44bf70,#56c667,#63cb5f,#6ccd5a,#6ece58,#6ccd5a,#63cb5f,#56c667,#44bf70,#34b679,#25ab82,#1f9e89,#21908d,#26828e,#2c718e,#33638d,#3b528b,#414287,#46327e,#482475,#481769,#470d60,#450457,#440154,#440154,#450457,#460b5e,#481769,#482374,#46327e,#424186,#3b528b,#33628d,#2c718e,#26818e,#21908d,#1f9e89,#25ab82,#32b67a,#44bf70,#56c667,#63cb5f,#6ccd5a,#6ece58,#6ccd5a,#63cb5f,#56c667,#44bf70,#34b679,#25ab82,#1f9e89,#21908d,#26828e,#2c728e,#33638d,#3b528b,#414287,#46337f,#482475,#481769,#470d60,#450559,#440154,#440154,#450457)"></i>
<i style="left:177px;background:linear-gradient(#440154,#440154,#450457,#470d60,#481769,#482475,#46327e,#414287,#3b528b,#33638d,#2c728e,#26828e,#21908d,#1f9e89,#25ab82,#34b679,#44bf70,#56c667,#63cb5f,#6ccd5a,#6ece58,#6ccd5a,#63cb5f,#56c667,#44bf70,#32b67a,#25ab82,#1f9e89,#21908d,#26818e,#2c718e,#33628d,#3b528b,#424186,#46327e,#482475,#481769,#460b5e,#450457,#440154,#440154,#450457,#470d60,#481769,#482475,#46327e,#424186,#3b528b,#33628d,#2c718e,#26818e,#21908d,#1f9e89,#25ab82,#34b679,#44bf70,#56c667,#63cb5f,#6ccd5a,#6ece58,#6ccd5a,#63cb5f,#56c667,#44bf70,#34b679,#25ab82,#1f9e89,#21908d,#26828e,#2c718e,#33638d,#3b528b,#414287,#46327e,#482475,#481769,#470d60,#450457,#440154,#440154,#450457,#460b5e,#481769,#482374,#46327e,#424186,#3b528b,#33628d,#2c718e,#26818e,#21908d,#1f9e89,#25ab82,#32b67a,#44bf70,#56c667,#63cb5f,#6ccd5a,#6ece58,#6ccd5a,#63cb5f,#56c667,#44bf70,#34b679,#25ab82,#1f9e89,#21908d,#26828e,#2c728e,#33638d,#3b528b,#414287,#46337f,#482475,#481769,#470d60,#450559,#440154,#440154,#450457)"></i>
<i style="left:178px;background:linear-gradient(#440154,#440154,#450559,#470e61,#481a6c,#482878,#453882,#3e4989,#375b8d,#2f6c8e,#287d8e,#228d8d,#1e9d89,#26ad81,#3aba76,#52c569,#69cd5b,#7fd34e,#8ed645,#98d83e,#98d83e,#93d741,#86d549,#73d056,#5ac864,#42be71,#2cb17e,#1fa287,#20928c,#26828e,#2c718e,#34618d,#3c4f8a,#433e85,#472d7b,#481f70,#471164,#46085c,#440256,#440154,#440256,#460a5d,#481467,#482173,#46327e,#414287,#3a538b,#32658e,#2a768e,#24868e,#1f978b,#22a785,#31b57b,#48c16e,#60ca60,#77d153,#89d548,#95d840,#98d83e,#95d840,#8bd646,#7ad151,#65cb5e,#4cc26c,#34b679,#23a983,#1f998a,#23898e,#2a788e,#31678e,#39558c,#414487,#46337f,#482475,#481769,#460b5e,#450457,#440154,#440154,#46075a,#471063,#481c6e,#472c7a,#443b84,#3d4d8a,#355f8d,#2d708e,#26818e,#21918c,#1fa188,#29af7f,#3fbc73,#58c765,#70cf57,#84d44b,#90d743,#98d83e,#98d83e,#90d743,#81d34d,#6ece58,#56c667,#3dbc74,#28ae80,#1f9f88,#218f8d,#277f8e,#2e6e8e,#365d8d,#3e4a89,#443983,#482979,#481b6d,#470e61,#450559,#440154,#440154,#450457,#470d60,#48186a)"></i>
<i style="left:179px;background:linear-gradient(#440154,#440154,#450559,#470e61,#481a6c,#482878,#453882,#3e4989,#375b8d,#2f6c8e,#287d8e,#228d8d,#1e9d89,#26ad81,#3aba76,#52c569,#69cd5b,#7fd34e,#8ed645,#98d83e,#98d83e,#93d741,#86d549,#73d056,#5ac864,#42be71,#2cb17e,#1fa287,#20928c,#26828e,#2c718e,#34618d,#3c4f8a,#433e85,#472d7b,#481f70,#471164,#46085c,#440256,#440154,#440256,#460a5d,#481467,#482173,#46327e,#414287,#3a538b,#32658e,#2a768e,#24868e,#1f978b,#22a785,#31b57b,#48c16e,#60ca60,#77d153,#89d548,#95d840,#98d83e,#95d840,#8bd646,#7ad151,#65cb5e,#4cc26c,#34b679,#23a983,#1f998a,#23898e,#2a788e,#31678e,#39558c,#414487,#46337f,#482475,#481769,#460b5e,#450457,#440154,#440154,#46075a,#471063,#481c6e,#472c7a,#443b84,#3d4d8a,#355f8d,#2d708e,#26818e,#21918c,#1fa188,#29af7f,#3fbc73,#58c765,#70cf57,#84d44b,#90d743,#98d83e,#98d83e,#90d743,#81d34d,#6ece58,#56c667,#3dbc74,#28ae80,#1f9f88,#218f8d,#277f8e,#2e6e8e,#365d8d,#3e4a89,#443983,#482979,#481b6d,#470e61,#450559,#440154,#440154,#450457,#470d60,#48186a)"></i>
<i style="left:180px;background:linear-gradient(#440154,#440154,#450559,#470e61,#481c6e,#472c7a,#433d84,#3c4f8a,#33628d,#2c738e,#25858e,#1f988b,#23a983,#38b977,#54c568,#73d056,#90d743,#a8db34,#b5de2b,#bddf26,#bddf26,#b2dd2d,#a2da37,#89d548,#6ccd5a,#4cc26c,#31b57b,#20a486,#20938c,#26818e,#2e6f8e,#365d8d,#3e4a89,#453882,#482677,#48186a,#470d60,#450457,#440154,#440154,#46075a,#471164,#481f70,#472f7d,#424086,#3a538b,#31668e,#2a788e,#238a8d,#1e9c89,#26ad81,#3dbc74,#5cc863,#7ad151,#95d840,#aadc32,#b8de29,#bddf26,#bade28,#b0dd2f,#9dd93b,#84d44b,#65cb5e,#46c06f,#2cb17e,#1fa188,#218f8d,#287d8e,#2f6b8e,#38598c,#404688,#463480,#482475,#481668,#460a5d,#440256,#440154,#440256,#460a5d,#481467,#482374,#46337f,#404588,#38588c,#306a8e,#287c8e,#218e8d,#1fa088,#2ab07f,#44bf70,#63cb5f,#81d34d,#9bd93c,#b0dd2f,#bade28,#bddf26,#bade28,#addc30,#98d83e,#7cd250,#5ec962,#3fbc73,#27ad81,#1e9d89,#228b8d,#29798e,#31678e,#3a548c,#424186,#46307e,#482071,#471365,#46085c,#440256,#440154,#450457,#460b5e,#481769,#482576,#453781)"></i>
<i style="left:181px;background:linear-gradient(#440154,#440154,#450559,#470e61,#481c6e,#472c7a,#433d84,#3c4f8a,#33628d,#2c738e,#25858e,#1f988b,#23a983,#38b977,#54c568,#73d056,#90d743,#a8db34,#b5de2b,#bddf26,#bddf26,#b2dd2d,#a2da37,#89d548,#6ccd5a,#4cc26c,#31b57b,#20a486,#20938c,#26818e,#2e6f8e,#365d8d,#3e4a89,#453882,#482677,#48186a,#470d60,#450457,#440154,#440154,#46075a,#471164,#481f70,#472f7d,#424086,#3a538b,#31668e,#2a788e,#238a8d,#1e9c89,#26ad81,#3dbc74,#5cc863,#7ad151,#95d840,#aadc32,#b8de29,#bddf26,#bade28,#b0dd2f,#9dd93b,#84d44b,#65cb5e,#46c06f,#2cb17e,#1fa188,#218f8d,#287d8e,#2f6b8e,#38598c,#404688,#463480,#482475,#481668,#460a5d,#440256,#440154,#440256,#460a5d,#481467,#482374,#46337f,#404588,#38588c,#306a8e,#287c8e,#218e8d,#1fa088,#2ab07f,#44bf70,#63cb5f,#81d34d,#9bd93c,#b0dd2f,#bade28,#bddf26,#bade28,#addc30,#98d83e,#7cd250,#5ec962,#3fbc73,#27ad81,#1e9d89,#228b8d,#29798e,#31678e,#3a548c,#424186,#46307e,#482071,#471365,#46085c,#440256,#440154,#450457,#460b5e,#481769,#482576,#453781)"></i>
<i style="left:182px;background:linear-gradient(#440154,#440154,#450559,#471063,#481d6f,#472e7c,#424086,#3a548c,#31688e,#297b8e,#218e8d,#1fa188,#2eb37c,#4cc26c,#70cf57,#93d741,#b0dd2f,#c8e020,#d5e21a,#dae319,#d8e219,#cae11f,#b5de2b,#98d83e,#75d054,#52c569,#32b67a,#20a386,#21918c,#277e8e,#2f6b8e,#39568c,#414487,#46307e,#482071,#471365,#46075a,#440154,#440154,#450559,#470e61,#481b6d,#472a7a,#433d84,#3c508b,#32648e,#2a778e,#238a8d,#1f9e89,#29af7f,#46c06f,#69cd5b,#8bd646,#aadc32,#c5e021,#d5e21a,#dae319,#d8e219,#cde11d,#bade28,#9dd93b,#7cd250,#58c765,#37b878,#22a785,#1f948c,#26818e,#2e6e8e,#375b8d,#3f4788,#463480,#482374,#481467,#46085c,#440256,#440154,#450457,#460b5e,#48186a,#482878,#443983,#3d4d8a,#34608d,#2c738e,#24868e,#1f9a8a,#26ad81,#3fbc73,#63cb5f,#86d549,#a5db36,#c0df25,#d2e21b,#dae319,#dae319,#d0e11c,#bddf26,#a2da37,#81d34d,#5ec962,#3dbc74,#25ab82,#1f988b,#25848e,#2c718e,#355e8d,#3e4a89,#453882,#482677,#481769,#460b5e,#440256,#440154,#440256,#460a5d,#481668,#482576,#453781,#3e4989,#365d8d)"></i>
<i style="left:183px;background:linear-gradient(#440154,#440154,#450559,#471063,#481d6f,#472e7c,#424086,#3a548c,#31688e,#297b8e,#218e8d,#1fa188,#2eb37c,#4cc26c,#70cf57,#93d741,#b0dd2f,#c8e020,#d5e21a,#dae319,#d8e219,#cae11f,#b5de2b,#98d83e,#75d054,#52c569,#32b67a,#20a386,#21918c,#277e8e,#2f6b8e,#39568c,#414487,#46307e,#482071,#471365,#46075a,#440154,#440154,#450559,#470e61,#481b6d,#472a7a,#433d84,#3c508b,#32648e,#2a778e,#238a8d,#1f9e89,#29af7f,#46c06f,#69cd5b,#8bd646,#aadc32,#c5e021,#d5e21a,#dae319,#d8e219,#cde11d,#bade28,#9dd93b,#7cd250,#58c765,#37b878,#22a785,#1f948c,#26818e,#2e6e8e,#375b8d,#3f4788,#463480,#482374,#481467,#46085c,#440256,#440154,#450457,#460b5e,#48186a,#482878,#443983,#3d4d8a,#34608d,#2c738e,#24868e,#1f9a8a,#26ad81,#3fbc73,#63cb5f,#86d549,#a5db36,#c0df25,#d2e21b,#dae319,#dae319,#d0e11c,#bddf26,#a2da37,#81d34d,#5ec962,#3dbc74,#25ab82,#1f988b,#25848e,#2c718e,#355e8d,#3e4a89,#453882,#482677,#481769,#460b5e,#440256,#440154,#440256,#460a5d,#481668,#482576,#453781,#3e4989,#365d8d)"></i>
<i style="left:184px;background:linear-gradient(#440154,#440154,#46075a,#471164,#482071,#46307e,#414487,#38598c,#2e6d8e,#26818e,#1f948c,#22a884,#3aba76,#5ec962,#86d549,#addc30,#cae11f,#dfe318,#ece51b,#efe51c,#e7e419,#d8e219,#bddf26,#9dd93b,#75d054,#50c46a,#2eb37c,#1fa088,#228c8d,#2a788e,#32648e,#3c508b,#443b84,#482979,#481a6c,#460b5e,#450457,#440154,#440256,#460a5d,#481769,#482576,#453882,#3e4c8a,#34608d,#2b748e,#23888e,#1e9c89,#29af7f,#48c16e,#6ece58,#95d840,#b8de29,#d2e21b,#e5e419,#efe51c,#ece51b,#e2e418,#d0e11c,#b2dd2d,#8ed645,#67cc5c,#40bd72,#25ac82,#1f988b,#25848e,#2d718e,#365c8d,#3f4889,#463480,#482374,#481467,#46085c,#440154,#440154,#450559,#470e61,#481c6e,#472d7b,#423f85,#3a538b,#31688e,#287c8e,#21908d,#20a386,#34b679,#56c667,#7fd34e,#a2da37,#c5e021,#dde318,#eae51a,#efe51c,#eae51a,#dde318,#c5e021,#a5db36,#7fd34e,#58c765,#35b779,#20a486,#21918c,#287d8e,#30698e,#3a548c,#424086,#472d7b,#481c6e,#470e61,#450559,#440154,#440154,#46085c,#471365,#482374,#463480,#3f4788,#365c8d,#2d708e,#25838e)"></i>
<i style="left:185px;background:linear-gradient(#440154,#440154,#46075a,#471365,#482173,#46337f,#3f4788,#365c8d,#2d718e,#25848e,#1f998a,#27ad81,#46c06f,#6ece58,#98d83e,#bddf26,#dae319,#efe51c,#f8e621,#f8e621,#efe51c,#dae319,#bddf26,#98d83e,#6ece58,#46c06f,#28ae80,#1f9a8a,#25858e,#2d718e,#365c8d,#3f4788,#46337f,#482173,#471365,#46075a,#440154,#440154,#46075a,#471164,#482071,#46327e,#404688,#375b8d,#2e6f8e,#25838e,#1f988b,#26ad81,#44bf70,#6ccd5a,#95d840,#bade28,#dae319,#ece51b,#f6e620,#f8e621,#efe51c,#dde318,#c0df25,#9bd93c,#70cf57,#48c16e,#29af7f,#1e9b8a,#24868e,#2c718e,#365d8d,#3f4889,#463480,#482374,#471365,#46075a,#440154,#440154,#450559,#471063,#481f70,#46307e,#404588,#38598c,#2e6e8e,#26828e,#1f978b,#25ac82,#40bd72,#69cd5b,#93d741,#bade28,#d8e219,#ece51b,#f6e620,#f8e621,#efe51c,#dde318,#c2df23,#9dd93b,#73d056,#4cc26c,#2ab07f,#1e9c89,#24878e,#2c738e,#355f8d,#3e4989,#453581,#482374,#481467,#46085c,#440154,#440154,#450559,#471063,#481d6f,#472f7d,#414487,#38588c,#2e6d8e,#26818e,#1f958b,#24aa83)"></i>
<i style="left:186px;background:linear-gradient(#440154,#440154,#46075a,#471365,#482173,#46337f,#3f4788,#365c8d,#2d718e,#25848e,#1f998a,#27ad81,#46c06f,#6ece58,#98d83e,#bddf26,#dae319,#efe51c,#f8e621,#f8e621,#efe51c,#dae319,#bddf26,#98d83e,#6ece58,#46c06f,#28ae80,#1f9a8a,#25858e,#2d718e,#365c8d,#3f4788,#46337f,#482173,#471365,#46075a,#440154,#440154,#46075a,#471164,#482071,#46327e,#404688,#375b8d,#2e6f8e,#25838e,#1f988b,#26ad81,#44bf70,#6ccd5a,#95d840,#bade28,#dae319,#ece51b,#f6e620,#f8e621,#efe51c,#dde318,#c0df25,#9bd93c,#70cf57,#48c16e,#29af7f,#1e9b8a,#24868e,#2c718e,#365d8d,#3f4889,#463480,#482374,#471365,#46075a,#440154,#440154,#450559,#471063,#481f70,#46307e,#404588,#38598c,#2e6e8e,#26828e,#1f978b,#25ac82,#40bd72,#69cd5b,#93d741,#bade28,#d8e219,#ece51b,#f6e620,#f8e621,#efe51c,#dde318,#c2df23,#9dd93b,#73d056,#4cc26c,#2ab07f,#1e9c89,#24878e,#2c738e,#355f8d,#3e4989,#453581,#482374,#481467,#46085c,#440154,#440154,#450559,#471063,#481d6f,#472f7d,#414487,#38588c,#2e6d8e,#26818e,#1f958b,#24aa83)"></i>
<i style="left:187px;background:linear-gradient(#440154,#440154,#46075a,#471365,#482173,#463480,#3f4889,#355e8d,#2c728e,#24878e,#1e9d89,#2cb17e,#4ec36b,#77d153,#a2da37,#c5e021,#e2e418,#f4e61e,#fbe723,#f6e620,#ece51b,#d5e21a,#b5de2b,#8bd646,#60ca60,#3aba76,#22a785,#20928c,#287d8e,#31688e,#3a538b,#433e85,#472a7a,#481a6c,#460b5e,#440256,#440154,#440256,#460b5e,#481a6c,#472a7a,#433e85,#3a538b,#31688e,#287d8e,#20928c,#22a785,#3aba76,#60ca60,#8bd646,#b5de2b,#d5e21a,#ece51b,#f6e620,#fbe723,#f4e61e,#e2e418,#c5e021,#a2da37,#77d153,#4ec36b,#2cb17e,#1e9d89,#23888e,#2c728e,#355e8d,#3f4889,#463480,#482173,#471365,#46075a,#440154,#440154,#46075a,#471365,#482173,#46337f,#3f4889,#365d8d,#2c718e,#24878e,#1e9c89,#2ab07f,#4cc26c,#75d054,#a0da39,#c5e021,#dfe318,#f1e51d,#f8e621,#f8e621,#ece51b,#d5e21a,#b5de2b,#8ed645,#63cb5f,#3bbb75,#22a884,#20928c,#277e8e,#30698e,#3a538b,#423f85,#472c7a,#481a6c,#470d60,#450457,#440154,#440256,#460b5e,#48186a,#482979,#433d84,#3b528b,#31678e,#287c8e,#21918c,#21a685,#38b977,#5ec962)"></i>
<i style="left:188px;background:linear-gradient(#440154,#440154,#46075a,#471365,#482173,#463480,#3f4889,#355e8d,#2c728e,#24878e,#1e9d89,#2cb17e,#4ec36b,#77d153,#a2da37,#c5e021,#e2e418,#f4e61e,#fbe723,#f6e620,#ece51b,#d5e21a,#b5de2b,#8bd646,#60ca60,#3aba76,#22a785,#20928c,#287d8e,#31688e,#3a538b,#433e85,#472a7a,#481a6c,#460b5e,#440256,#440154,#440256,#460b5e,#481a6c,#472a7a,#433e85,#3a538b,#31688e,#287d8e,#20928c,#22a785,#3aba76,#60ca60,#8bd646,#b5de2b,#d5e21a,#ece51b,#f6e620,#fbe723,#f4e61e,#e2e418,#c5e021,#a2da37,#77d153,#4ec36b,#2cb17e,#1e9d89,#23888e,#2c728e,#355e8d,#3f4889,#463480,#482173,#471365,#46075a,#440154,#440154,#46075a,#471365,#482173,#46337f,#3f4889,#365d8d,#2c718e,#24878e,#1e9c89,#2ab07f,#4cc26c,#75d054,#a0da39,#c5e021,#dfe318,#f1e51d,#f8e621,#f8e621,#ece51b,#d5e21a,#b5de2b,#8ed645,#63cb5f,#3bbb75,#22a884,#20928c,#277e8e,#30698e,#3a538b,#423f85,#472c7a,#481a6c,#470d60,#450457,#440154,#440256,#460b5e,#48186a,#482979,#433d84,#3b528b,#31678e,#287c8e,#21918c,#21a685,#38b977,#5ec962)"></i>
<i style="left:189px;background:linear-gradient(#440154,#440154,#46075a,#471365,#482374,#453581,#3e4989,#355f8d,#2b748e,#23898e,#1f9e89,#2db27d,#50c46a,#7ad151,#a2da37,#c5e021,#dfe318,#efe51c,#f4e61e,#efe51c,#dfe318,#c5e021,#a0da39,#77d153,#4ec36b,#2cb17e,#1f9e89,#23888e,#2c738e,#355e8d,#3e4989,#463480,#482173,#471365,#46075a,#440154,#440154,#46075a,#471365,#482374,#453581,#3e4989,#355f8d,#2b748e,#23898e,#1f9e89,#2db27d,#50c46a,#7ad151,#a2da37,#c5e021,#dfe318,#efe51c,#f4e61e,#efe51c,#dfe318,#c5e021,#a0da39,#77d153,#4ec36b,#2cb17e,#1e9d89,#23888e,#2c738e,#355e8d,#3e4989,#463480,#482173,#471365,#46075a,#440154,#440154,#46075a,#471365,#482374,#453581,#3e4989,#355f8d,#2b748e,#23898e,#1f9e89,#2db27d,#50c46a,#7ad151,#a2da37,#c5e021,#dfe318,#efe51c,#f4e61e,#efe51c,#dfe318,#c5e021,#a0da39,#77d153,#4ec36b,#2cb17e,#1e9d89,#23888e,#2c738e,#355e8d,#3f4889,#463480,#482173,#471365,#46075a,#440154,#440154,#46075a,#471365,#482374,#453581,#3e4989,#355f8d,#2b748e,#23898e,#1f9e89,#2db27d,#50c46a,#7ad151,#a2da37)"></i>
<i style="left:190px;background:linear-gradient(#440154,#440154,#46075a,#471365,#482374,#453581,#3e4989,#355f8d,#2b748e,#23898e,#1f9e89,#2db27d,#50c46a,#7ad151,#a2da37,#c5e021,#dfe318,#efe51c,#f4e61e,#efe51c,#dfe318,#c5e021,#a0da39,#77d153,#4ec36b,#2cb17e,#1f9e89,#23888e,#2c738e,#355e8d,#3e4989,#463480,#482173,#471365,#46075a,#440154,#440154,#46075a,#471365,#482374,#453581,#3e4989,#355f8d,#2b748e,#23898e,#1f9e89,#2db27d,#50c46a,#7ad151,#a2da37,#c5e021,#dfe318,#efe51c,#f4e61e,#efe51c,#dfe318,#c5e021,#a0da39,#77d153,#4ec36b,#2cb17e,#1e9d89,#23888e,#2c738e,#355e8d,#3e4989,#463480,#482173,#471365,#46075a,#440154,#440154,#46075a,#471365,#482374,#453581,#3e4989,#355f8d,#2b748e,#23898e,#1f9e89,#2db27d,#50c46a,#7ad151,#a2da37,#c5e021,#dfe318,#efe51c,#f4e61e,#efe51c,#dfe318,#c5e021,#a0da39,#77d153,#4ec36b,#2cb17e,#1e9d89,#23888e,#2c738e,#355e8d,#3f4889,#463480,#482173,#471365,#46075a,#440154,#440154,#46075a,#471365,#482374,#453581,#3e4989,#355f8d,#2b748e,#23898e,#1f9e89,#2db27d,#50c46a,#7ad151,#a2da37)"></i>
<i style="left:191px;background:linear-gradient(#440154,#440154,#46075a,#471365,#482374,#453581,#3e4989,#355f8d,#2c738e,#23898e,#1f9e89,#2cb17e,#4ec36b,#75d054,#9bd93c,#bade28,#d2e21b,#dfe318,#e2e418,#dae319,#c8e020,#aadc32,#86d549,#5ec962,#3aba76,#22a785,#20928c,#287d8e,#30698e,#3a538b,#433e85,#472a7a,#481a6c,#460b5e,#440256,#440154,#450457,#470d60,#481b6d,#472c7a,#423f85,#3a548c,#306a8e,#277f8e,#20938c,#22a884,#3bbb75,#60ca60,#89d548,#addc30,#c8e020,#dae319,#e2e418,#dfe318,#d2e21b,#bade28,#98d83e,#73d056,#4ac16d,#2ab07f,#1e9d89,#24878e,#2c728e,#355e8d,#3f4889,#463480,#482173,#471365,#46075a,#440154,#440154,#46075a,#471365,#482374,#453581,#3e4a89,#355f8d,#2b748e,#23898e,#1f9e89,#2db27d,#4ec36b,#75d054,#9bd93c,#bddf26,#d2e21b,#dfe318,#e2e418,#dae319,#c8e020,#aadc32,#86d549,#5ec962,#38b977,#21a685,#20928c,#287d8e,#31688e,#3a538b,#433e85,#472a7a,#481a6c,#460b5e,#440256,#440154,#450457,#470d60,#481b6d,#472c7a,#424086,#3a548c,#306a8e,#277f8e,#20938c,#22a884,#3bbb75,#60ca60,#89d548,#addc30,#cae11f)"></i>
<i style="left:192px;background:linear-gradient(#440154,#440154,#46075a,#471365,#482374,#453581,#3e4989,#355f8d,#2c738e,#23898e,#1f9e89,#2cb17e,#4ec36b,#75d054,#9bd93c,#bade28,#d2e21b,#dfe318,#e2e418,#dae319,#c8e020,#aadc32,#86d549,#5ec962,#3aba76,#22a785,#20928c,#287d8e,#30698e,#3a538b,#433e85,#472a7a,#481a6c,#460b5e,#440256,#440154,#450457,#470d60,#481b6d,#472c7a,#423f85,#3a548c,#306a8e,#277f8e,#20938c,#22a884,#3bbb75,#60ca60,#89d548,#addc30,#c8e020,#dae319,#e2e418,#dfe318,#d2e21b,#bade28,#98d83e,#73d056,#4ac16d,#2ab07f,#1e9d89,#24878e,#2c728e,#355e8d,#3f4889,#463480,#482173,#471365,#46075a,#440154,#440154,#46075a,#471365,#482374,#453581,#3e4a89,#355f8d,#2b748e,#23898e,#1f9e89,#2db27d,#4ec36b,#75d054,#9bd93c,#bddf26,#d2e21b,#dfe318,#e2e418,#dae319,#c8e020,#aadc32,#86d549,#5ec962,#38b977,#21a685,#20928c,#287d8e,#31688e,#3a538b,#433e85,#472a7a,#481a6c,#460b5e,#440256,#440154,#450457,#470d60,#481b6d,#472c7a,#424086,#3a548c,#306a8e,#277f8e,#20938c,#22a884,#3bbb75,#60ca60,#89d548,#addc30,#cae11f)"></i>
<i style="left:193px;background:linear-gradient(#440154,#440154,#46075a,#471365,#482173,#463480,#3f4889,#355e8d,#2c728e,#24868e,#1e9b8a,#28ae80,#44bf70,#67cc5c,#8bd646,#a8db34,#bddf26,#c8e020,#c8e020,#bddf26,#a8db34,#89d548,#67cc5c,#42be71,#27ad81,#1f9a8a,#24868e,#2c718e,#365d8d,#3f4889,#463480,#482173,#471365,#46075a,#440154,#440154,#46075a,#471365,#482173,#463480,#3e4989,#355e8d,#2c728e,#24868e,#1e9b8a,#28ae80,#44bf70,#67cc5c,#8bd646,#a8db34,#bddf26,#c8e020,#c8e020,#bddf26,#a8db34,#89d548,#67cc5c,#42be71,#27ad81,#1f9a8a,#24868e,#2c718e,#365d8d,#3f4889,#46337f,#482173,#471365,#46075a,#440154,#440154,#46075a,#471365,#482374,#463480,#3e4989,#355e8d,#2c728e,#24868e,#1e9b8a,#28ae80,#44bf70,#67cc5c,#8bd646,#a8db34,#bddf26,#c8e020,#c8e020,#bddf26,#a8db34,#89d548,#67cc5c,#42be71,#27ad81,#1f9a8a,#25858e,#2c718e,#365d8d,#3f4889,#46337f,#482173,#471365,#46075a,#440154,#440154,#46075a,#471365,#482374,#463480,#3e4989,#355e8d,#2c728e,#24868e,#1e9b8a,#28ae80,#44bf70,#69cd5b,#8bd646,#a8db34,#bddf26,#c8e020)"></i>
<i style="left:194px;background:linear-gradient(#440154,#440154,#46075a,#471365,#482173,#463480,#3f4889,#355e8d,#2c728e,#24868e,#1e9b8a,#28ae80,#44bf70,#67cc5c,#8bd646,#a8db34,#bddf26,#c8e020,#c8e020,#bddf26,#a8db34,#89d548,#67cc5c,#42be71,#27ad81,#1f9a8a,#24868e,#2c718e,#365d8d,#3f4889,#463480,#482173,#471365,#46075a,#440154,#440154,#46075a,#471365,#482173,#463480,#3e4989,#355e8d,#2c728e,#24868e,#1e9b8a,#28ae80,#44bf70,#67cc5c,#8bd646,#a8db34,#bddf26,#c8e020,#c8e020,#bddf26,#a8db34,#89d548,#67cc5c,#42be71,#27ad81,#1f9a8a,#24868e,#2c718e,#365d8d,#3f4889,#46337f,#482173,#471365,#46075a,#440154,#440154,#46075a,#471365,#482374,#463480,#3e4989,#355e8d,#2c728e,#24868e,#1e9b8a,#28ae80,#44bf70,#67cc5c,#8bd646,#a8db34,#bddf26,#c8e020,#c8e020,#bddf26,#a8db34,#89d548,#67cc5c,#42be71,#27ad81,#1f9a8a,#25858e,#2c718e,#365d8d,#3f4889,#46337f,#482173,#471365,#46075a,#440154,#440154,#46075a,#471365,#482374,#463480,#3e4989,#355e8d,#2c728e,#24868e,#1e9b8a,#28ae80,#44bf70,#69cd5b,#8bd646,#a8db34,#bddf26,#c8e020)"></i>
<i style="left:195px;background:linear-gradient(#440154,#440154,#46075a,#471365,#482173,#46337f,#3f4788,#365c8d,#2d708e,#26828e,#1f968b,#23a983,#38b977,#56c667,#75d054,#8ed645,#9dd93b,#a5db36,#a2da37,#95d840,#81d34d,#65cb5e,#46c06f,#2cb17e,#1fa088,#228c8d,#29798e,#32658e,#3b518b,#433d84,#482979,#481a6c,#460b5e,#440256,#440154,#440256,#460b5e,#481a6c,#482979,#433d84,#3b518b,#32658e,#29798e,#228c8d,#1fa088,#2cb17e,#46c06f,#65cb5e,#81d34d,#95d840,#a2da37,#a5db36,#9dd93b,#8ed645,#75d054,#56c667,#38b977,#23a983,#1f968b,#26828e,#2d708e,#365c8d,#3f4788,#46337f,#482173,#471365,#46075a,#440154,#440154,#46075a,#471164,#482071,#46327e,#404688,#375b8d,#2e6f8e,#26828e,#1f958b,#22a884,#37b878,#56c667,#73d056,#8bd646,#9dd93b,#a5db36,#a2da37,#98d83e,#81d34d,#67cc5c,#48c16e,#2db27d,#1fa088,#228d8d,#29798e,#31668e,#3b518b,#433d84,#472a7a,#481a6c,#470d60,#450457,#440154,#440256,#460b5e,#48186a,#482979,#443b84,#3c508b,#32648e,#2a788e,#228b8d,#1f9f88,#2ab07f,#44bf70,#63cb5f,#7fd34e,#95d840,#a2da37,#a5db36,#a0da39)"></i>
<i style="left:196px;background:linear-gradient(#440154,#440154,#46075a,#471164,#482071,#46307e,#414487,#38588c,#2f6b8e,#287d8e,#21908d,#1fa188,#2ab07f,#40bd72,#58c765,#6ccd5a,#77d153,#7cd250,#77d153,#6ccd5a,#58c765,#40bd72,#2ab07f,#1fa188,#21908d,#277e8e,#2f6b8e,#38588c,#414487,#46307e,#482071,#471164,#46075a,#440154,#440154,#450559,#471164,#481f70,#472f7d,#414287,#39568c,#306a8e,#287c8e,#218f8d,#1fa088,#29af7f,#3fbc73,#56c667,#69cd5b,#77d153,#7cd250,#7ad151,#6ccd5a,#5ac864,#42be71,#2cb17e,#1fa187,#21918c,#277f8e,#2f6c8e,#38598c,#404588,#46327e,#482173,#471365,#46075a,#440154,#440154,#450559,#471063,#481d6f,#472f7d,#424186,#39558c,#30698e,#297b8e,#218e8d,#1f9f88,#28ae80,#3dbc74,#56c667,#69cd5b,#77d153,#7cd250,#7ad151,#6ece58,#5ac864,#42be71,#2db27d,#1fa287,#20928c,#27808e,#2e6d8e,#375a8c,#404688,#46337f,#482173,#471365,#46075a,#440154,#440154,#450559,#471063,#481d6f,#472e7c,#424086,#3a548c,#31688e,#297a8e,#228d8d,#1f9e89,#27ad81,#3dbc74,#54c568,#69cd5b,#77d153,#7cd250,#7ad151,#6ece58,#5cc863)"></i>
<i style="left:197px;background:linear-gradient(#440154,#440154,#46075a,#471164,#482071,#46307e,#414487,#38588c,#2f6b8e,#287d8e,#21908d,#1fa188,#2ab07f,#40bd72,#58c765,#6ccd5a,#77d153,#7cd250,#77d153,#6ccd5a,#58c765,#40bd72,#2ab07f,#1fa188,#21908d,#277e8e,#2f6b8e,#38588c,#414487,#46307e,#482071,#471164,#46075a,#440154,#440154,#450559,#471164,#481f70,#472f7d,#414287,#39568c,#306a8e,#287c8e,#218f8d,#1fa088,#29af7f,#3fbc73,#56c667,#69cd5b,#77d153,#7cd250,#7ad151,#6ccd5a,#5ac864,#42be71,#2cb17e,#1fa187,#21918c,#277f8e,#2f6c8e,#38598c,#404588,#46327e,#482173,#471365,#46075a,#440154,#440154,#450559,#471063,#481d6f,#472f7d,#424186,#39558c,#30698e,#297b8e,#218e8d,#1f9f88,#28ae80,#3dbc74,#56c667,#69cd5b,#77d153,#7cd250,#7ad151,#6ece58,#5ac864,#42be71,#2db27d,#1fa287,#20928c,#27808e,#2e6d8e,#375a8c,#404688,#46337f,#482173,#471365,#46075a,#440154,#440154,#450559,#471063,#481d6f,#472e7c,#424086,#3a548c,#31688e,#297a8e,#228d8d,#1f9e89,#27ad81,#3dbc74,#54c568,#69cd5b,#77d153,#7cd250,#7ad151,#6ece58,#5cc863)"></i>
<i style="left:198px;background:linear-gradient(#440154,#440154,#450559,#471063,#481d6f,#472e7c,#424086,#3b528b,#32658e,#2a768e,#24868e,#1f968b,#20a486,#2cb17e,#3aba76,#48c16e,#50c46a,#52c569,#4ec36b,#42be71,#34b679,#25ac82,#1f9f88,#21908d,#27808e,#2e6f8e,#365d8d,#3e4a89,#453882,#482677,#48186a,#460b5e,#450457,#440154,#440256,#460a5d,#481668,#482475,#463480,#3f4788,#375a8c,#2f6c8e,#287d8e,#228d8d,#1e9c89,#24aa83,#31b57b,#40bd72,#4cc26c,#52c569,#52c569,#4ac16d,#3dbc74,#2db27d,#22a785,#1f998a,#23898e,#2a788e,#31688e,#39558c,#414287,#46307e,#482071,#471365,#46075a,#440154,#440154,#450457,#470e61,#481b6d,#472a7a,#443b84,#3c4f8a,#34618d,#2c728e,#25838e,#20938c,#1fa187,#28ae80,#37b878,#46c06f,#50c46a,#52c569,#4ec36b,#44bf70,#37b878,#28ae80,#1fa187,#20928c,#26828e,#2c718e,#34608d,#3d4e8a,#443b84,#472a7a,#481b6d,#470d60,#450457,#440154,#440154,#46085c,#471365,#482071,#46307e,#414487,#39558c,#31688e,#29798e,#238a8d,#1f998a,#22a785,#2eb37c,#3dbc74,#4ac16d,#52c569,#52c569,#4cc26c,#3fbc73,#31b57b,#23a983)"></i>
<i style="left:199px;background:linear-gradient(#440154,#440154,#450559,#471063,#481d6f,#472e7c,#424086,#3b528b,#32658e,#2a768e,#24868e,#1f968b,#20a486,#2cb17e,#3aba76,#48c16e,#50c46a,#52c569,#4ec36b,#42be71,#34b679,#25ac82,#1f9f88,#21908d,#27808e,#2e6f8e,#365d8d,#3e4a89,#453882,#482677,#48186a,#460b5e,#450457,#440154,#440256,#460a5d,#481668,#482475,#463480,#3f4788,#375a8c,#2f6c8e,#287d8e,#228d8d,#1e9c89,#24aa83,#31b57b,#40bd72,#4cc26c,#52c569,#52c569,#4ac16d,#3dbc74,#2db27d,#22a785,#1f998a,#23898e,#2a788e,#31688e,#39558c,#414287,#46307e,#482071,#471365,#46075a,#440154,#440154,#450457,#470e61,#481b6d,#472a7a,#443b84,#3c4f8a,#34618d,#2c728e,#25838e,#20938c,#1fa187,#28ae80,#37b878,#46c06f,#50c46a,#52c569,#4ec36b,#44bf70,#37b878,#28ae80,#1fa187,#20928c,#26828e,#2c718e,#34608d,#3d4e8a,#443b84,#472a7a,#481b6d,#470d60,#450457,#440154,#440154,#46085c,#471365,#482071,#46307e,#414487,#39558c,#31688e,#29798e,#238a8d,#1f998a,#22a785,#2eb37c,#3dbc74,#4ac16d,#52c569,#52c569,#4cc26c,#3fbc73,#31b57b,#23a983)"></i>
<i style="left:200px;background:linear-gradient(#440154,#440154,#450559,#470e61,#481b6d,#472a7a,#443a83,#3e4c8a,#365d8d,#2e6d8e,#287c8e,#238a8d,#1f968b,#1fa188,#24aa83,#29af7f,#2db27d,#2db27d,#29af7f,#24aa83,#1fa287,#1f988b,#228b8d,#277e8e,#2e6f8e,#355f8d,#3d4e8a,#433d84,#472c7a,#481d6f,#471063,#46075a,#440154,#440154,#450457,#470d60,#481a6c,#482878,#453882,#3f4889,#375a8c,#306a8e,#29798e,#24878e,#1f948c,#1fa088,#22a884,#28ae80,#2db27d,#2eb37c,#2ab07f,#25ac82,#20a386,#1f998a,#218e8d,#27808e,#2d718e,#34618d,#3c508b,#423f85,#472e7c,#481f70,#471365,#46085c,#440256,#440154,#450457,#460b5e,#481769,#482576,#453581,#404688,#38588c,#31688e,#2a778e,#25858e,#20928c,#1f9e89,#22a785,#27ad81,#2cb17e,#2eb37c,#2cb17e,#26ad81,#21a585,#1e9b8a,#21908d,#26828e,#2c738e,#32648e,#3a538b,#424186,#46307e,#482173,#481467,#460a5d,#440256,#440154,#440256,#460a5d,#481668,#482374,#46327e,#414487,#3a548c,#32658e,#2b748e,#26828e,#21918c,#1e9c89,#21a585,#26ad81,#2cb17e,#2eb37c,#2cb17e,#27ad81,#21a685,#1e9d89,#20928c,#25848e)"></i>
<i style="left:201px;background:linear-gradient(#440154,#440154,#450559,#470e61,#481b6d,#472a7a,#443a83,#3e4c8a,#365d8d,#2e6d8e,#287c8e,#238a8d,#1f968b,#1fa188,#24aa83,#29af7f,#2db27d,#2db27d,#29af7f,#24aa83,#1fa287,#1f988b,#228b8d,#277e8e,#2e6f8e,#355f8d,#3d4e8a,#433d84,#472c7a,#481d6f,#471063,#46075a,#440154,#440154,#450457,#470d60,#481a6c,#482878,#453882,#3f4889,#375a8c,#306a8e,#29798e,#24878e,#1f948c,#1fa088,#22a884,#28ae80,#2db27d,#2eb37c,#2ab07f,#25ac82,#20a386,#1f998a,#218e8d,#27808e,#2d718e,#34618d,#3c508b,#423f85,#472e7c,#481f70,#471365,#46085c,#440256,#440154,#450457,#460b5e,#481769,#482576,#453581,#404688,#38588c,#31688e,#2a778e,#25858e,#20928c,#1f9e89,#22a785,#27ad81,#2cb17e,#2eb37c,#2cb17e,#26ad81,#21a585,#1e9b8a,#21908d,#26828e,#2c738e,#32648e,#3a538b,#424186,#46307e,#482173,#481467,#460a5d,#440256,#440154,#440256,#460a5d,#481668,#482374,#46327e,#414487,#3a548c,#32658e,#2b748e,#26828e,#21918c,#1e9c89,#21a585,#26ad81,#2cb17e,#2eb37c,#2cb17e,#27ad81,#21a685,#1e9d89,#20928c,#25848e)"></i>
<i style="left:202px;background:linear-gradient(#440154,#440154,#450559,#470d60,#48186a,#482576,#463480,#414487,#3b528b,#34618d,#2e6f8e,#297b8e,#25858e,#218f8d,#1f958b,#1f9a8a,#1e9d89,#1e9c89,#1f998a,#20938c,#228c8d,#26828e,#2a778e,#2f6b8e,#365d8d,#3d4e8a,#423f85,#472f7d,#482173,#481467,#460a5d,#450457,#440154,#440154,#46075a,#471063,#481b6d,#482979,#453882,#3f4788,#39568c,#32658e,#2c728e,#277e8e,#23888e,#21918c,#1f978b,#1e9b8a,#1e9d89,#1e9c89,#1f988b,#20928c,#238a8d,#27808e,#2b748e,#31678e,#38598c,#3e4989,#443a83,#472c7a,#481d6f,#471164,#46085c,#440256,#440154,#440256,#46085c,#471365,#481f70,#472d7b,#443b84,#3e4c8a,#375b8d,#30698e,#2b758e,#26818e,#228b8d,#20928c,#1f988b,#1e9c89,#1e9d89,#1e9b8a,#1f968b,#21908d,#24878e,#287d8e,#2d718e,#32648e,#39558c,#404688,#453781,#482878,#481a6c,#470e61,#450559,#440154,#440154,#450457,#460b5e,#481668,#482374,#46307e,#424086,#3c508b,#355f8d,#2f6c8e,#2a788e,#25838e,#228d8d,#1f948c,#1f9a8a,#1e9c89,#1e9d89,#1f9a8a,#1f958b,#218e8d,#25848e,#29798e,#2e6e8e,#34608d)"></i>
<i style="left:203px;background:linear-gradient(#440154,#440154,#450559,#470d60,#48186a,#482576,#463480,#414487,#3b528b,#34618d,#2e6f8e,#297b8e,#25858e,#218f8d,#1f958b,#1f9a8a,#1e9d89,#1e9c89,#1f998a,#20938c,#228c8d,#26828e,#2a778e,#2f6b8e,#365d8d,#3d4e8a,#423f85,#472f7d,#482173,#481467,#460a5d,#450457,#440154,#440154,#46075a,#471063,#481b6d,#482979,#453882,#3f4788,#39568c,#32658e,#2c728e,#277e8e,#23888e,#21918c,#1f978b,#1e9b8a,#1e9d89,#1e9c89,#1f988b,#20928c,#238a8d,#27808e,#2b748e,#31678e,#38598c,#3e4989,#443a83,#472c7a,#481d6f,#471164,#46085c,#440256,#440154,#440256,#46085c,#471365,#481f70,#472d7b,#443b84,#3e4c8a,#375b8d,#30698e,#2b758e,#26818e,#228b8d,#20928c,#1f988b,#1e9c89,#1e9d89,#1e9b8a,#1f968b,#21908d,#24878e,#287d8e,#2d718e,#32648e,#39558c,#404688,#453781,#482878,#481a6c,#470e61,#450559,#440154,#440154,#450457,#460b5e,#481668,#482374,#46307e,#424086,#3c508b,#355f8d,#2f6c8e,#2a788e,#25838e,#228d8d,#1f948c,#1f9a8a,#1e9c89,#1e9d89,#1f9a8a,#1f958b,#218e8d,#25848e,#29798e,#2e6e8e,#34608d)"></i>
<i style="left:204px;background:linear-gradient(#440154,#440154,#450457,#460b5e,#481467,#482071,#472c7a,#443983,#3f4788,#3a538b,#355f8d,#306a8e,#2c728e,#297a8e,#27808e,#26828e,#25848e,#25838e,#26818e,#287c8e,#2b748e,#2e6d8e,#33628d,#39568c,#3e4a89,#433d84,#472f7d,#482374,#481769,#470d60,#450559,#440154,#440154,#440256,#46085c,#471164,#481c6e,#482878,#453581,#414287,#3c508b,#365c8d,#31678e,#2d708e,#2a788e,#277e8e,#26828e,#25848e,#25848e,#26828e,#277e8e,#2a778e,#2d708e,#31668e,#375b8d,#3d4e8a,#424186,#463480,#482677,#481b6d,#471063,#46085c,#440256,#440154,#440154,#46075a,#470e61,#48186a,#482475,#46307e,#433e85,#3e4c8a,#38588c,#33638d,#2e6e8e,#2b758e,#287c8e,#26818e,#25838e,#25848e,#26828e,#277f8e,#29798e,#2c718e,#30698e,#355e8d,#3b528b,#404688,#453882,#472a7a,#481f70,#481467,#460a5d,#450457,#440154,#440154,#450457,#460b5e,#481668,#482071,#472d7b,#443a83,#3f4788,#3a548c,#34608d,#306a8e,#2c738e,#297a8e,#27808e,#25838e,#25848e,#25838e,#26818e,#297b8e,#2b748e,#2f6c8e,#33628d,#39568c,#3e4989,#433d84)"></i>
<i style="left:205px;background:linear-gradient(#440154,#440154,#450457,#460b5e,#481467,#482071,#472c7a,#443983,#3f4788,#3a538b,#355f8d,#306a8e,#2c728e,#297a8e,#27808e,#26828e,#25848e,#25838e,#26818e,#287c8e,#2b748e,#2e6d8e,#33628d,#39568c,#3e4a89,#433d84,#472f7d,#482374,#481769,#470d60,#450559,#440154,#440154,#440256,#46085c,#471164,#481c6e,#482878,#453581,#414287,#3c508b,#365c8d,#31678e,#2d708e,#2a788e,#277e8e,#26828e,#25848e,#25848e,#26828e,#277e8e,#2a778e,#2d708e,#31668e,#375b8d,#3d4e8a,#424186,#463480,#482677,#481b6d,#471063,#46085c,#440256,#440154,#440154,#46075a,#470e61,#48186a,#482475,#46307e,#433e85,#3e4c8a,#38588c,#33638d,#2e6e8e,#2b758e,#287c8e,#26818e,#25838e,#25848e,#26828e,#277f8e,#29798e,#2c718e,#30698e,#355e8d,#3b528b,#404688,#453882,#472a7a,#481f70,#481467,#460a5d,#450457,#440154,#440154,#450457,#460b5e,#481668,#482071,#472d7b,#443a83,#3f4788,#3a548c,#34608d,#306a8e,#2c738e,#297a8e,#27808e,#25838e,#25848e,#25838e,#26818e,#297b8e,#2b748e,#2f6c8e,#33628d,#39568c,#3e4989,#433d84)"></i>
<i style="left:206px;background:linear-gradient(#440154,#440154,#450457,#46085c,#471063,#481a6c,#482374,#472e7c,#443983,#414487,#3d4d8a,#39558c,#365d8d,#33638d,#31678e,#306a8e,#2f6b8e,#306a8e,#31678e,#33628d,#365c8d,#3a548c,#3e4c8a,#424186,#453781,#472d7b,#482173,#48186a,#471063,#46085c,#440256,#440154,#440154,#450457,#460a5d,#471164,#481a6c,#482475,#472f7d,#443983,#414487,#3d4e8a,#39568c,#355e8d,#33638d,#31678e,#306a8e,#2f6b8e,#30698e,#31668e,#33628d,#365c8d,#3a538b,#3e4a89,#424186,#453781,#472c7a,#482173,#481769,#470e61,#46075a,#440256,#440154,#440154,#450457,#460a5d,#471164,#481b6d,#482576,#472f7d,#443a83,#404588,#3c4f8a,#38588c,#355e8d,#32648e,#31688e,#306a8e,#306a8e,#30698e,#31668e,#34618d,#375b8d,#3a538b,#3e4a89,#424086,#453581,#472a7a,#482071,#481769,#470e61,#46075a,#440256,#440154,#440154,#450457,#460a5d,#471365,#481c6e,#482677,#46307e,#443b84,#404688,#3c4f8a,#38588c,#355f8d,#32648e,#31688e,#306a8e,#306a8e,#30698e,#31668e,#34618d,#375a8c,#3b528b,#3e4989,#423f85,#463480,#482979,#481f70)"></i>
<i style="left:207px;background:linear-gradient(#440154,#440154,#450457,#46085c,#471063,#481a6c,#482374,#472e7c,#443983,#414487,#3d4d8a,#39558c,#365d8d,#33638d,#31678e,#306a8e,#2f6b8e,#306a8e,#31678e,#33628d,#365c8d,#3a548c,#3e4c8a,#424186,#453781,#472d7b,#482173,#48186a,#471063,#46085c,#440256,#440154,#440154,#450457,#460a5d,#471164,#481a6c,#482475,#472f7d,#443983,#414487,#3d4e8a,#39568c,#355e8d,#33638d,#31678e,#306a8e,#2f6b8e,#30698e,#31668e,#33628d,#365c8d,#3a538b,#3e4a89,#424186,#453781,#472c7a,#482173,#481769,#470e61,#46075a,#440256,#440154,#440154,#450457,#460a5d,#471164,#481b6d,#482576,#472f7d,#443a83,#404588,#3c4f8a,#38588c,#355e8d,#32648e,#31688e,#306a8e,#306a8e,#30698e,#31668e,#34618d,#375b8d,#3a538b,#3e4a89,#424086,#453581,#472a7a,#482071,#481769,#470e61,#46075a,#440256,#440154,#440154,#450457,#460a5d,#471365,#481c6e,#482677,#46307e,#443b84,#404688,#3c4f8a,#38588c,#355f8d,#32648e,#31688e,#306a8e,#306a8e,#30698e,#31668e,#34618d,#375a8c,#3b528b,#3e4989,#423f85,#463480,#482979,#481f70)"></i>
<i style="left:208px;background:linear-gradient(#440154,#440154,#440256,#450559,#460b5e,#471164,#481a6c,#482071,#482979,#46307e,#453781,#433e85,#414487,#3f4788,#3e4a89,#3d4d8a,#3d4d8a,#3e4c8a,#3e4989,#404588,#424086,#443a83,#46337f,#472c7a,#482475,#481c6e,#481668,#470e61,#46085c,#450457,#440154,#440154,#440154,#450457,#46085c,#470e61,#481668,#481c6e,#482475,#472d7b,#463480,#443a83,#424086,#404588,#3e4989,#3e4c8a,#3d4d8a,#3d4d8a,#3e4a89,#3f4788,#414287,#433e85,#453781,#46307e,#482878,#482071,#481a6c,#471164,#460b5e,#450559,#440256,#440154,#440154,#440256,#450559,#460b5e,#471164,#481a6c,#482071,#482878,#472f7d,#453781,#433e85,#414287,#3f4788,#3e4a89,#3d4d8a,#3d4d8a,#3e4c8a,#3e4989,#404688,#424086,#443a83,#463480,#472d7b,#482475,#481d6f,#481668,#470e61,#46085c,#450457,#440154,#440154,#440154,#450457,#46085c,#470e61,#481668,#481c6e,#482475,#472c7a,#46337f,#443a83,#424086,#404588,#3e4989,#3e4c8a,#3d4d8a,#3d4d8a,#3e4a89,#3f4788,#414487,#433e85,#453882,#46307e,#482979,#482173,#481a6c,#471164,#460b5e)"></i>
<i style="left:209px;background:linear-gradient(#440154,#440154,#440154,#450457,#450559,#460a5d,#470d60,#471164,#481668,#481b6d,#481d6f,#482173,#482475,#482677,#482979,#482979,#482979,#482979,#482677,#482576,#482173,#481f70,#481b6d,#481769,#471365,#470e61,#460a5d,#46075a,#450457,#440154,#440154,#440154,#440154,#440256,#450559,#46085c,#470d60,#471164,#481668,#481a6c,#481d6f,#482173,#482475,#482677,#482878,#482979,#482979,#482979,#482878,#482576,#482374,#481f70,#481b6d,#481769,#471365,#470e61,#460a5d,#46075a,#450457,#440154,#440154,#440154,#440154,#440256,#450559,#46085c,#470d60,#471164,#481668,#481a6c,#481d6f,#482173,#482475,#482677,#482878,#482979,#482979,#482979,#482878,#482576,#482374,#481f70,#481c6e,#481769,#471365,#470e61,#460b5e,#46075a,#450457,#440256,#440154,#440154,#440154,#440256,#450559,#46085c,#460b5e,#471063,#481467,#48186a,#481c6e,#482071,#482475,#482677,#482878,#482979,#482979,#482979,#482878,#482576,#482374,#482071,#481c6e,#48186a,#481467,#471063,#460b5e,#46075a,#450457,#440256)"></i>
<i style="left:210px;background:linear-gradient(#440154,#440154,#440154,#450457,#450559,#460a5d,#470d60,#471164,#481668,#481b6d,#481d6f,#482173,#482475,#482677,#482979,#482979,#482979,#482979,#482677,#482576,#482173,#481f70,#481b6d,#481769,#471365,#470e61,#460a5d,#46075a,#450457,#440154,#440154,#440154,#440154,#440256,#450559,#46085c,#470d60,#471164,#481668,#481a6c,#481d6f,#482173,#482475,#482677,#482878,#482979,#482979,#482979,#482878,#482576,#482374,#481f70,#481b6d,#481769,#471365,#470e61,#460a5d,#46075a,#450457,#440154,#440154,#440154,#440154,#440256,#450559,#46085c,#470d60,#471164,#481668,#481a6c,#481d6f,#482173,#482475,#482677,#482878,#482979,#482979,#482979,#482878,#482576,#482374,#481f70,#481c6e,#481769,#471365,#470e61,#460b5e,#46075a,#450457,#440256,#440154,#440154,#440154,#440256,#450559,#46085c,#460b5e,#471063,#481467,#48186a,#481c6e,#482071,#482475,#482677,#482878,#482979,#482979,#482979,#482878,#482576,#482374,#482071,#481c6e,#48186a,#481467,#471063,#460b5e,#46075a,#450457,#440256)"></i>
<i style="left:211px;background:linear-gradient(#440154,#440154,#440154,#440154,#440154,#440154,#440154,#440154,#440154,#440154,#440154,#440154,#440154,#440154,#440154,#440154,#440154,#440154,#440154,#440154,#440154,#440154,#440154,#440154,#440154,#440154,#440154,#440154,#440154,#440154,#440154,#440154,#440154,#440154,#440154,#440154,#440154,#440154,#440154,#440154,#440154,#440154,#440154,#440154,#440154,#440154,#440154,#440154,#440154,#440154,#440154,#440154,#440154,#440154,#440154,#440154,#440154,#440154,#440154,#440154,#440154,#440154,#440154,#440154,#440154,#440154,#440154,#440154,#440154,#440154,#440154,#440154,#440154,#440154,#440154,#440154,#440154,#440154,#440154,#440154,#440154,#440154,#440154,#440154,#440154,#440154,#440154,#440154,#440154,#440154,#440154,#440154,#440154,#440154,#440154,#440154,#440154,#440154,#440154,#440154,#440154,#440154,#440154,#440154,#440154,#440154,#440154,#440154,#440154,#440154,#440154,#440154,#440154,#440154,#440154,#440154,#440154,#440154,#440154,#440154)"></i>
<i style="left:212px;background:linear-gradient(#440154,#440154,#440154,#440154,#440154,#440154,#440154,#440154,#440154,#440154,#440154,#440154,#440154,#440154,#440154,#440154,#440154,#440154,#440154,#440154,#440154,#440154,#440154,#440154,#440154,#440154,#440154,#440154,#440154,#440154,#440154,#440154,#440154,#440154,#440154,#440154,#440154,#440154,#440154,#440154,#440154,#440154,#440154,#440154,#440154,#440154,#440154,#440154,#440154,#440154,#440154,#440154,#440154,#440154,#440154,#440154,#440154,#440154,#440154,#440154,#440154,#440154,#440154,#440154,#440154,#440154,#440154,#440154,#440154,#440154,#440154,#440154,#440154,#440154,#440154,#440154,#440154,#440154,#440154,#440154,#440154,#440154,#440154,#440154,#440154,#440154,#440154,#440154,#440154,#440154,#440154,#440154,#440154,#440154,#440154,#440154,#440154,#440154,#440154,#440154,#440154,#440154,#440154,#440154,#440154,#440154,#440154,#440154,#440154,#440154,#440154,#440154,#440154,#440154,#440154,#440154,#440154,#440154,#440154,#440154)"></i>
<i style="left:213px;background:linear-gradient(#440154,#440154,#440154,#450457,#46075a,#460a5d,#470e61,#471365,#481769,#481b6d,#481f70,#482374,#482576,#482878,#482979,#482979,#482979,#482878,#482677,#482475,#482071,#481c6e,#48186a,#481467,#471063,#460b5e,#46075a,#450457,#440256,#440154,#440154,#440154,#440256,#450559,#46085c,#470d60,#471164,#481668,#481a6c,#481d6f,#482173,#482475,#482677,#482979,#482979,#482979,#482979,#482677,#482576,#482173,#481d6f,#481a6c,#481668,#471164,#470d60,#46085c,#450559,#440256,#440154,#440154,#440154,#440256,#450457,#46075a,#460b5e,#470e61,#481467,#48186a,#481c6e,#482071,#482374,#482677,#482878,#482979,#482979,#482979,#482878,#482576,#482374,#481f70,#481b6d,#481769,#471365,#470e61,#460a5d,#46075a,#450457,#440154,#440154,#440154,#440154,#440256,#450559,#460a5d,#470d60,#471164,#481769,#481b6d,#481f70,#482173,#482576,#482878,#482979,#482979,#482979,#482878,#482677,#482475,#482173,#481d6f,#481a6c,#481467,#471063,#460b5e,#46085c,#450457,#440256,#440154,#440154,#440154)"></i>
<i style="left:214px;background:linear-gradient(#440154,#440154,#440154,#450457,#46075a,#460a5d,#470e61,#471365,#481769,#481b6d,#481f70,#482374,#482576,#482878,#482979,#482979,#482979,#482878,#482677,#482475,#482071,#481c6e,#48186a,#481467,#471063,#460b5e,#46075a,#450457,#440256,#440154,#440154,#440154,#440256,#450559,#46085c,#470d60,#471164,#481668,#481a6c,#481d6f,#482173,#482475,#482677,#482979,#482979,#482979,#482979,#482677,#482576,#482173,#481d6f,#481a6c,#481668,#471164,#470d60,#46085c,#450559,#440256,#440154,#440154,#440154,#440256,#450457,#46075a,#460b5e,#470e61,#481467,#48186a,#481c6e,#482071,#482374,#482677,#482878,#482979,#482979,#482979,#482878,#482576,#482374,#481f70,#481b6d,#481769,#471365,#470e61,#460a5d,#46075a,#450457,#440154,#440154,#440154,#440154,#440256,#450559,#460a5d,#470d60,#471164,#481769,#481b6d,#481f70,#482173,#482576,#482878,#482979,#482979,#482979,#482878,#482677,#482475,#482173,#481d6f,#481a6c,#481467,#471063,#460b5e,#46085c,#450457,#440256,#440154,#440154,#440154)"></i>
<i style="left:215px;background:linear-gradient(#440154,#440154,#440256,#46075a,#470d60,#481467,#481b6d,#482374,#472c7a,#46337f,#443a83,#424086,#404688,#3e4989,#3e4c8a,#3d4d8a,#3e4c8a,#3e4989,#404688,#424086,#443a83,#46337f,#472c7a,#482374,#481b6d,#481467,#470d60,#46075a,#440256,#440154,#440154,#440256,#46075a,#470d60,#471365,#481b6d,#482374,#472c7a,#46337f,#443a83,#424086,#404688,#3e4989,#3e4c8a,#3d4d8a,#3e4c8a,#3e4989,#404688,#424086,#443a83,#46337f,#472c7a,#482475,#481b6d,#481467,#470d60,#46075a,#440256,#440154,#440154,#440256,#46075a,#460b5e,#471365,#481b6d,#482374,#472c7a,#46337f,#443a83,#424086,#404688,#3e4989,#3e4c8a,#3d4d8a,#3e4c8a,#3e4989,#404688,#424186,#443a83,#46337f,#472c7a,#482475,#481b6d,#481467,#470d60,#46075a,#440256,#440154,#440154,#440256,#46075a,#460b5e,#471365,#481b6d,#482374,#472a7a,#46337f,#443a83,#424086,#404688,#3e4989,#3e4c8a,#3d4d8a,#3e4c8a,#3e4989,#404688,#424186,#443a83,#463480,#472c7a,#482475,#481c6e,#481467,#470d60,#46075a,#440256,#440154,#440154,#440256,#450559)"></i>
<i style="left:216px;background:linear-gradient(#440154,#440154,#440256,#46075a,#470d60,#481467,#481b6d,#482374,#472c7a,#46337f,#443a83,#424086,#404688,#3e4989,#3e4c8a,#3d4d8a,#3e4c8a,#3e4989,#404688,#424086,#443a83,#46337f,#472c7a,#482374,#481b6d,#481467,#470d60,#46075a,#440256,#440154,#440154,#440256,#46075a,#470d60,#471365,#481b6d,#482374,#472c7a,#46337f,#443a83,#424086,#404688,#3e4989,#3e4c8a,#3d4d8a,#3e4c8a,#3e4989,#404688,#424086,#443a83,#46337f,#472c7a,#482475,#481b6d,#481467,#470d60,#46075a,#440256,#440154,#440154,#440256,#46075a,#460b5e,#471365,#481b6d,#482374,#472c7a,#46337f,#443a83,#424086,#404688,#3e4989,#3e4c8a,#3d4d8a,#3e4c8a,#3e4989,#404688,#424186,#443a83,#46337f,#472c7a,#482475,#481b6d,#481467,#470d60,#46075a,#440256,#440154,#440154,#440256,#46075a,#460b5e,#471365,#481b6d,#482374,#472a7a,#46337f,#443a83,#424086,#404688,#3e4989,#3e4c8a,#3d4d8a,#3e4c8a,#3e4989,#404688,#424186,#443a83,#463480,#472c7a,#482475,#481c6e,#481467,#470d60,#46075a,#440256,#440154,#440154,#440256,#450559)"></i>
<i style="left:217px;background:linear-gradient(#440154,#440154,#450457,#460a5d,#471365,#481c6e,#482878,#46337f,#423f85,#3e4989,#3a538b,#365c8d,#33628d,#31678e,#306a8e,#306a8e,#30698e,#31668e,#34608d,#38598c,#3c508b,#404688,#443a83,#472f7d,#482475,#481a6c,#471063,#46075a,#440256,#440154,#440154,#450559,#470d60,#481668,#482071,#472c7a,#453781,#414287,#3d4d8a,#39568c,#355e8d,#32648e,#31688e,#306a8e,#306a8e,#31688e,#32648e,#355e8d,#39568c,#3d4d8a,#414287,#453781,#472c7a,#482071,#481668,#470d60,#450559,#440154,#440154,#440256,#46075a,#471063,#481a6c,#482475,#472f7d,#443b84,#404688,#3c508b,#38598c,#34608d,#31668e,#30698e,#306a8e,#306a8e,#31678e,#33628d,#365c8d,#3a538b,#3e4989,#423f85,#46337f,#482878,#481c6e,#471365,#460a5d,#450457,#440154,#440154,#450457,#460a5d,#471365,#481c6e,#482878,#46337f,#423f85,#3e4989,#3a538b,#365c8d,#33628d,#31678e,#306a8e,#2f6b8e,#30698e,#31668e,#34608d,#38598c,#3c508b,#404688,#443b84,#472f7d,#482475,#481a6c,#471063,#46075a,#440256,#440154,#440154,#450559,#470d60,#481668)"></i>
<i style="left:218px;background:linear-gradient(#440154,#440154,#450457,#460a5d,#471365,#481c6e,#482878,#46337f,#423f85,#3e4989,#3a538b,#365c8d,#33628d,#31678e,#306a8e,#306a8e,#30698e,#31668e,#34608d,#38598c,#3c508b,#404688,#443a83,#472f7d,#482475,#481a6c,#471063,#46075a,#440256,#440154,#440154,#450559,#470d60,#481668,#482071,#472c7a,#453781,#414287,#3d4d8a,#39568c,#355e8d,#32648e,#31688e,#306a8e,#306a8e,#31688e,#32648e,#355e8d,#39568c,#3d4d8a,#414287,#453781,#472c7a,#482071,#481668,#470d60,#450559,#440154,#440154,#440256,#46075a,#471063,#481a6c,#482475,#472f7d,#443b84,#404688,#3c508b,#38598c,#34608d,#31668e,#30698e,#306a8e,#306a8e,#31678e,#33628d,#365c8d,#3a538b,#3e4989,#423f85,#46337f,#482878,#481c6e,#471365,#460a5d,#450457,#440154,#440154,#450457,#460a5d,#471365,#481c6e,#482878,#46337f,#423f85,#3e4989,#3a538b,#365c8d,#33628d,#31678e,#306a8e,#2f6b8e,#30698e,#31668e,#34608d,#38598c,#3c508b,#404688,#443b84,#472f7d,#482475,#481a6c,#471063,#46075a,#440256,#440154,#440154,#450559,#470d60,#481668)"></i>
<i style="left:219px;background:linear-gradient(#440154,#440154,#450559,#470d60,#48186a,#482576,#463480,#414287,#3b518b,#355e8d,#306a8e,#2c738e,#297b8e,#26818e,#25838e,#25848e,#26828e,#287d8e,#2a768e,#2e6d8e,#33628d,#39558c,#3f4788,#453882,#482979,#481c6e,#471063,#46075a,#440154,#440154,#440256,#460a5d,#481467,#482173,#472f7d,#433e85,#3d4d8a,#375a8c,#31668e,#2d718e,#29798e,#277f8e,#25838e,#25848e,#26828e,#277f8e,#2a788e,#2d708e,#31668e,#375a8c,#3e4c8a,#433d84,#472e7c,#482071,#481467,#460a5d,#440256,#440154,#440256,#46075a,#471164,#481c6e,#472a7a,#443983,#3f4788,#39558c,#33628d,#2e6e8e,#2a768e,#277e8e,#26828e,#25848e,#25838e,#26818e,#297b8e,#2c738e,#30698e,#355e8d,#3c508b,#414287,#46337f,#482576,#48186a,#470d60,#450559,#440154,#440154,#450559,#470d60,#48186a,#482576,#463480,#414287,#3b518b,#355e8d,#306a8e,#2c738e,#297b8e,#26818e,#25838e,#25848e,#26828e,#287d8e,#2a768e,#2e6d8e,#33628d,#39558c,#3f4788,#453882,#482979,#481c6e,#471063,#46075a,#440154,#440154,#440256,#460a5d,#481467,#482173,#472f7d)"></i>
<i style="left:220px;background:linear-gradient(#440154,#440154,#46075a,#471063,#481d6f,#472e7c,#423f85,#3b518b,#34618d,#2d718e,#277e8e,#23898e,#20928c,#1f998a,#1e9c89,#1e9c89,#1f998a,#20928c,#23898e,#287d8e,#2d708e,#34618d,#3c508b,#423f85,#472d7b,#481d6f,#471063,#450559,#440154,#440154,#46075a,#471063,#481d6f,#472e7c,#423f85,#3b518b,#34618d,#2d718e,#277e8e,#23898e,#20928c,#1f998a,#1e9c89,#1e9c89,#1f998a,#20928c,#23898e,#287d8e,#2d708e,#34618d,#3c508b,#423f85,#472d7b,#481d6f,#471063,#450559,#440154,#440154,#46075a,#471164,#481d6f,#472e7c,#423f85,#3b518b,#34618d,#2d718e,#277e8e,#23898e,#20928c,#1f998a,#1e9c89,#1e9c89,#1f998a,#20928c,#23898e,#287d8e,#2d708e,#34618d,#3c508b,#433e85,#472d7b,#481d6f,#471063,#450559,#440154,#440154,#46075a,#471164,#481d6f,#472e7c,#423f85,#3b518b,#34618d,#2d718e,#277e8e,#23898e,#20928c,#1f998a,#1e9c89,#1e9c89,#1f998a,#20928c,#23898e,#287d8e,#2d708e,#34618d,#3c508b,#433e85,#472d7b,#481d6f,#471063,#450559,#440154,#440154,#46075a,#471164,#481d6f,#472e7c,#423f85,#3b518b)"></i>
<i style="left:221px;background:linear-gradient(#440154,#440154,#46075a,#471063,#481d6f,#472e7c,#423f85,#3b518b,#34618d,#2d718e,#277e8e,#23898e,#20928c,#1f998a,#1e9c89,#1e9c89,#1f998a,#20928c,#23898e,#287d8e,#2d708e,#34618d,#3c508b,#423f85,#472d7b,#481d6f,#471063,#450559,#440154,#440154,#46075a,#471063,#481d6f,#472e7c,#423f85,#3b518b,#34618d,#2d718e,#277e8e,#23898e,#20928c,#1f998a,#1e9c89,#1e9c89,#1f998a,#20928c,#23898e,#287d8e,#2d708e,#34618d,#3c508b,#423f85,#472d7b,#481d6f,#471063,#450559,#440154,#440154,#46075a,#471164,#481d6f,#472e7c,#423f85,#3b518b,#34618d,#2d718e,#277e8e,#23898e,#20928c,#1f998a,#1e9c89,#1e9c89,#1f998a,#20928c,#23898e,#287d8e,#2d708e,#34618d,#3c508b,#433e85,#472d7b,#481d6f,#471063,#450559,#440154,#440154,#46075a,#471164,#481d6f,#472e7c,#423f85,#3b518b,#34618d,#2d718e,#277e8e,#23898e,#20928c,#1f998a,#1e9c89,#1e9c89,#1f998a,#20928c,#23898e,#287d8e,#2d708e,#34618d,#3c508b,#433e85,#472d7b,#481d6f,#471063,#450559,#440154,#440154,#46075a,#471164,#481d6f,#472e7c,#423f85,#3b518b)"></i>
<i style="left:222px;background:linear-gradient(#440154,#440154,#46075a,#481467,#482374,#453581,#3e4989,#355e8d,#2d708e,#26818e,#21918c,#1f9e89,#22a884,#29af7f,#2db27d,#2db27d,#27ad81,#21a585,#1f998a,#228b8d,#297b8e,#306a8e,#39568c,#414287,#472f7d,#481d6f,#470e61,#450457,#440154,#440256,#460b5e,#48186a,#482979,#433d84,#3c508b,#32648e,#2b758e,#24868e,#1f958b,#1fa187,#25ab82,#2cb17e,#2eb37c,#2cb17e,#25ab82,#1fa187,#1f958b,#24868e,#2b758e,#33638d,#3c508b,#443b84,#482979,#48186a,#460b5e,#440256,#440154,#450457,#470e61,#481d6f,#472f7d,#414287,#39568c,#306a8e,#297b8e,#228c8d,#1f9a8a,#21a585,#27ad81,#2db27d,#2db27d,#29af7f,#22a884,#1f9e89,#21918c,#26818e,#2d708e,#365d8d,#3e4989,#453581,#482374,#471365,#46075a,#440154,#440154,#46075a,#471365,#482374,#453581,#3e4989,#365d8d,#2d708e,#26818e,#21918c,#1f9e89,#22a884,#29af7f,#2db27d,#2db27d,#27ad81,#21a585,#1f9a8a,#228c8d,#297b8e,#306a8e,#39568c,#414287,#472f7d,#481d6f,#470e61,#450457,#440154,#440256,#460a5d,#48186a,#482979,#443b84,#3c508b,#33638d,#2b758e)"></i>
<i style="left:223px;background:linear-gradient(#440154,#440154,#46075a,#481467,#482374,#453581,#3e4989,#355e8d,#2d708e,#26818e,#21918c,#1f9e89,#22a884,#29af7f,#2db27d,#2db27d,#27ad81,#21a585,#1f998a,#228b8d,#297b8e,#306a8e,#39568c,#414287,#472f7d,#481d6f,#470e61,#450457,#440154,#440256,#460b5e,#48186a,#482979,#433d84,#3c508b,#32648e,#2b758e,#24868e,#1f958b,#1fa187,#25ab82,#2cb17e,#2eb37c,#2cb17e,#25ab82,#1fa187,#1f958b,#24868e,#2b758e,#33638d,#3c508b,#443b84,#482979,#48186a,#460b5e,#440256,#440154,#450457,#470e61,#481d6f,#472f7d,#414287,#39568c,#306a8e,#297b8e,#228c8d,#1f9a8a,#21a585,#27ad81,#2db27d,#2db27d,#29af7f,#22a884,#1f9e89,#21918c,#26818e,#2d708e,#365d8d,#3e4989,#453581,#482374,#471365,#46075a,#440154,#440154,#46075a,#471365,#482374,#453581,#3e4989,#365d8d,#2d708e,#26818e,#21918c,#1f9e89,#22a884,#29af7f,#2db27d,#2db27d,#27ad81,#21a585,#1f9a8a,#228c8d,#297b8e,#306a8e,#39568c,#414287,#472f7d,#481d6f,#470e61,#450457,#440154,#440256,#460a5d,#48186a,#482979,#443b84,#3c508b,#33638d,#2b758e)"></i>
<i style="left:224px;background:linear-gradient(#440154,#440154,#46085c,#481769,#482878,#433d84,#3a538b,#30698e,#287d8e,#21918c,#1fa287,#2cb17e,#3dbc74,#4cc26c,#52c569,#50c46a,#42be71,#31b57b,#22a785,#1f968b,#25838e,#2d708e,#375b8d,#414487,#472e7c,#481c6e,#470d60,#440256,#440154,#450559,#471164,#482173,#453581,#3e4c8a,#34618d,#2a768e,#238a8d,#1e9c89,#25ac82,#37b878,#48c16e,#52c569,#52c569,#48c16e,#37b878,#26ad81,#1e9d89,#238a8d,#2a768e,#33628d,#3e4c8a,#453781,#482173,#471164,#450559,#440154,#440256,#460b5e,#481b6d,#472e7c,#414487,#375a8c,#2e6f8e,#25838e,#1f968b,#22a785,#31b57b,#42be71,#4ec36b,#52c569,#4cc26c,#3dbc74,#2cb17e,#1fa287,#20928c,#277e8e,#306a8e,#3a548c,#433e85,#482979,#481769,#46085c,#440154,#440154,#46085c,#481668,#482677,#443b84,#3b528b,#31688e,#287c8e,#21908d,#1fa187,#2ab07f,#3bbb75,#4cc26c,#52c569,#50c46a,#44bf70,#32b67a,#22a884,#1f978b,#25848e,#2d718e,#365c8d,#404688,#46307e,#481c6e,#470d60,#440256,#440154,#450457,#471063,#482071,#463480,#3e4a89,#34608d,#2b748e,#23898e,#1e9b8a)"></i>
<i style="left:225px;background:linear-gradient(#440154,#440154,#46085c,#481769,#482878,#433d84,#3a538b,#30698e,#287d8e,#21918c,#1fa287,#2cb17e,#3dbc74,#4cc26c,#52c569,#50c46a,#42be71,#31b57b,#22a785,#1f968b,#25838e,#2d708e,#375b8d,#414487,#472e7c,#481c6e,#470d60,#440256,#440154,#450559,#471164,#482173,#453581,#3e4c8a,#34618d,#2a768e,#238a8d,#1e9c89,#25ac82,#37b878,#48c16e,#52c569,#52c569,#48c16e,#37b878,#26ad81,#1e9d89,#238a8d,#2a768e,#33628d,#3e4c8a,#453781,#482173,#471164,#450559,#440154,#440256,#460b5e,#481b6d,#472e7c,#414487,#375a8c,#2e6f8e,#25838e,#1f968b,#22a785,#31b57b,#42be71,#4ec36b,#52c569,#4cc26c,#3dbc74,#2cb17e,#1fa287,#20928c,#277e8e,#306a8e,#3a548c,#433e85,#482979,#481769,#46085c,#440154,#440154,#46085c,#481668,#482677,#443b84,#3b528b,#31688e,#287c8e,#21908d,#1fa187,#2ab07f,#3bbb75,#4cc26c,#52c569,#50c46a,#44bf70,#32b67a,#22a884,#1f978b,#25848e,#2d718e,#365c8d,#404688,#46307e,#481c6e,#470d60,#440256,#440154,#450457,#471063,#482071,#463480,#3e4a89,#34608d,#2b748e,#23898e,#1e9b8a)"></i>
<i style="left:226px;background:linear-gradient(#440154,#440154,#460a5d,#481a6c,#472d7b,#414487,#365c8d,#2c738e,#23898e,#1f9f88,#2db27d,#48c16e,#63cb5f,#75d054,#7cd250,#77d153,#63cb5f,#48c16e,#2db27d,#1f9f88,#238a8d,#2c738e,#365c8d,#414487,#472d7b,#481a6c,#460a5d,#440154,#440154,#46085c,#48186a,#472c7a,#414287,#375b8d,#2c728e,#23888e,#1f9e89,#2cb17e,#48c16e,#63cb5f,#75d054,#7cd250,#77d153,#65cb5e,#4ac16d,#2eb37c,#1fa088,#228b8d,#2b748e,#365d8d,#404588,#472e7c,#481a6c,#460a5d,#440154,#440154,#46085c,#481769,#472a7a,#424186,#375a8c,#2d718e,#24878e,#1e9d89,#2ab07f,#46c06f,#60ca60,#75d054,#7cd250,#77d153,#65cb5e,#4cc26c,#2fb47c,#1fa188,#228c8d,#2b758e,#355e8d,#404688,#472f7d,#481b6d,#460b5e,#440256,#440154,#46085c,#481769,#472a7a,#424086,#38598c,#2d708e,#24868e,#1e9c89,#29af7f,#44bf70,#60ca60,#75d054,#7cd250,#77d153,#67cc5c,#4cc26c,#31b57b,#1fa187,#228d8d,#2a768e,#355f8d,#3f4788,#472f7d,#481c6e,#460b5e,#440256,#440154,#46075a,#481668,#482979,#424086,#38588c,#2e6f8e,#25858e,#1e9b8a,#28ae80,#42be71)"></i>
<i style="left:227px;background:linear-gradient(#440154,#440154,#460a5d,#481a6c,#472d7b,#414487,#365c8d,#2c738e,#23898e,#1f9f88,#2db27d,#48c16e,#63cb5f,#75d054,#7cd250,#77d153,#63cb5f,#48c16e,#2db27d,#1f9f88,#238a8d,#2c738e,#365c8d,#414487,#472d7b,#481a6c,#460a5d,#440154,#440154,#46085c,#48186a,#472c7a,#414287,#375b8d,#2c728e,#23888e,#1f9e89,#2cb17e,#48c16e,#63cb5f,#75d054,#7cd250,#77d153,#65cb5e,#4ac16d,#2eb37c,#1fa088,#228b8d,#2b748e,#365d8d,#404588,#472e7c,#481a6c,#460a5d,#440154,#440154,#46085c,#481769,#472a7a,#424186,#375a8c,#2d718e,#24878e,#1e9d89,#2ab07f,#46c06f,#60ca60,#75d054,#7cd250,#77d153,#65cb5e,#4cc26c,#2fb47c,#1fa188,#228c8d,#2b758e,#355e8d,#404688,#472f7d,#481b6d,#460b5e,#440256,#440154,#46085c,#481769,#472a7a,#424086,#38598c,#2d708e,#24868e,#1e9c89,#29af7f,#44bf70,#60ca60,#75d054,#7cd250,#77d153,#67cc5c,#4cc26c,#31b57b,#1fa187,#228d8d,#2a768e,#355f8d,#3f4788,#472f7d,#481c6e,#460b5e,#440256,#440154,#46075a,#481668,#482979,#424086,#38588c,#2e6f8e,#25858e,#1e9b8a,#28ae80,#42be71)"></i>
<i style="left:228px;background:linear-gradient(#440154,#440154,#460a5d,#481b6d,#46307e,#3e4989,#33638d,#287c8e,#1f948c,#25ac82,#44bf70,#69cd5b,#8bd646,#a0da39,#a5db36,#9bd93c,#84d44b,#5ec962,#3aba76,#21a585,#228d8d,#2b748e,#365c8d,#414287,#472a7a,#481668,#46075a,#440154,#440256,#470e61,#482071,#453781,#3c508b,#306a8e,#26828e,#1e9b8a,#2cb17e,#4ec36b,#73d056,#93d741,#a2da37,#a5db36,#95d840,#7ad151,#56c667,#31b57b,#1f9f88,#24878e,#2e6f8e,#39558c,#443b84,#482475,#471164,#450457,#440154,#450559,#471365,#482677,#433e85,#38588c,#2d718e,#23898e,#1fa188,#34b679,#58c765,#7cd250,#98d83e,#a5db36,#a2da37,#90d743,#70cf57,#4cc26c,#29af7f,#1f998a,#26818e,#31688e,#3c4f8a,#453581,#481f70,#470d60,#440256,#440154,#46085c,#481769,#472c7a,#414487,#355e8d,#2a768e,#218f8d,#21a685,#3bbb75,#63cb5f,#84d44b,#9dd93b,#a5db36,#a0da39,#89d548,#67cc5c,#40bd72,#24aa83,#20928c,#297a8e,#33628d,#3f4889,#472f7d,#481a6c,#460a5d,#440154,#440154,#460b5e,#481c6e,#46327e,#3e4a89,#32648e,#287d8e,#1f958b,#26ad81,#46c06f,#6ccd5a,#8bd646)"></i>
<i style="left:229px;background:linear-gradient(#440154,#440154,#460a5d,#481b6d,#46307e,#3e4989,#33638d,#287c8e,#1f948c,#25ac82,#44bf70,#69cd5b,#8bd646,#a0da39,#a5db36,#9bd93c,#84d44b,#5ec962,#3aba76,#21a585,#228d8d,#2b748e,#365c8d,#414287,#472a7a,#481668,#46075a,#440154,#440256,#470e61,#482071,#453781,#3c508b,#306a8e,#26828e,#1e9b8a,#2cb17e,#4ec36b,#73d056,#93d741,#a2da37,#a5db36,#95d840,#7ad151,#56c667,#31b57b,#1f9f88,#24878e,#2e6f8e,#39558c,#443b84,#482475,#471164,#450457,#440154,#450559,#471365,#482677,#433e85,#38588c,#2d718e,#23898e,#1fa188,#34b679,#58c765,#7cd250,#98d83e,#a5db36,#a2da37,#90d743,#70cf57,#4cc26c,#29af7f,#1f998a,#26818e,#31688e,#3c4f8a,#453581,#481f70,#470d60,#440256,#440154,#46085c,#481769,#472c7a,#414487,#355e8d,#2a768e,#218f8d,#21a685,#3bbb75,#63cb5f,#84d44b,#9dd93b,#a5db36,#a0da39,#89d548,#67cc5c,#40bd72,#24aa83,#20928c,#297a8e,#33628d,#3f4889,#472f7d,#481a6c,#460a5d,#440154,#440154,#460b5e,#481c6e,#46327e,#3e4a89,#32648e,#287d8e,#1f958b,#26ad81,#46c06f,#6ccd5a,#8bd646)"></i>
<i style="left:230px;background:linear-gradient(#440154,#440154,#460b5e,#481d6f,#463480,#3c4f8a,#306a8e,#25838e,#1f9e89,#32b67a,#5ec962,#8bd646,#b0dd2f,#c5e021,#c8e020,#bade28,#9bd93c,#70cf57,#42be71,#22a884,#218f8d,#2b748e,#375a8c,#423f85,#482677,#471365,#450457,#440154,#450559,#481467,#482979,#414287,#355e8d,#2a788e,#20928c,#25ac82,#4ac16d,#77d153,#a2da37,#bddf26,#c8e020,#c2df23,#aadc32,#84d44b,#58c765,#2eb37c,#1f9a8a,#27808e,#31668e,#3e4a89,#46307e,#481b6d,#460a5d,#440154,#440256,#470d60,#482071,#453882,#3b528b,#2e6d8e,#24878e,#1fa188,#37b878,#63cb5f,#90d743,#b2dd2d,#c5e021,#c8e020,#b8de29,#98d83e,#6ccd5a,#3fbc73,#21a585,#228c8d,#2c718e,#39568c,#443b84,#482475,#471063,#450457,#440154,#46075a,#481769,#472d7b,#404688,#34618d,#297b8e,#1f958b,#28ae80,#50c46a,#7cd250,#a5db36,#c0df25,#c8e020,#c0df25,#a8db34,#7fd34e,#52c569,#2ab07f,#1f978b,#287d8e,#33638d,#3f4889,#472e7c,#48186a,#46085c,#440154,#440256,#470e61,#482374,#443a83,#39558c,#2d708e,#238a8d,#20a386,#3bbb75,#69cd5b,#95d840,#b5de2b,#c8e020)"></i>
<i style="left:231px;background:linear-gradient(#440154,#440154,#460b5e,#481d6f,#463480,#3c4f8a,#306a8e,#25838e,#1f9e89,#32b67a,#5ec962,#8bd646,#b0dd2f,#c5e021,#c8e020,#bade28,#9bd93c,#70cf57,#42be71,#22a884,#218f8d,#2b748e,#375a8c,#423f85,#482677,#471365,#450457,#440154,#450559,#481467,#482979,#414287,#355e8d,#2a788e,#20928c,#25ac82,#4ac16d,#77d153,#a2da37,#bddf26,#c8e020,#c2df23,#aadc32,#84d44b,#58c765,#2eb37c,#1f9a8a,#27808e,#31668e,#3e4a89,#46307e,#481b6d,#460a5d,#440154,#440256,#470d60,#482071,#453882,#3b528b,#2e6d8e,#24878e,#1fa188,#37b878,#63cb5f,#90d743,#b2dd2d,#c5e021,#c8e020,#b8de29,#98d83e,#6ccd5a,#3fbc73,#21a585,#228c8d,#2c718e,#39568c,#443b84,#482475,#471063,#450457,#440154,#46075a,#481769,#472d7b,#404688,#34618d,#297b8e,#1f958b,#28ae80,#50c46a,#7cd250,#a5db36,#c0df25,#c8e020,#c0df25,#a8db34,#7fd34e,#52c569,#2ab07f,#1f978b,#287d8e,#33638d,#3f4889,#472e7c,#48186a,#46085c,#440154,#440256,#470e61,#482374,#443a83,#39558c,#2d708e,#238a8d,#20a386,#3bbb75,#69cd5b,#95d840,#b5de2b,#c8e020)"></i>
<i style="left:232px;background:linear-gradient(#440154,#440154,#470d60,#481f70,#453882,#3a538b,#2e6f8e,#238a8d,#21a585,#42be71,#75d054,#a8db34,#cde11d,#dfe318,#e2e418,#d0e11c,#addc30,#7cd250,#48c16e,#23a983,#218e8d,#2c728e,#39568c,#443a83,#482173,#470e61,#440256,#440154,#460a5d,#481c6e,#46337f,#3c4f8a,#2f6b8e,#24868e,#1fa187,#3bbb75,#6ece58,#a0da39,#c8e020,#dfe318,#e2e418,#d2e21b,#b2dd2d,#84d44b,#50c46a,#26ad81,#20928c,#2a768e,#375b8d,#423f85,#482576,#471164,#450457,#440154,#46085c,#48186a,#472f7d,#3e4a89,#31678e,#26828e,#1f9e89,#35b779,#65cb5e,#98d83e,#c2df23,#dde318,#e2e418,#d8e219,#bade28,#8bd646,#58c765,#2ab07f,#1f968b,#297a8e,#355f8d,#414287,#482979,#481467,#450559,#440154,#450559,#481668,#472c7a,#404688,#33628d,#277e8e,#1f998a,#2fb47c,#5ec962,#93d741,#bddf26,#dae319,#e2e418,#dae319,#c0df25,#93d741,#5ec962,#31b57b,#1f9a8a,#277f8e,#33638d,#3f4788,#472d7b,#481769,#46075a,#440154,#450457,#471365,#482878,#414287,#355e8d,#29798e,#1f958b,#29af7f,#56c667,#89d548,#b8de29,#d5e21a,#e2e418,#dde318)"></i>
<i style="left:233px;background:linear-gradient(#440154,#440154,#470d60,#482071,#443a83,#39568c,#2c728e,#21908d,#25ac82,#50c46a,#89d548,#bddf26,#dfe318,#f1e51d,#efe51c,#dde318,#b5de2b,#7fd34e,#48c16e,#22a785,#228b8d,#2e6e8e,#3b518b,#453581,#481c6e,#460a5d,#440154,#440256,#470e61,#482475,#433e85,#375a8c,#2a768e,#20938c,#29af7f,#58c765,#90d743,#c2df23,#e5e419,#f1e51d,#efe51c,#d8e219,#addc30,#77d153,#40bd72,#20a386,#24878e,#2f6b8e,#3d4e8a,#46327e,#481a6c,#46085c,#440154,#450457,#471164,#482677,#424186,#355e8d,#297a8e,#1f978b,#2eb37c,#5ec962,#98d83e,#c8e020,#e7e419,#f4e61e,#ece51b,#d2e21b,#a8db34,#70cf57,#3aba76,#1fa088,#25838e,#31678e,#3e4989,#472e7c,#481769,#46075a,#440154,#450559,#481467,#472a7a,#404588,#33628d,#277e8e,#1e9b8a,#32b67a,#65cb5e,#9dd93b,#cde11d,#eae51a,#f4e61e,#eae51a,#cde11d,#a0da39,#67cc5c,#35b779,#1e9c89,#27808e,#33638d,#404688,#472a7a,#481467,#450559,#440154,#46075a,#481769,#472d7b,#3f4889,#31668e,#26828e,#1f9f88,#38b977,#6ece58,#a5db36,#d2e21b,#ece51b,#f4e61e,#e7e419,#cae11f)"></i>
<i style="left:234px;background:linear-gradient(#440154,#440154,#470d60,#482071,#443a83,#39568c,#2c728e,#21908d,#25ac82,#50c46a,#89d548,#bddf26,#dfe318,#f1e51d,#efe51c,#dde318,#b5de2b,#7fd34e,#48c16e,#22a785,#228b8d,#2e6e8e,#3b518b,#453581,#481c6e,#460a5d,#440154,#440256,#470e61,#482475,#433e85,#375a8c,#2a768e,#20938c,#29af7f,#58c765,#90d743,#c2df23,#e5e419,#f1e51d,#efe51c,#d8e219,#addc30,#77d153,#40bd72,#20a386,#24878e,#2f6b8e,#3d4e8a,#46327e,#481a6c,#46085c,#440154,#450457,#471164,#482677,#424186,#355e8d,#297a8e,#1f978b,#2eb37c,#5ec962,#98d83e,#c8e020,#e7e419,#f4e61e,#ece51b,#d2e21b,#a8db34,#70cf57,#3aba76,#1fa088,#25838e,#31678e,#3e4989,#472e7c,#481769,#46075a,#440154,#450559,#481467,#472a7a,#404588,#33628d,#277e8e,#1e9b8a,#32b67a,#65cb5e,#9dd93b,#cde11d,#eae51a,#f4e61e,#eae51a,#cde11d,#a0da39,#67cc5c,#35b779,#1e9c89,#27808e,#33638d,#404688,#472a7a,#481467,#450559,#440154,#46075a,#481769,#472d7b,#3f4889,#31668e,#26828e,#1f9f88,#38b977,#6ece58,#a5db36,#d2e21b,#ece51b,#f4e61e,#e7e419,#cae11f)"></i>
<i style="left:235px;background:linear-gradient(#440154,#440256,#470d60,#482173,#443b84,#38598c,#2b758e,#20928c,#29af7f,#5ac864,#95d840,#c8e020,#eae51a,#f8e621,#f6e620,#dde318,#b2dd2d,#7ad151,#40bd72,#1fa287,#25858e,#30698e,#3e4c8a,#472f7d,#48186a,#46075a,#440154,#450559,#481467,#472c7a,#3f4788,#32658e,#26828e,#1f9f88,#3aba76,#73d056,#aadc32,#dae319,#f4e61e,#fbe723,#efe51c,#d0e11c,#9dd93b,#63cb5f,#2eb37c,#1f978b,#297a8e,#365d8d,#423f85,#482576,#471063,#440256,#440154,#460a5d,#481d6f,#453781,#3a538b,#2d718e,#218e8d,#25ab82,#50c46a,#8bd646,#c0df25,#e7e419,#f8e621,#f8e621,#e5e419,#bddf26,#86d549,#4ac16d,#22a884,#228b8d,#2e6e8e,#3b518b,#463480,#481b6d,#46085c,#440154,#450457,#471164,#482677,#414287,#355f8d,#287c8e,#1f998a,#32b67a,#67cc5c,#a2da37,#d2e21b,#efe51c,#fbe723,#f1e51d,#d5e21a,#a8db34,#6ccd5a,#37b878,#1e9c89,#277f8e,#33628d,#404588,#482979,#471365,#450457,#440154,#46085c,#481a6c,#46327e,#3d4e8a,#2f6b8e,#23888e,#21a585,#46c06f,#7fd34e,#b8de29,#dfe318,#f6e620,#f8e621,#eae51a,#c5e021,#90d743)"></i>
<i style="left:236px;background:linear-gradient(#440154,#440256,#470d60,#482173,#443b84,#38598c,#2b758e,#20928c,#29af7f,#5ac864,#95d840,#c8e020,#eae51a,#f8e621,#f6e620,#dde318,#b2dd2d,#7ad151,#40bd72,#1fa287,#25858e,#30698e,#3e4c8a,#472f7d,#48186a,#46075a,#440154,#450559,#481467,#472c7a,#3f4788,#32658e,#26828e,#1f9f88,#3aba76,#73d056,#aadc32,#dae319,#f4e61e,#fbe723,#efe51c,#d0e11c,#9dd93b,#63cb5f,#2eb37c,#1f978b,#297a8e,#365d8d,#423f85,#482576,#471063,#440256,#440154,#460a5d,#481d6f,#453781,#3a538b,#2d718e,#218e8d,#25ab82,#50c46a,#8bd646,#c0df25,#e7e419,#f8e621,#f8e621,#e5e419,#bddf26,#86d549,#4ac16d,#22a884,#228b8d,#2e6e8e,#3b518b,#463480,#481b6d,#46085c,#440154,#450457,#471164,#482677,#414287,#355f8d,#287c8e,#1f998a,#32b67a,#67cc5c,#a2da37,#d2e21b,#efe51c,#fbe723,#f1e51d,#d5e21a,#a8db34,#6ccd5a,#37b878,#1e9c89,#277f8e,#33628d,#404588,#482979,#471365,#450457,#440154,#46085c,#481a6c,#46327e,#3d4e8a,#2f6b8e,#23888e,#21a585,#46c06f,#7fd34e,#b8de29,#dfe318,#f6e620,#f8e621,#eae51a,#c5e021,#90d743)"></i>
<i style="left:237px;background:linear-gradient(#440154,#440256,#470d60,#482173,#433d84,#375a8c,#2a778e,#1f948c,#2cb17e,#5ec962,#98d83e,#cde11d,#ece51b,#f8e621,#f1e51d,#d8e219,#a8db34,#6ece58,#37b878,#1e9d89,#27808e,#33628d,#404588,#482979,#471365,#450457,#440154,#46085c,#481b6d,#46337f,#3c508b,#2e6e8e,#228b8d,#22a884,#4cc26c,#86d549,#bddf26,#e5e419,#f6e620,#f6e620,#e2e418,#bade28,#81d34d,#48c16e,#21a685,#23898e,#2f6c8e,#3d4e8a,#46327e,#481a6c,#46075a,#440154,#450559,#481467,#472c7a,#3f4788,#32658e,#26828e,#1fa088,#3bbb75,#73d056,#addc30,#dae319,#f4e61e,#f8e621,#eae51a,#c8e020,#95d840,#5ac864,#29af7f,#20928c,#2b748e,#38588c,#443a83,#482071,#460b5e,#440154,#440256,#470e61,#482374,#433e85,#375b8d,#2a788e,#1f968b,#2eb37c,#60ca60,#9bd93c,#cde11d,#ece51b,#f8e621,#f1e51d,#d5e21a,#a5db36,#6ccd5a,#35b779,#1e9c89,#277e8e,#34618d,#414487,#482878,#471164,#450457,#440154,#460a5d,#481c6e,#463480,#3b528b,#2d708e,#228d8d,#24aa83,#4ec36b,#89d548,#c0df25,#e5e419,#f6e620,#f6e620,#dfe318,#b8de29,#7fd34e,#44bf70)"></i>
<i style="left:238px;background:linear-gradient(#440154,#440256,#470d60,#482173,#433d84,#375a8c,#2a778e,#1f948c,#2cb17e,#5ec962,#98d83e,#cde11d,#ece51b,#f8e621,#f1e51d,#d8e219,#a8db34,#6ece58,#37b878,#1e9d89,#27808e,#33628d,#404588,#482979,#471365,#450457,#440154,#46085c,#481b6d,#46337f,#3c508b,#2e6e8e,#228b8d,#22a884,#4cc26c,#86d549,#bddf26,#e5e419,#f6e620,#f6e620,#e2e418,#bade28,#81d34d,#48c16e,#21a685,#23898e,#2f6c8e,#3d4e8a,#46327e,#481a6c,#46075a,#440154,#450559,#481467,#472c7a,#3f4788,#32658e,#26828e,#1fa088,#3bbb75,#73d056,#addc30,#dae319,#f4e61e,#f8e621,#eae51a,#c8e020,#95d840,#5ac864,#29af7f,#20928c,#2b748e,#38588c,#443a83,#482071,#460b5e,#440154,#440256,#470e61,#482374,#433e85,#375b8d,#2a788e,#1f968b,#2eb37c,#60ca60,#9bd93c,#cde11d,#ece51b,#f8e621,#f1e51d,#d5e21a,#a5db36,#6ccd5a,#35b779,#1e9c89,#277e8e,#34618d,#414487,#482878,#471164,#450457,#440154,#460a5d,#481c6e,#463480,#3b528b,#2d708e,#228d8d,#24aa83,#4ec36b,#89d548,#c0df25,#e5e419,#f6e620,#f6e620,#dfe318,#b8de29,#7fd34e,#44bf70)"></i>
<i style="left:239px;background:linear-gradient(#440154,#440256,#470d60,#482374,#433d84,#375a8c,#2a778e,#1f948c,#2cb17e,#5cc863,#95d840,#c5e021,#e5e419,#efe51c,#e5e419,#c8e020,#95d840,#5cc863,#2cb17e,#1f958b,#2a788e,#375b8d,#433d84,#482374,#470e61,#440256,#440154,#470d60,#482173,#443b84,#38598c,#2b758e,#20938c,#29af7f,#5ac864,#93d741,#c5e021,#e5e419,#efe51c,#e5e419,#c8e020,#9bd93c,#60ca60,#2eb37c,#1f968b,#29798e,#365c8d,#423f85,#482475,#470e61,#440256,#440154,#460b5e,#482071,#443a83,#39568c,#2b748e,#20928c,#28ae80,#56c667,#90d743,#c2df23,#e2e418,#efe51c,#e7e419,#cae11f,#9dd93b,#63cb5f,#2fb47c,#1f988b,#297b8e,#355e8d,#424086,#482576,#471063,#440256,#440154,#460b5e,#481f70,#453882,#39558c,#2c728e,#21908d,#26ad81,#54c568,#8ed645,#c0df25,#e2e418,#efe51c,#e7e419,#cde11d,#a0da39,#65cb5e,#32b67a,#1f998a,#287c8e,#355f8d,#424186,#482677,#471164,#440256,#440154,#460a5d,#481d6f,#453781,#3a548c,#2c718e,#218f8d,#25ac82,#52c569,#8bd646,#bddf26,#dfe318,#efe51c,#eae51a,#d0e11c,#a2da37,#69cd5b,#34b679,#1e9b8a)"></i>
<i style="left:240px;background:linear-gradient(#440154,#440256,#470d60,#482374,#433d84,#375a8c,#2a778e,#1f948c,#2cb17e,#5cc863,#95d840,#c5e021,#e5e419,#efe51c,#e5e419,#c8e020,#95d840,#5cc863,#2cb17e,#1f958b,#2a788e,#375b8d,#433d84,#482374,#470e61,#440256,#440154,#470d60,#482173,#443b84,#38598c,#2b758e,#20938c,#29af7f,#5ac864,#93d741,#c5e021,#e5e419,#efe51c,#e5e419,#c8e020,#9bd93c,#60ca60,#2eb37c,#1f968b,#29798e,#365c8d,#423f85,#482475,#470e61,#440256,#440154,#460b5e,#482071,#443a83,#39568c,#2b748e,#20928c,#28ae80,#56c667,#90d743,#c2df23,#e2e418,#efe51c,#e7e419,#cae11f,#9dd93b,#63cb5f,#2fb47c,#1f988b,#297b8e,#355e8d,#424086,#482576,#471063,#440256,#440154,#460b5e,#481f70,#453882,#39558c,#2c728e,#21908d,#26ad81,#54c568,#8ed645,#c0df25,#e2e418,#efe51c,#e7e419,#cde11d,#a0da39,#65cb5e,#32b67a,#1f998a,#287c8e,#355f8d,#424186,#482677,#471164,#440256,#440154,#460a5d,#481d6f,#453781,#3a548c,#2c718e,#218f8d,#25ac82,#52c569,#8bd646,#bddf26,#dfe318,#efe51c,#eae51a,#d0e11c,#a2da37,#69cd5b,#34b679,#1e9b8a)"></i>
<i style="left:241px;background:linear-gradient(#440154,#440256,#470d60,#482173,#443b84,#375a8c,#2a768e,#20928c,#28ae80,#56c667,#8bd646,#b8de29,#d2e21b,#dae319,#d0e11c,#addc30,#7cd250,#48c16e,#22a884,#228c8d,#2e6f8e,#3b528b,#453581,#481c6e,#460a5d,#440154,#450457,#471164,#482677,#414287,#355f8d,#287c8e,#1f998a,#2fb47c,#60ca60,#95d840,#c0df25,#d8e219,#dae319,#cae11f,#a5db36,#73d056,#3fbc73,#1fa287,#25858e,#30698e,#3e4c8a,#472f7d,#48186a,#46075a,#440154,#450559,#481668,#472c7a,#3f4889,#32658e,#26828e,#1f9f88,#38b977,#6ccd5a,#a0da39,#c5e021,#dae319,#d8e219,#c2df23,#9bd93c,#67cc5c,#35b779,#1e9c89,#27808e,#33638d,#404688,#472a7a,#481467,#450457,#440154,#46085c,#481a6c,#46327e,#3d4e8a,#2f6c8e,#23888e,#20a486,#42be71,#77d153,#a8db34,#cae11f,#dae319,#d5e21a,#bddf26,#90d743,#5cc863,#2db27d,#1f968b,#297a8e,#365d8d,#424086,#482576,#471063,#440256,#440154,#460b5e,#481d6f,#453882,#3a548c,#2c718e,#218e8d,#24aa83,#4cc26c,#81d34d,#b2dd2d,#d0e11c,#dae319,#d2e21b,#b5de2b,#86d549,#50c46a,#26ad81,#21918c,#2c738e)"></i>
<i style="left:242px;background:linear-gradient(#440154,#440256,#470d60,#482173,#443b84,#375a8c,#2a768e,#20928c,#28ae80,#56c667,#8bd646,#b8de29,#d2e21b,#dae319,#d0e11c,#addc30,#7cd250,#48c16e,#22a884,#228c8d,#2e6f8e,#3b528b,#453581,#481c6e,#460a5d,#440154,#450457,#471164,#482677,#414287,#355f8d,#287c8e,#1f998a,#2fb47c,#60ca60,#95d840,#c0df25,#d8e219,#dae319,#cae11f,#a5db36,#73d056,#3fbc73,#1fa287,#25858e,#30698e,#3e4c8a,#472f7d,#48186a,#46075a,#440154,#450559,#481668,#472c7a,#3f4889,#32658e,#26828e,#1f9f88,#38b977,#6ccd5a,#a0da39,#c5e021,#dae319,#d8e219,#c2df23,#9bd93c,#67cc5c,#35b779,#1e9c89,#27808e,#33638d,#404688,#472a7a,#481467,#450457,#440154,#46085c,#481a6c,#46327e,#3d4e8a,#2f6c8e,#23888e,#20a486,#42be71,#77d153,#a8db34,#cae11f,#dae319,#d5e21a,#bddf26,#90d743,#5cc863,#2db27d,#1f968b,#297a8e,#365d8d,#424086,#482576,#471063,#440256,#440154,#460b5e,#481d6f,#453882,#3a548c,#2c718e,#218e8d,#24aa83,#4cc26c,#81d34d,#b2dd2d,#d0e11c,#dae319,#d2e21b,#b5de2b,#86d549,#50c46a,#26ad81,#21918c,#2c738e)"></i>
<i style="left:243px;background:linear-gradient(#440154,#440256,#470d60,#482173,#443a83,#38588c,#2c738e,#218f8d,#24aa83,#48c16e,#77d153,#a0da39,#b8de29,#bddf26,#b0dd2f,#8ed645,#60ca60,#34b679,#1e9d89,#26828e,#32658e,#3f4889,#472d7b,#481769,#450559,#440154,#450559,#481668,#472d7b,#3f4889,#32648e,#26818e,#1e9c89,#32b67a,#5ec962,#8bd646,#addc30,#bddf26,#bade28,#a0da39,#7ad151,#4ac16d,#25ab82,#21908d,#2b748e,#38588c,#443b84,#482173,#470d60,#440256,#440154,#460b5e,#481f70,#443983,#39558c,#2c718e,#228d8d,#22a884,#46c06f,#75d054,#9dd93b,#b8de29,#bddf26,#b0dd2f,#90d743,#63cb5f,#35b779,#1f9f88,#25838e,#31678e,#3e4a89,#472f7d,#48186a,#46075a,#440154,#450559,#481467,#472a7a,#404688,#33628d,#277e8e,#1f9a8a,#2fb47c,#5ac864,#89d548,#addc30,#bddf26,#bade28,#a2da37,#7cd250,#4ec36b,#26ad81,#20928c,#2a768e,#375a8c,#433e85,#482475,#470e61,#440256,#440154,#460b5e,#481d6f,#453781,#3a538b,#2d708e,#228b8d,#21a685,#42be71,#70cf57,#9bd93c,#b5de2b,#bddf26,#b2dd2d,#93d741,#67cc5c,#38b977,#1fa188,#25858e,#30698e,#3d4d8a)"></i>
<i style="left:244px;background:linear-gradient(#440154,#440154,#470d60,#482071,#453882,#3a548c,#2e6f8e,#23898e,#20a386,#38b977,#5ec962,#81d34d,#95d840,#98d83e,#89d548,#67cc5c,#42be71,#23a983,#21908d,#2b758e,#375b8d,#423f85,#482576,#471164,#450457,#440154,#46085c,#481a6c,#46307e,#3e4c8a,#31688e,#26828e,#1e9c89,#2eb37c,#54c568,#77d153,#90d743,#98d83e,#8ed645,#73d056,#4cc26c,#29af7f,#1f978b,#287d8e,#33638d,#3f4788,#472d7b,#481668,#450559,#440154,#450559,#481467,#472a7a,#414487,#34608d,#297b8e,#1f948c,#27ad81,#48c16e,#6ece58,#8bd646,#98d83e,#93d741,#7cd250,#58c765,#32b67a,#1f9f88,#25848e,#306a8e,#3c4f8a,#46337f,#481c6e,#460a5d,#440154,#440256,#470e61,#482374,#433d84,#38588c,#2c738e,#218e8d,#21a685,#3dbc74,#65cb5e,#86d549,#98d83e,#95d840,#84d44b,#63cb5f,#3bbb75,#21a585,#228c8d,#2c718e,#39568c,#443b84,#482173,#470e61,#440256,#440154,#460a5d,#481c6e,#463480,#3c508b,#2f6c8e,#24868e,#1fa088,#34b679,#5ac864,#7cd250,#93d741,#98d83e,#8bd646,#6ece58,#46c06f,#25ac82,#20938c,#29798e,#355f8d,#414287,#482979)"></i>
<i style="left:245px;background:linear-gradient(#440154,#440154,#470d60,#482071,#453882,#3a548c,#2e6f8e,#23898e,#20a386,#38b977,#5ec962,#81d34d,#95d840,#98d83e,#89d548,#67cc5c,#42be71,#23a983,#21908d,#2b758e,#375b8d,#423f85,#482576,#471164,#450457,#440154,#46085c,#481a6c,#46307e,#3e4c8a,#31688e,#26828e,#1e9c89,#2eb37c,#54c568,#77d153,#90d743,#98d83e,#8ed645,#73d056,#4cc26c,#29af7f,#1f978b,#287d8e,#33638d,#3f4788,#472d7b,#481668,#450559,#440154,#450559,#481467,#472a7a,#414487,#34608d,#297b8e,#1f948c,#27ad81,#48c16e,#6ece58,#8bd646,#98d83e,#93d741,#7cd250,#58c765,#32b67a,#1f9f88,#25848e,#306a8e,#3c4f8a,#46337f,#481c6e,#460a5d,#440154,#440256,#470e61,#482374,#433d84,#38588c,#2c738e,#218e8d,#21a685,#3dbc74,#65cb5e,#86d549,#98d83e,#95d840,#84d44b,#63cb5f,#3bbb75,#21a585,#228c8d,#2c718e,#39568c,#443b84,#482173,#470e61,#440256,#440154,#460a5d,#481c6e,#463480,#3c508b,#2f6c8e,#24868e,#1fa088,#34b679,#5ac864,#7cd250,#93d741,#98d83e,#8bd646,#6ece58,#46c06f,#25ac82,#20938c,#29798e,#355f8d,#414287,#482979)"></i>
<i style="left:246px;background:linear-gradient(#440154,#440154,#460b5e,#481d6f,#453581,#3c4f8a,#306a8e,#26828e,#1f9a8a,#28ae80,#44bf70,#5ec962,#6ccd5a,#6ccd5a,#5ec962,#44bf70,#28ae80,#1f9a8a,#26828e,#306a8e,#3c4f8a,#453581,#481d6f,#460b5e,#440154,#440154,#460b5e,#481d6f,#463480,#3d4e8a,#30698e,#26828e,#1f998a,#27ad81,#42be71,#5cc863,#6ccd5a,#6ece58,#5ec962,#44bf70,#29af7f,#1e9b8a,#25838e,#2f6b8e,#3c508b,#453781,#481f70,#470d60,#440256,#440154,#460a5d,#481c6e,#46337f,#3d4e8a,#31688e,#26818e,#1f988b,#27ad81,#40bd72,#5cc863,#6ccd5a,#6ece58,#5ec962,#46c06f,#2ab07f,#1e9c89,#25848e,#2f6c8e,#3b518b,#453882,#482071,#470d60,#440256,#440154,#460a5d,#481c6e,#46327e,#3d4d8a,#31678e,#27808e,#1f978b,#26ad81,#40bd72,#5ac864,#6ccd5a,#6ece58,#60ca60,#48c16e,#2cb17e,#1e9d89,#25858e,#2e6d8e,#3b528b,#453882,#482071,#470e61,#440256,#440154,#460a5d,#481b6d,#46327e,#3e4c8a,#31668e,#277f8e,#1f968b,#25ac82,#3fbc73,#5ac864,#6ccd5a,#6ece58,#60ca60,#48c16e,#2db27d,#1f9e89,#24868e,#2e6e8e,#3a538b,#443983,#482173,#470e61)"></i>
<i style="left:247px;background:linear-gradient(#440154,#440154,#460b5e,#481d6f,#453581,#3c4f8a,#306a8e,#26828e,#1f9a8a,#28ae80,#44bf70,#5ec962,#6ccd5a,#6ccd5a,#5ec962,#44bf70,#28ae80,#1f9a8a,#26828e,#306a8e,#3c4f8a,#453581,#481d6f,#460b5e,#440154,#440154,#460b5e,#481d6f,#463480,#3d4e8a,#30698e,#26828e,#1f998a,#27ad81,#42be71,#5cc863,#6ccd5a,#6ece58,#5ec962,#44bf70,#29af7f,#1e9b8a,#25838e,#2f6b8e,#3c508b,#453781,#481f70,#470d60,#440256,#440154,#460a5d,#481c6e,#46337f,#3d4e8a,#31688e,#26818e,#1f988b,#27ad81,#40bd72,#5cc863,#6ccd5a,#6ece58,#5ec962,#46c06f,#2ab07f,#1e9c89,#25848e,#2f6c8e,#3b518b,#453882,#482071,#470d60,#440256,#440154,#460a5d,#481c6e,#46327e,#3d4d8a,#31678e,#27808e,#1f978b,#26ad81,#40bd72,#5ac864,#6ccd5a,#6ece58,#60ca60,#48c16e,#2cb17e,#1e9d89,#25858e,#2e6d8e,#3b528b,#453882,#482071,#470e61,#440256,#440154,#460a5d,#481b6d,#46327e,#3e4c8a,#31668e,#277f8e,#1f968b,#25ac82,#3fbc73,#5ac864,#6ccd5a,#6ece58,#60ca60,#48c16e,#2db27d,#1f9e89,#24868e,#2e6e8e,#3a538b,#443983,#482173,#470e61)"></i>
<i style="left:248px;background:linear-gradient(#440154,#440154,#460b5e,#481d6f,#453581,#3c4f8a,#306a8e,#26828e,#1f9a8a,#28ae80,#44bf70,#5ec962,#6ccd5a,#6ccd5a,#5ec962,#44bf70,#28ae80,#1f9a8a,#26828e,#306a8e,#3c4f8a,#453581,#481d6f,#460b5e,#440154,#440154,#460b5e,#481d6f,#463480,#3d4e8a,#30698e,#26828e,#1f998a,#27ad81,#42be71,#5cc863,#6ccd5a,#6ece58,#5ec962,#44bf70,#29af7f,#1e9b8a,#25838e,#2f6b8e,#3c508b,#453781,#481f70,#470d60,#440256,#440154,#460a5d,#481c6e,#46337f,#3d4e8a,#31688e,#26818e,#1f988b,#27ad81,#40bd72,#5cc863,#6ccd5a,#6ece58,#5ec962,#46c06f,#2ab07f,#1e9c89,#25848e,#2f6c8e,#3b518b,#453882,#482071,#470d60,#440256,#440154,#460a5d,#481c6e,#46327e,#3d4d8a,#31678e,#27808e,#1f978b,#26ad81,#40bd72,#5ac864,#6ccd5a,#6ece58,#60ca60,#48c16e,#2cb17e,#1e9d89,#25858e,#2e6d8e,#3b528b,#453882,#482071,#470e61,#440256,#440154,#460a5d,#481b6d,#46327e,#3e4c8a,#31668e,#277f8e,#1f968b,#25ac82,#3fbc73,#5ac864,#6ccd5a,#6ece58,#60ca60,#48c16e,#2db27d,#1f9e89,#24868e,#2e6e8e,#3a538b,#443983,#482173,#470e61)"></i>
</div>
<div id="cbar"></div>
<svg width="759" height="335" viewBox="0 0 759 335" style="position:absolute;left:0;top:0;will-change:transform" font-family="Liberation Sans, sans-serif">
<rect x="81.80" y="2.80" width="2.70" height="4.70" fill="#c9bfd0"/>
<rect x="81.80" y="272.15" width="2.70" height="4.70" fill="#c9bfd0"/>
<text x="83.15" y="299.7" font-size="17.5" text-anchor="middle">1</text>
<rect x="155.52" y="2.80" width="2.70" height="4.70" fill="#c9bfd0"/>
<rect x="155.52" y="272.15" width="2.70" height="4.70" fill="#c9bfd0"/>
<text x="156.87" y="299.7" font-size="17.5" text-anchor="middle">5</text>
<rect x="229.24" y="2.80" width="2.70" height="4.70" fill="#c9bfd0"/>
<rect x="229.24" y="272.15" width="2.70" height="4.70" fill="#c9bfd0"/>
<text x="230.59" y="299.7" font-size="17.5" text-anchor="middle">9</text>
<rect x="65.40" y="19.26" width="4.70" height="2.70" fill="#c9bfd0"/>
<rect x="242.05" y="19.26" width="4.70" height="2.70" fill="#c9bfd0"/>
<text x="55.8" y="27.21" font-size="17.5" text-anchor="end">10</text>
<rect x="65.40" y="93.19" width="4.70" height="2.70" fill="#c9bfd0"/>
<rect x="242.05" y="93.19" width="4.70" height="2.70" fill="#c9bfd0"/>
<text x="55.8" y="101.14" font-size="17.5" text-anchor="end">50</text>
<rect x="65.40" y="167.12" width="4.70" height="2.70" fill="#c9bfd0"/>
<rect x="242.05" y="167.12" width="4.70" height="2.70" fill="#c9bfd0"/>
<text x="55.8" y="175.07" font-size="17.5" text-anchor="end">90</text>
<rect x="65.40" y="241.06" width="4.70" height="2.70" fill="#c9bfd0"/>
<rect x="242.05" y="241.06" width="4.70" height="2.70" fill="#c9bfd0"/>
<text x="55.8" y="249.01" font-size="17.5" text-anchor="end">130</text>
<g fill="#000"><rect x="62.30" y="-0.40" width="3.10" height="280.45"/><rect x="246.75" y="-0.40" width="3.20" height="280.45"/><rect x="62.30" y="-0.40" width="187.65" height="3.20"/><rect x="62.30" y="276.85" width="187.65" height="3.20"/></g>
<text x="71.7" y="23.9" font-size="18.4" fill="#c9bfd0">(a)</text>
<text x="156.1" y="331.4" font-size="18.0" text-anchor="middle">Wavelength (Å)</text>
<text transform="translate(15.6,222.1) rotate(-90)" font-size="18">G<tspan font-size="8.5" dx="-1.0" dy="2.4">1</tspan><tspan font-size="18.7" dy="-2.4" dx="-1.0"> groove depth (µm)</tspan></text>
<g fill="#000"><rect x="261.95" y="-0.40" width="3.40" height="280.45"/><rect x="275.85" y="-0.40" width="3.20" height="280.45"/><rect x="261.95" y="-0.40" width="17.10" height="3.20"/><rect x="261.95" y="276.85" width="17.10" height="3.20"/></g>
<rect x="279.05" y="276.95" width="4.30" height="3.00" fill="#000"/>
<text x="291.9" y="285.25" font-size="17.5">0.0</text>
<rect x="279.05" y="198.25" width="4.30" height="3.00" fill="#000"/>
<text x="291.9" y="206.55" font-size="17.5">0.2</text>
<rect x="279.05" y="119.55" width="4.30" height="3.00" fill="#000"/>
<text x="291.9" y="127.85" font-size="17.5">0.4</text>
<rect x="279.05" y="40.85" width="4.30" height="3.00" fill="#000"/>
<text x="291.9" y="49.15" font-size="17.5">0.6</text>
<text transform="translate(346.1,140.3) rotate(-90)" font-size="18.0" text-anchor="middle">Visibility</text>
<clipPath id="cb"><rect x="393.65" y="1.20" width="304.35" height="277.15"/></clipPath>
<g clip-path="url(#cb)" fill="none" stroke-linejoin="round" stroke-linecap="butt">
<path d="M378.6 278.3 L383.9 277.8 L389.1 276.6 L394.3 274.3 L399.6 270.8 L404.8 265.9 L410.0 259.9 L415.3 252.8 L420.5 245.1 L425.7 237.2 L431.0 229.6 L436.2 223.1 L441.5 218.1 L446.7 215.4 L451.9 215.4 L457.2 218.5 L462.4 225.1 L467.6 235.2 L472.9 248.7 L478.1 263.2 L483.3 264.5 L488.6 250.1 L493.8 228.7 L499.0 206.7 L504.3 184.9 L509.5 163.9 L514.7 144.5 L520.0 127.7 L525.2 114.7 L530.4 106.3 L535.7 103.5 L540.9 106.7 L546.1 115.8 L551.4 129.8 L556.6 147.4 L561.9 167.2 L567.1 187.9 L572.3 209.0 L577.6 230.1 L582.8 250.6 L588.0 264.5 L593.3 263.8 L598.5 250.0 L603.7 237.2 L609.0 227.5 L614.2 221.2 L619.4 218.2 L624.7 218.2 L629.9 220.8 L635.1 225.6 L640.4 231.8 L645.6 239.0 L650.8 246.6 L656.1 254.0 L661.3 260.7 L666.6 266.5 L671.8 271.1 L677.0 274.5 L682.3 276.7 L687.5 277.8 L692.7 278.3 L698.0 278.3 L703.2 278.3" stroke="#1f77b4" stroke-width="3"/>
<path d="M378.6 277.7 L383.9 273.6 L389.1 263.3 L394.3 245.6 L399.6 220.9 L404.8 191.7 L410.0 161.4 L415.3 134.4 L420.5 114.7 L425.7 105.3 L431.0 107.8 L436.2 121.7 L441.5 144.9 L446.7 173.8 L451.9 204.1 L457.2 231.8 L462.4 253.8 L467.6 268.4 L472.9 275.9 L478.1 278.2 L483.3 278.3 L488.6 276.7 L493.8 270.3 L499.0 257.1 L504.3 236.5 L509.5 209.7 L514.7 179.6 L520.0 150.1 L525.2 125.5 L530.4 109.6 L535.7 104.8 L540.9 112.0 L546.1 130.0 L551.4 156.0 L556.6 185.9 L561.9 215.7 L567.1 241.4 L572.3 260.5 L577.6 272.2 L582.8 277.3 L588.0 278.3 L593.3 278.0 L598.5 274.9 L603.7 266.0 L609.0 249.8 L614.2 226.4 L619.4 197.9 L624.7 167.5 L629.9 139.5 L635.1 117.9 L640.4 106.2 L645.6 106.3 L650.8 118.0 L656.1 139.6 L661.3 167.6 L666.6 198.0 L671.8 226.6 L677.0 249.9 L682.3 266.0 L687.5 274.9 L692.7 278.0 L698.0 278.3 L703.2 277.3" stroke="#ff7f0e" stroke-width="3"/>
</g>
<rect x="412.44" y="2.80" width="3.00" height="4.40" fill="#000"/>
<rect x="412.44" y="272.35" width="3.00" height="4.40" fill="#000"/>
<text x="413.94" y="299.7" font-size="17.5" text-anchor="middle">1</text>
<rect x="493.60" y="2.80" width="3.00" height="4.40" fill="#000"/>
<rect x="493.60" y="272.35" width="3.00" height="4.40" fill="#000"/>
<text x="495.10" y="299.7" font-size="17.5" text-anchor="middle">3</text>
<rect x="574.76" y="2.80" width="3.00" height="4.40" fill="#000"/>
<rect x="574.76" y="272.35" width="3.00" height="4.40" fill="#000"/>
<text x="576.26" y="299.7" font-size="17.5" text-anchor="middle">5</text>
<rect x="655.92" y="2.80" width="3.00" height="4.40" fill="#000"/>
<rect x="655.92" y="272.35" width="3.00" height="4.40" fill="#000"/>
<text x="657.42" y="299.7" font-size="17.5" text-anchor="middle">7</text>
<rect x="395.00" y="276.85" width="4.40" height="3.00" fill="#000"/>
<rect x="692.05" y="276.85" width="4.40" height="3.00" fill="#000"/>
<text x="384.9" y="285.05" font-size="17.5" text-anchor="end">0.0</text>
<text x="706.7" y="284.95" font-size="17.5">0.0</text>
<rect x="395.00" y="201.26" width="4.40" height="3.00" fill="#000"/>
<rect x="692.05" y="201.26" width="4.40" height="3.00" fill="#000"/>
<text x="384.9" y="209.46" font-size="17.5" text-anchor="end">0.3</text>
<text x="706.7" y="209.36" font-size="17.5">0.3</text>
<rect x="395.00" y="125.68" width="4.40" height="3.00" fill="#000"/>
<rect x="692.05" y="125.68" width="4.40" height="3.00" fill="#000"/>
<text x="384.9" y="133.88" font-size="17.5" text-anchor="end">0.6</text>
<text x="706.7" y="133.78" font-size="17.5">0.6</text>
<rect x="395.00" y="50.09" width="4.40" height="3.00" fill="#000"/>
<rect x="692.05" y="50.09" width="4.40" height="3.00" fill="#000"/>
<text x="384.9" y="58.29" font-size="17.5" text-anchor="end">0.9</text>
<text x="706.7" y="58.19" font-size="17.5">0.9</text>
<g fill="#000"><rect x="392.05" y="-0.40" width="2.95" height="280.35"/><rect x="696.45" y="-0.40" width="3.10" height="280.35"/><rect x="392.05" y="-0.40" width="307.50" height="3.20"/><rect x="392.05" y="276.75" width="307.50" height="3.20"/></g>
<path clip-path="url(#cb)" fill="none" stroke-linejoin="round" d="M393.6 181.1 L394.3 171.9 L395.0 171.3 L395.6 180.2 L396.3 177.7 L397.0 177.9 L397.6 170.4 L398.3 172.9 L399.0 166.8 L399.6 180.4 L400.3 157.9 L400.9 165.2 L401.6 160.0 L402.3 157.0 L402.9 152.4 L403.6 145.9 L404.3 140.9 L404.9 139.0 L405.6 134.8 L406.2 128.4 L406.9 126.1 L407.6 121.2 L408.2 110.3 L408.9 105.8 L409.6 101.9 L410.2 93.4 L410.9 87.2 L411.6 83.8 L412.2 79.8 L412.9 71.7 L413.5 65.6 L414.2 64.7 L414.9 62.5 L415.5 56.4 L416.2 52.0 L416.9 50.3 L417.5 42.6 L418.2 35.4 L418.8 34.3 L419.5 33.2 L420.2 28.0 L420.8 26.4 L421.5 22.9 L422.2 28.0 L422.8 25.8 L423.5 25.8 L424.2 27.7 L424.8 22.8 L425.5 21.9 L426.1 25.5 L426.8 20.8 L427.5 23.0 L428.1 24.4 L428.8 26.4 L429.5 26.7 L430.1 34.3 L430.8 31.3 L431.4 33.2 L432.1 41.1 L432.8 38.0 L433.4 41.6 L434.1 41.0 L434.8 45.5 L435.4 45.6 L436.1 45.9 L436.7 50.2 L437.4 48.2 L438.1 52.1 L438.7 53.2 L439.4 58.2 L440.1 56.9 L440.7 60.3 L441.4 64.1 L442.1 63.7 L442.7 63.7 L443.4 63.7 L444.0 72.9 L444.7 68.2 L445.4 70.3 L446.0 72.8 L446.7 76.1 L447.4 72.2 L448.0 79.5 L448.7 76.9 L449.3 77.0 L450.0 85.9 L450.7 85.1 L451.3 89.7 L452.0 88.5 L452.7 87.9 L453.3 89.0 L454.0 99.6 L454.7 98.7 L455.3 97.7 L456.0 97.6 L456.6 102.1 L457.3 106.4 L458.0 105.9 L458.6 108.3 L459.3 110.3 L460.0 113.1 L460.6 112.1 L461.3 113.8 L461.9 116.0 L462.6 117.5 L463.3 121.1 L463.9 120.5 L464.6 118.0 L465.3 122.1 L465.9 125.8 L466.6 120.9 L467.3 123.6 L467.9 121.2 L468.6 126.5 L469.2 128.6 L469.9 131.6 L470.6 126.6 L471.2 124.9 L471.9 133.0 L472.6 133.5 L473.2 131.8 L473.9 135.6 L474.5 135.3 L475.2 136.3 L475.9 136.0 L476.5 134.9 L477.2 138.0 L477.9 136.9 L478.5 140.5 L479.2 139.7 L479.8 145.6 L480.5 144.9 L481.2 141.1 L481.8 144.7 L482.5 143.1 L483.2 143.9 L483.8 143.1 L484.5 144.8 L485.2 145.1 L485.8 148.2 L486.5 150.1 L487.1 150.9 L487.8 151.1 L488.5 153.1 L489.1 152.7 L489.8 152.5 L490.5 152.5 L491.1 154.4 L491.8 158.4 L492.4 155.4 L493.1 155.6 L493.8 154.6 L494.4 156.4 L495.1 159.7 L495.8 160.8 L496.4 156.4 L497.1 160.0 L497.8 159.0 L498.4 159.6 L499.1 166.5 L499.7 165.4 L500.4 166.5 L501.1 167.6 L501.7 168.9 L502.4 170.8 L503.1 172.1 L503.7 176.4 L504.4 175.1 L505.0 177.3 L505.7 176.8 L506.4 179.0 L507.0 178.1 L507.7 178.9 L508.4 180.9 L509.0 182.0 L509.7 183.5 L510.4 185.6 L511.0 186.2 L511.7 187.8 L512.3 187.3 L513.0 189.0 L513.7 189.0 L514.3 193.4 L515.0 190.4 L515.7 194.3 L516.3 195.2 L517.0 195.2 L517.6 196.8 L518.3 196.2 L519.0 198.7 L519.6 200.4 L520.3 200.9 L521.0 198.0 L521.6 201.1 L522.3 204.1 L522.9 202.9 L523.6 206.4 L524.3 201.4 L524.9 207.9 L525.6 205.2 L526.3 205.9 L526.9 210.0 L527.6 207.8 L528.3 207.3 L528.9 208.9 L529.6 210.0 L530.2 209.6 L530.9 211.6 L531.6 212.1 L532.2 213.6 L532.9 213.1 L533.6 216.5 L534.2 214.5 L534.9 217.6 L535.5 219.6 L536.2 218.2 L536.9 217.0 L537.5 219.1 L538.2 223.4 L538.9 224.0 L539.5 225.8 L540.2 223.1 L540.9 221.4 L541.5 225.1 L542.2 221.1 L542.8 223.1 L543.5 222.6 L544.2 223.9 L544.8 224.1 L545.5 223.3 L546.2 220.6 L546.8 219.5 L547.5 222.6 L548.1 221.4 L548.8 224.1 L549.5 227.3 L550.1 224.5 L550.8 224.5 L551.5 226.3 L552.1 225.6 L552.8 225.5 L553.5 228.2 L554.1 229.5 L554.8 228.0 L555.4 228.4 L556.1 229.0 L556.8 227.4 L557.4 226.8 L558.1 230.7 L558.8 229.6 L559.4 229.9 L560.1 230.9 L560.7 231.1 L561.4 234.0 L562.1 233.0 L562.7 231.7 L563.4 234.2 L564.1 236.9 L564.7 235.7 L565.4 235.3 L566.0 237.2 L566.7 239.1 L567.4 236.6 L568.0 241.1 L568.7 239.1 L569.4 240.2 L570.0 242.3 L570.7 239.1 L571.4 240.7 L572.0 243.2 L572.7 240.9 L573.3 242.7 L574.0 245.0 L574.7 243.5 L575.3 242.4 L576.0 242.1 L576.7 243.0 L577.3 243.4 L578.0 243.0 L578.6 244.2 L579.3 242.5 L580.0 244.2 L580.6 244.2 L581.3 244.0 L582.0 246.5 L582.6 246.2 L583.3 243.2 L584.0 245.1 L584.6 246.1 L585.3 245.4 L585.9 246.8 L586.6 245.9 L587.3 247.4 L587.9 246.3 L588.6 249.1 L589.3 245.3 L589.9 248.1 L590.6 249.8 L591.2 248.2 L591.9 248.7 L592.6 248.2 L593.2 250.3 L593.9 248.4 L594.6 244.3 L595.2 251.3 L595.9 249.4 L596.5 250.5 L597.2 250.1 L597.9 253.1 L598.5 252.4 L599.2 250.6 L599.9 251.5 L600.5 249.5 L601.2 252.9 L601.9 252.0 L602.5 248.7 L603.2 253.8 L603.8 254.2 L604.5 253.3 L605.2 253.6 L605.8 252.7 L606.5 253.9 L607.2 255.3 L607.8 254.4 L608.5 251.5 L609.1 253.5 L609.8 259.0 L610.5 255.9 L611.1 257.1 L611.8 255.5 L612.5 256.8 L613.1 254.4 L613.8 255.9 L614.5 256.3 L615.1 257.4 L615.8 258.0 L616.4 257.7 L617.1 256.8 L617.8 258.0 L618.4 259.3 L619.1 257.5 L619.8 259.0 L620.4 259.5 L621.1 260.6 L621.7 260.5 L622.4 260.7 L623.1 263.5 L623.7 259.0 L624.4 259.7 L625.1 260.9 L625.7 259.5 L626.4 260.5 L627.1 260.8 L627.7 264.5 L628.4 262.1 L629.0 261.5 L629.7 260.5 L630.4 260.6 L631.0 261.5 L631.7 264.9 L632.4 266.4 L633.0 263.5 L633.7 264.4 L634.3 263.5 L635.0 265.0 L635.7 264.8 L636.3 267.0 L637.0 265.0 L637.7 266.2 L638.3 265.5 L639.0 265.5 L639.6 266.3 L640.3 266.0 L641.0 266.6 L641.6 265.9 L642.3 266.4 L643.0 267.8 L643.6 268.1 L644.3 265.7 L645.0 267.9 L645.6 266.9 L646.3 267.8 L646.9 269.0 L647.6 269.4 L648.3 268.6 L648.9 268.6 L649.6 268.4 L650.3 270.5 L650.9 269.9 L651.6 269.5 L652.2 267.8 L652.9 272.2 L653.6 269.3 L654.2 270.5 L654.9 269.6 L655.6 270.8 L656.2 270.0 L656.9 268.9 L657.6 270.4 L658.2 270.6 L658.9 270.9 L659.5 272.2 L660.2 271.1 L660.9 272.1 L661.5 272.9 L662.2 272.3 L662.9 272.6 L663.5 271.8 L664.2 272.7 L664.8 273.4 L665.5 271.5 L666.2 272.1 L666.8 271.9 L667.5 272.7 L668.2 273.6 L668.8 274.0 L669.5 273.9 L670.2 272.8 L670.8 273.7 L671.5 275.3 L672.1 274.0 L672.8 275.4 L673.5 273.9 L674.1 275.3 L674.8 275.4 L675.5 274.1 L676.1 274.4 L676.8 276.0 L677.4 273.7 L678.1 272.4 L678.8 276.0 L679.4 272.9 L680.1 275.4 L680.8 275.3 L681.4 275.0 L682.1 276.3 L682.7 273.7 L683.4 274.5 L684.1 275.8 L684.7 275.4 L685.4 276.6 L686.1 275.5 L686.7 274.3 L687.4 276.8 L688.1 275.6 L688.7 275.1 L689.4 274.3 L690.0 274.0 L690.7 275.8 L691.4 276.1 L692.0 275.0 L692.7 275.8 L693.4 275.8 L694.0 274.5 L694.7 273.9 L695.3 275.3 L696.0 275.8 L696.7 275.1 L697.3 277.4 L698.0 275.7" stroke="#2ca02c" stroke-width="3.6"/>
<text x="401.3" y="25.8" font-size="18.0">(b)</text>
<text x="546.0" y="331.3" font-size="18.0" text-anchor="middle">Wavelength (Å)</text>
<text transform="translate(754.0,140.0) rotate(-90)" font-size="18.0" text-anchor="middle">Intensity (arb.u.)</text>
<line x1="554.8" x2="582.2" y1="17.90" y2="17.90" stroke="#1f77b4" stroke-width="3"/>
<text x="590.6" y="21.70" font-size="12.0">Visibility G<tspan font-size="9" dx="1.2" dy="1.6">1,π</tspan></text>
<line x1="554.8" x2="582.2" y1="35.90" y2="35.90" stroke="#ff7f0e" stroke-width="3"/>
<text x="590.6" y="39.70" font-size="12.0">Visibility G<tspan font-size="9" dx="1.2" dy="1.6">1,3π</tspan></text>
<line x1="554.8" x2="582.2" y1="53.90" y2="53.90" stroke="#2ca02c" stroke-width="3"/>
<text x="590.6" y="57.70" font-size="12.0">Neutron spectrum</text>
</svg>
</body></html>
